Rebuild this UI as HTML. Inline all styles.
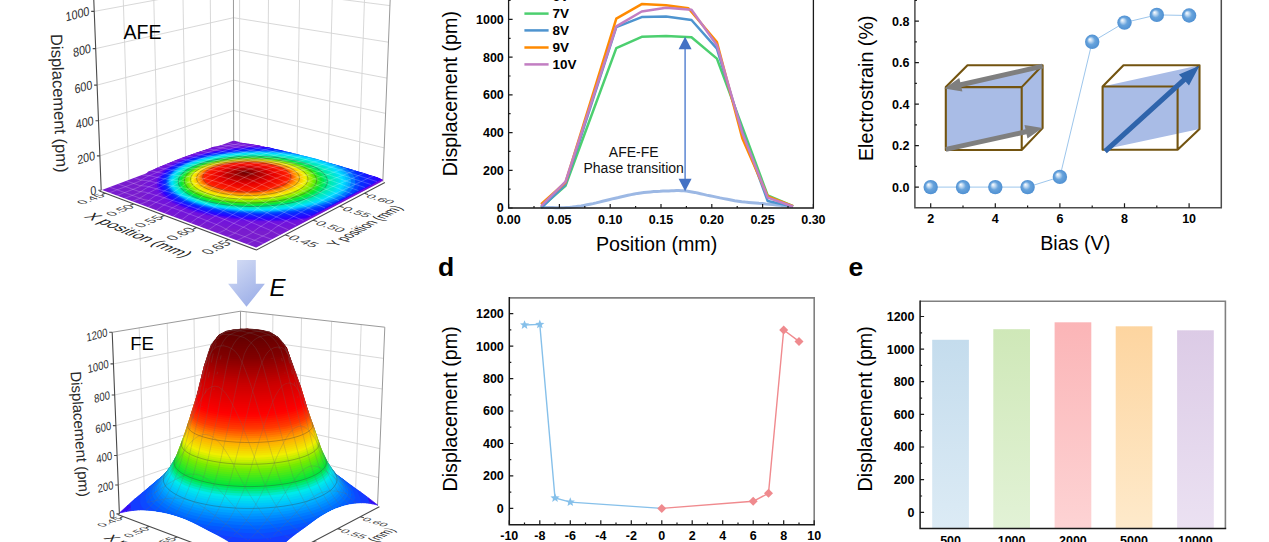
<!DOCTYPE html>
<html><head><meta charset="utf-8"><style>
html,body{margin:0;padding:0;background:#fff;}
svg{display:block;}
text{font-family:"Liberation Sans",sans-serif;}
</style></head><body>
<svg width="1269" height="542" viewBox="0 0 1269 542">
<rect width="1269" height="542" fill="#fff"/>
<path d="M99.9,155.9L233.6,110.5L384.2,147.9M98.5,120.8L233.6,80.1L385.6,113.4M97.1,85.1L233.5,49.2L387,78.1M95.7,48.6L233.5,17.7L388.5,42.2M94.2,11.4L233.4,-14.3L389.9,5.6M128.9,179.9L122.9,-12.3M157.8,169L153.4,-17.4M185.5,158.6L182.7,-22.2M211.5,148.8L210.1,-26.7M239.6,142.1L239.6,-29.8M267.3,149.7L268.7,-26.6M297,158L299.9,-23.1M328.1,166.6L332.7,-19.5M358.6,175.1L365,-15.9" fill="none" stroke="#d4d4d4" stroke-width="0.9"/>
<path d="M233.7,140.4L233.4,-30.5M382.8,181.8L390.7,-13M93.5,-7.5L233.4,-30.5L390.7,-13" fill="none" stroke="#9a9a9a" stroke-width="1"/>
<path d="M101.2,190.3 256.2,248.3 382.8,181.8 233.7,140.4Z" fill="#791cce"/>
<path d="M382.9,180.6 382.9,180.6 380.1,182 374.2,185.1 367.7,188.5 360.9,192.1 353.7,195.9 346.1,199.8 338.3,203.9 330.4,208 322.4,212.2 314.4,216.4 306.6,220.5 298.9,224.5 291.6,228.3 281.8,230.9 266.6,231.1 251.5,230.7 236.6,229.6 222.2,227.9 208.5,225.7 195.8,223 184.1,219.7 173.7,216.1 164.5,212.1 156.9,207.9 150.7,203.4 146,198.8 142.8,194.1 141,189.4 140.8,184.7 141.9,180.1 144.3,175.7 148.2,171.4 156.2,168.4 164.5,165.3 172.9,162.2 181.3,159 189.6,155.9 197.7,152.9 205.6,149.9 213.1,147.1 222.4,145 233.6,143.8 245,142.9 251.7,144.3 258.4,146.2 265.8,148.2 273.8,150.4 282.3,152.8 291.3,155.3 300.7,157.9 310.3,160.5 320.2,163.3 330.1,166 340,168.7 349.8,171.4 359.3,174.1 368.4,176.6 377,179Z" fill="#7719d2"/>
<path d="M382.9,180.4 382.9,180.4 379.7,182 373.9,185.1 367.5,188.4 360.8,191.9 353.7,195.6 346.3,199.5 338.7,203.5 330.9,207.6 323,211.7 315.1,215.8 307.4,219.8 299.9,223.8 292.7,227.5 281.8,229.7 266.9,229.8 252,229.4 237.3,228.4 223.2,226.7 209.7,224.6 197.2,221.9 185.7,218.7 175.4,215.2 166.4,211.3 158.8,207.2 152.7,202.8 148,198.3 144.8,193.7 143.1,189.1 142.8,184.5 143.8,180 146.2,175.6 149.8,171.4 156.6,168.1 164.8,165 173,161.9 181.2,158.8 189.4,155.8 197.4,152.8 205.1,149.9 212.6,147.1 223.2,145.5 234.3,144.3 245.6,143.4 253,144.5 259.6,146.3 266.9,148.4 274.8,150.5 283.2,152.9 292.1,155.3 301.3,157.9 310.8,160.5 320.5,163.2 330.3,165.9 340,168.6 349.6,171.2 359,173.8 367.9,176.3 376.4,178.6Z" fill="#7618d4"/>
<path d="M382.9,180.2 382.9,180.2 379.3,182 373.6,185 367.3,188.3 360.7,191.8 353.7,195.4 346.5,199.2 339,203.1 331.3,207.1 323.6,211.2 315.9,215.2 308.3,219.2 300.9,223 293.8,226.7 281.8,228.4 267.1,228.6 252.5,228.1 238.1,227.1 224.1,225.5 210.9,223.4 198.5,220.8 187.2,217.7 177.1,214.3 168.2,210.5 160.7,206.4 154.6,202.2 150,197.8 146.9,193.3 145.1,188.8 144.8,184.3 145.8,179.9 148.1,175.6 151.7,171.4 157,167.7 165,164.7 173.1,161.7 181.2,158.7 189.2,155.7 197.1,152.7 204.7,149.9 213.5,147.5 224.1,146 235,144.7 246.2,143.9 254.3,144.7 260.8,146.5 268,148.5 275.8,150.6 284.1,152.9 292.9,155.3 301.9,157.8 311.3,160.4 320.9,163.1 330.5,165.7 340,168.4 349.5,171 358.6,173.5 367.4,175.9 375.7,178.2Z" fill="#7517d6"/>
<path d="M382.5,179.9 382.9,180 378.9,182.1 373.3,185 367.2,188.2 360.6,191.6 353.8,195.2 346.6,198.9 339.3,202.8 331.7,206.7 324.1,210.7 316.6,214.6 309.1,218.5 301.8,222.3 294.9,225.9 281.9,227.1 267.4,227.3 253,226.9 238.8,225.9 225.1,224.3 212.1,222.3 199.9,219.7 188.8,216.8 178.8,213.4 170,209.7 162.6,205.7 156.6,201.6 152,197.3 148.9,192.9 147.2,188.4 146.8,184 147.8,179.7 150.1,175.5 153.5,171.5 158.1,167.6 165.3,164.4 173.2,161.5 181.2,158.5 189,155.5 196.8,152.6 204.4,149.9 214.4,148 224.9,146.4 235.7,145.2 246.7,144.4 255.5,144.8 262,146.6 269.2,148.6 276.8,150.7 285,153 293.6,155.4 302.6,157.8 311.8,160.4 321.2,163 330.6,165.6 340.1,168.2 349.3,170.7 358.3,173.2 366.9,175.6 375,177.8Z" fill="#7416d8"/>
<path d="M381.7,179.4 382.9,179.8 378.5,182.1 373,185 367,188.1 360.6,191.4 353.8,194.9 346.8,198.6 339.6,202.4 332.2,206.2 324.7,210.1 317.3,214 310,217.8 302.8,221.6 295.9,225.1 281.9,225.8 267.6,226 253.5,225.6 239.5,224.7 226.1,223.2 213.3,221.2 201.3,218.7 190.3,215.8 180.5,212.5 171.8,208.9 164.5,205 158.6,201 154.1,196.7 151,192.5 149.2,188.1 148.8,183.8 149.8,179.6 152,175.5 155.4,171.5 159.9,167.7 165.5,164.2 173.3,161.2 181.1,158.3 188.9,155.4 196.5,152.6 205.5,150.3 215.4,148.4 225.7,146.9 236.4,145.7 247.3,144.9 256.8,145 263.3,146.8 270.3,148.7 277.9,150.8 285.9,153 294.4,155.4 303.2,157.8 312.3,160.3 321.5,162.9 330.8,165.4 340.1,168 349.1,170.5 358,172.9 366.4,175.2 374.3,177.4Z" fill="#7315d9"/>
<path d="M380.8,179 382.9,179.6 378.1,182.1 372.7,184.9 366.8,188 360.5,191.3 353.9,194.7 347,198.3 339.9,202 332.6,205.8 325.3,209.6 318,213.4 310.8,217.2 303.8,220.8 295.6,223.8 281.9,224.6 267.9,224.7 254,224.4 240.3,223.4 227,222 214.4,220 202.7,217.6 191.9,214.8 182.2,211.6 173.7,208.1 166.4,204.3 160.6,200.3 156.1,196.2 153,192 151.3,187.8 150.9,183.6 151.8,179.5 153.9,175.4 157.2,171.5 161.6,167.8 167.1,164.3 173.5,161 181.1,158.1 188.7,155.3 197.4,152.8 206.6,150.7 216.4,148.9 226.6,147.4 237.1,146.2 247.9,145.4 258.1,145.2 264.5,147 271.4,148.9 278.9,150.9 286.8,153.1 295.2,155.4 303.9,157.8 312.8,160.3 321.9,162.8 331,165.3 340.1,167.8 349,170.2 357.6,172.6 365.9,174.9 373.7,177Z" fill="#7214db"/>
<path d="M380,178.6 382.6,179.6 377.7,182.1 372.3,184.9 366.6,187.9 360.4,191.1 353.9,194.5 347.1,198 340.2,201.7 333.1,205.4 325.9,209.1 318.7,212.8 311.6,216.5 304.8,220.1 295.4,222.6 281.9,223.3 268.1,223.5 254.5,223.1 241,222.2 228,220.8 215.6,218.9 204,216.6 193.4,213.8 183.8,210.7 175.5,207.3 168.4,203.6 162.6,199.7 158.1,195.7 155,191.6 153.3,187.5 152.9,183.4 153.8,179.3 155.8,175.4 159.1,171.6 163.4,167.9 168.8,164.5 175,161.3 182.2,158.3 190,155.6 198.6,153.2 207.7,151.1 217.4,149.3 227.4,147.9 237.8,146.7 248.5,145.9 259.3,145.5 265.7,147.1 272.6,149 279.9,151 287.7,153.2 296,155.4 304.5,157.8 313.3,160.2 322.2,162.7 331.2,165.1 340.1,167.6 348.8,170 357.3,172.3 365.4,174.6 373,176.7Z" fill="#7113dd"/>
<path d="M379.2,178.2 382.1,179.6 377.3,182.1 372,184.8 366.4,187.8 360.3,190.9 354,194.3 347.3,197.7 340.5,201.3 333.5,204.9 326.4,208.6 319.4,212.3 312.5,215.9 305.7,219.4 295.2,221.4 281.9,222 268.4,222.2 254.9,221.9 241.7,221 228.9,219.6 216.8,217.8 205.4,215.5 194.9,212.8 185.5,209.8 177.3,206.5 170.3,202.9 164.5,199.1 160.1,195.2 157.1,191.2 155.3,187.2 154.9,183.2 155.7,179.2 157.8,175.3 161,171.6 165.2,168 170.5,164.7 176.6,161.5 183.6,158.6 191.4,156 199.8,153.6 208.8,151.6 218.4,149.8 228.3,148.4 238.5,147.2 249,146.4 259.7,146 266.9,147.3 273.7,149.1 280.9,151.1 288.7,153.2 296.8,155.5 305.2,157.8 313.8,160.2 322.5,162.6 331.3,165 340.1,167.4 348.7,169.8 357,172 364.9,174.2 372.3,176.3Z" fill="#6a10e1"/>
<path d="M378.4,177.7 381.6,179.7 376.9,182.1 371.7,184.8 366.2,187.7 360.2,190.8 354,194 347.5,197.4 340.8,200.9 333.9,204.5 327,208.1 320.1,211.7 313.3,215.2 306.7,218.7 294.9,220.1 281.9,220.8 268.6,221 255.4,220.6 242.4,219.8 229.9,218.5 217.9,216.7 206.7,214.5 196.4,211.9 187.2,208.9 179.1,205.7 172.1,202.2 166.5,198.5 162.2,194.7 159.1,190.8 157.4,186.9 156.9,182.9 157.7,179.1 159.7,175.3 162.8,171.6 167,168.1 172.1,164.8 178.2,161.8 185.1,158.9 192.8,156.3 201.1,154 210,152 219.3,150.3 229.1,148.8 239.3,147.7 249.6,147 260.2,146.5 268.2,147.4 274.8,149.2 282,151.2 289.6,153.3 297.5,155.5 305.8,157.8 314.3,160.1 322.9,162.5 331.5,164.8 340.1,167.2 348.5,169.5 356.6,171.7 364.4,173.9 371.7,175.9Z" fill="#4c08f0"/>
<path d="M377.5,177.3 381.1,179.8 376.5,182.1 371.4,184.8 366,187.6 360.2,190.6 354,193.8 347.7,197.1 341.1,200.6 334.4,204 327.6,207.6 320.8,211.1 314.2,214.6 307.2,217.8 294.7,218.9 281.9,219.6 268.9,219.7 255.9,219.4 243.2,218.6 230.8,217.3 219.1,215.6 208.1,213.4 198,210.9 188.8,208 180.8,204.9 174,201.5 168.5,197.9 164.2,194.2 161.2,190.4 159.4,186.6 159,182.7 159.7,178.9 161.6,175.2 164.7,171.7 168.8,168.2 173.8,165 179.8,162 186.6,159.2 194.1,156.7 202.3,154.4 211.1,152.4 220.3,150.7 230,149.3 240,148.2 250.2,147.5 260.6,147 269.4,147.6 276,149.4 283,151.3 290.5,153.4 298.3,155.5 306.4,157.8 314.8,160 323.2,162.4 331.7,164.7 340.1,167 348.3,169.3 356.3,171.5 363.9,173.5 371,175.5Z" fill="#2e00fe"/>
<path d="M375.1,176.4 377.3,179.8 374.9,182.7 370,185.3 364.7,188.1 359,191 353,194.2 346.7,197.4 340.3,200.7 333.8,204.2 327.1,207.6 320.6,211 314.1,214.4 304.5,216.6 292.4,217.7 279.9,218.4 267.3,218.5 254.7,218.2 242.3,217.4 230.3,216.2 218.9,214.5 208.2,212.4 198.4,210 189.5,207.2 181.7,204.1 175.1,200.8 169.7,197.4 165.5,193.7 162.5,190 160.8,186.3 160.3,182.6 161.1,178.9 162.9,175.3 165.9,171.8 169.9,168.4 174.8,165.3 180.6,162.3 187.2,159.6 194.6,157.1 202.6,154.9 211.1,153 220.2,151.3 229.6,149.9 239.4,148.9 249.4,148.1 259.5,147.7 269.7,147.6 276.2,149.3 283.1,151.2 290.4,153.2 298,155.3 305.9,157.4 314.1,159.7 322.3,161.9 330.5,164.2 338.7,166.4 346.7,168.6 354.4,170.8 361.8,172.8 368.7,174.7Z" fill="#240bff"/>
<path d="M371.3,176.2 372.8,179.7 373.2,183.4 368.5,185.9 363.3,188.6 357.7,191.5 351.9,194.5 345.8,197.7 339.5,201 333.1,204.3 326.6,207.6 320.2,211 313.1,214 301.8,215.5 290,216.6 277.9,217.2 265.7,217.4 253.4,217.1 241.4,216.3 229.8,215.1 218.7,213.5 208.3,211.4 198.8,209.1 190.1,206.4 182.6,203.4 176.1,200.2 170.8,196.8 166.7,193.3 163.8,189.7 162.2,186 161.7,182.4 162.4,178.8 164.2,175.3 167.1,171.9 170.9,168.6 175.7,165.6 181.4,162.7 187.8,160 195,157.6 202.8,155.4 211.1,153.5 219.9,151.9 229.1,150.6 238.7,149.5 248.4,148.8 258.3,148.3 268.3,148.2 276.5,149.2 283.2,151 290.3,152.9 297.7,155 305.4,157.1 313.3,159.3 321.3,161.4 329.3,163.6 337.2,165.8 345,168 352.5,170 359.7,172 366.4,173.8Z" fill="#1a16ff"/>
<path d="M366.9,176.2 368.4,179.6 368.8,183.2 367,186.5 361.9,189.1 356.5,191.9 350.7,194.9 344.8,198 338.7,201.2 332.4,204.4 326.2,207.7 319.9,210.9 310.1,212.9 299.1,214.4 287.7,215.4 275.9,216 264,216.2 252.2,215.9 240.5,215.2 229.2,214 218.5,212.4 208.4,210.5 199.1,208.1 190.8,205.5 183.4,202.6 177.1,199.5 172,196.3 168,192.8 165.2,189.3 163.5,185.8 163.1,182.3 163.7,178.8 165.4,175.3 168.2,172 172,168.8 176.6,165.8 182.2,163 188.4,160.4 195.4,158 203,155.9 211.1,154.1 219.7,152.5 228.7,151.2 238,150.2 247.5,149.4 257.2,149 266.9,148.9 276.6,149.1 283.2,150.8 290.1,152.7 297.4,154.7 304.8,156.7 312.5,158.8 320.3,161 328.1,163.1 335.8,165.2 343.3,167.3 350.6,169.3 357.5,171.2 364,173Z" fill="#1021ff"/>
<path d="M362.6,176.2 364,179.6 364.3,183 363.5,186.5 360.5,189.6 355.2,192.4 349.6,195.3 343.8,198.3 337.9,201.4 331.8,204.6 325.7,207.7 317.1,210.1 307,211.9 296.4,213.3 285.3,214.3 273.9,214.9 262.4,215 250.9,214.7 239.6,214 228.7,212.9 218.3,211.4 208.5,209.5 199.5,207.2 191.4,204.7 184.2,201.9 178.1,198.9 173.1,195.7 169.2,192.4 166.5,189 164.9,185.5 164.4,182.1 165,178.7 166.7,175.4 169.4,172.1 173,169 177.6,166.1 182.9,163.4 189,160.8 195.8,158.5 203.2,156.4 211.1,154.6 219.5,153.1 228.2,151.8 237.3,150.8 246.6,150.1 256,149.7 265.5,149.6 274.9,149.7 283.3,150.7 290,152.5 297,154.4 304.3,156.4 311.7,158.4 319.3,160.5 326.8,162.6 334.3,164.6 341.6,166.6 348.7,168.6 355.4,170.4 360.2,172.9Z" fill="#062cff"/>
<path d="M358.2,176.2 359.6,179.5 359.8,182.8 359,186.2 357.1,189.6 353.9,192.8 348.5,195.7 342.8,198.6 337,201.6 331,204.6 322.8,207 313.7,209.1 304,210.8 293.7,212.2 283,213.2 271.9,213.7 260.8,213.9 249.7,213.6 238.7,212.9 228.1,211.8 218,210.3 208.6,208.5 199.9,206.3 192,203.9 185.1,201.2 179.1,198.2 174.3,195.2 170.5,191.9 167.8,188.6 166.2,185.3 165.8,181.9 166.4,178.6 168,175.4 170.6,172.2 174.1,169.2 178.5,166.4 183.7,163.7 189.6,161.2 196.2,159 203.4,157 211.1,155.2 219.3,153.7 227.8,152.4 236.6,151.5 245.6,150.8 254.8,150.4 264,150.3 273.2,150.4 282.4,150.9 289.9,152.3 296.7,154.1 303.7,156.1 311,158 318.3,160 325.6,162.1 332.9,164 339.9,166 346.8,167.9 352.7,170 355.9,173Z" fill="#0047ff"/>
<path d="M353.9,176.2 355.1,179.4 355.3,182.7 354.5,185.9 352.6,189.2 349.6,192.4 345.5,195.5 340.4,198.5 334.3,201.2 327.2,203.8 319.2,206.1 310.4,208.1 301,209.8 291,211.1 280.6,212 270,212.6 259.2,212.7 248.4,212.4 237.8,211.8 227.6,210.7 217.8,209.3 208.7,207.5 200.2,205.4 192.6,203 185.9,200.4 180.1,197.6 175.4,194.6 171.7,191.5 169.1,188.3 167.6,185 167.1,181.8 167.7,178.6 169.2,175.4 171.8,172.4 175.2,169.4 179.4,166.7 184.5,164.1 190.2,161.6 196.6,159.4 203.6,157.5 211.1,155.7 219,154.3 227.3,153.1 235.9,152.1 244.7,151.4 253.6,151 262.6,150.9 271.5,151.1 280.4,151.6 289.2,152.3 296.4,153.9 303.2,155.7 310.2,157.6 317.3,159.6 324.4,161.5 331.4,163.4 338.3,165.3 344.5,167.3 348.5,170.2 351.7,173.1Z" fill="#0077ff"/>
<path d="M349.5,176.2 350.7,179.3 350.9,182.5 350,185.7 348.1,188.8 345.2,191.9 341.2,194.9 336.2,197.8 330.2,200.5 323.4,203 315.6,205.2 307.2,207.1 298,208.7 288.4,210 278.3,210.9 268,211.4 257.6,211.6 247.2,211.3 237,210.7 227.1,209.6 217.6,208.3 208.8,206.5 200.6,204.5 193.2,202.2 186.7,199.7 181.1,197 176.5,194.1 173,191 170.4,187.9 169,184.8 168.5,181.6 169,178.5 170.5,175.5 172.9,172.5 176.2,169.6 180.4,166.9 185.3,164.4 190.8,162.1 197.1,159.9 203.8,158 211.1,156.3 218.8,154.9 226.8,153.7 235.2,152.8 243.7,152.1 252.4,151.7 261.1,151.6 269.8,151.8 278.5,152.2 286.9,152.9 295.2,153.9 302.7,155.4 309.4,157.2 316.3,159.1 323.2,161 329.9,162.9 335.9,165 340.6,167.6 344.4,170.3 347.4,173.2Z" fill="#00a7ff"/>
<path d="M347.1,176.3 348.2,179.4 348.3,182.5 347.5,185.6 345.6,188.7 342.7,191.7 338.8,194.7 333.9,197.5 328,200.1 321.3,202.6 313.7,204.7 305.4,206.6 296.4,208.2 287,209.5 277.1,210.4 267,210.9 256.8,211 246.6,210.7 236.6,210.1 226.9,209.1 217.7,207.8 209,206.1 201,204.1 193.8,201.8 187.4,199.4 181.9,196.7 177.4,193.8 173.9,190.9 171.5,187.8 170,184.7 169.5,181.6 170,178.6 171.5,175.6 173.8,172.6 177.1,169.8 181.1,167.2 185.9,164.7 191.4,162.4 197.5,160.3 204.1,158.4 211.3,156.7 218.8,155.3 226.7,154.1 234.9,153.2 243.3,152.6 251.8,152.2 260.4,152.1 268.9,152.3 277.4,152.7 285.7,153.4 293.8,154.4 301.7,155.6 309.1,157.1 316,158.8 322.6,160.7 328.5,162.9 333.8,165.3 338.3,167.8 342.1,170.5 345,173.4Z" fill="#00bcff"/>
<path d="M344.7,176.5 345.8,179.4 345.9,182.5 345,185.6 343.2,188.6 340.3,191.6 336.5,194.5 331.6,197.2 325.9,199.8 319.3,202.2 311.8,204.4 303.7,206.2 294.9,207.8 285.6,209 276,209.9 266.1,210.4 256.1,210.5 246.1,210.2 236.3,209.6 226.8,208.6 217.8,207.3 209.3,205.7 201.4,203.7 194.4,201.5 188.1,199.1 182.7,196.4 178.3,193.6 174.9,190.7 172.4,187.7 171,184.7 170.5,181.6 171,178.6 172.4,175.7 174.7,172.8 177.9,170 181.9,167.4 186.6,165 191.9,162.7 197.9,160.6 204.5,158.7 211.5,157.1 218.9,155.7 226.6,154.6 234.7,153.7 242.9,153 251.3,152.7 259.7,152.6 268.1,152.7 276.4,153.2 284.6,153.8 292.6,154.8 300.2,156 307.5,157.5 314.4,159.2 320.8,161.1 326.5,163.2 331.7,165.6 336.1,168.1 339.8,170.7 342.7,173.5Z" fill="#00d0ff"/>
<path d="M342.3,176.6 343.4,179.5 343.5,182.5 342.6,185.5 340.8,188.5 338,191.4 334.2,194.3 329.4,197 323.8,199.5 317.3,201.9 310,204 302,205.8 293.4,207.3 284.3,208.5 274.9,209.3 265.2,209.8 255.4,210 245.6,209.7 236,209.1 226.8,208.1 217.9,206.8 209.6,205.2 201.9,203.3 194.9,201.1 188.8,198.8 183.5,196.2 179.2,193.4 175.8,190.6 173.4,187.6 172,184.6 171.5,181.6 172,178.7 173.4,175.8 175.6,172.9 178.7,170.2 182.6,167.6 187.2,165.2 192.5,163 198.4,160.9 204.8,159.1 211.6,157.5 218.9,156.1 226.5,155 234.4,154.1 242.5,153.5 250.7,153.1 259,153 267.2,153.2 275.4,153.6 283.5,154.3 291.3,155.2 298.8,156.4 305.9,157.9 312.7,159.5 318.9,161.4 324.6,163.5 329.6,165.8 334,168.3 337.6,170.9 340.4,173.7Z" fill="#00e1fd"/>
<path d="M340,176.7 341,179.6 341,182.5 340.2,185.5 338.4,188.4 335.6,191.3 331.9,194.1 327.2,196.7 321.7,199.2 315.3,201.5 308.1,203.6 300.3,205.3 291.9,206.8 283,208 273.8,208.8 264.3,209.3 254.7,209.4 245.1,209.2 235.8,208.6 226.7,207.7 218,206.4 209.8,204.8 202.3,202.9 195.5,200.8 189.5,198.4 184.3,195.9 180.1,193.2 176.8,190.4 174.4,187.5 173,184.6 172.5,181.7 173,178.7 174.3,175.9 176.5,173.1 179.6,170.4 183.4,167.9 187.9,165.5 193,163.3 198.8,161.3 205.1,159.5 211.8,157.9 219,156.5 226.5,155.4 234.2,154.6 242.1,153.9 250.2,153.6 258.3,153.5 266.4,153.7 274.4,154.1 282.3,154.7 290,155.7 297.3,156.9 304.4,158.3 311,159.9 317.1,161.8 322.6,163.8 327.6,166.1 331.8,168.5 335.3,171.1 338.1,173.8Z" fill="#00e3ed"/>
<path d="M337.6,176.8 338.6,179.6 338.6,182.5 337.8,185.4 336,188.3 333.2,191.1 329.6,193.9 325,196.5 319.6,198.9 313.3,201.1 306.3,203.2 298.6,204.9 290.4,206.4 281.7,207.5 272.7,208.3 263.4,208.8 254,208.9 244.7,208.7 235.5,208.1 226.6,207.2 218.1,205.9 210.1,204.4 202.7,202.5 196.1,200.4 190.2,198.1 185.1,195.7 181,193 177.7,190.3 175.4,187.4 174,184.5 173.5,181.7 174,178.8 175.3,176 177.4,173.2 180.4,170.6 184.1,168.1 188.5,165.8 193.6,163.6 199.2,161.6 205.4,159.9 212,158.3 219,157 226.4,155.9 233.9,155 241.7,154.4 249.6,154.1 257.6,154 265.6,154.1 273.4,154.5 281.2,155.2 288.7,156.1 295.9,157.3 302.8,158.7 309.2,160.3 315.2,162.1 320.7,164.2 325.5,166.4 329.7,168.8 333.1,171.3 335.8,174Z" fill="#00e5dc"/>
<path d="M335.2,176.9 336.1,179.7 336.2,182.5 335.3,185.4 333.6,188.2 330.9,191 327.3,193.6 322.8,196.2 317.4,198.6 311.3,200.8 304.5,202.8 297,204.5 288.9,205.9 280.4,207 271.5,207.8 262.5,208.3 253.3,208.4 244.2,208.2 235.2,207.6 226.5,206.7 218.2,205.5 210.4,203.9 203.2,202.1 196.6,200.1 190.9,197.8 185.9,195.4 181.8,192.8 178.7,190.1 176.4,187.3 175,184.5 174.5,181.7 174.9,178.8 176.2,176.1 178.3,173.4 181.2,170.8 184.9,168.4 189.2,166.1 194.1,163.9 199.7,162 205.7,160.2 212.2,158.7 219.1,157.4 226.3,156.3 233.7,155.5 241.3,154.9 249.1,154.5 256.9,154.4 264.7,154.6 272.4,155 280,155.7 287.4,156.6 294.4,157.7 301.2,159.1 307.5,160.7 313.4,162.5 318.7,164.5 323.4,166.7 327.5,169 330.8,171.5 333.4,174.2Z" fill="#00e7cc"/>
<path d="M332.8,177 333.7,179.7 333.7,182.5 332.9,185.3 331.1,188.1 328.5,190.8 325,193.4 320.6,195.9 315.3,198.3 309.3,200.4 302.6,202.4 295.3,204.1 287.4,205.5 279.1,206.5 270.4,207.3 261.6,207.8 252.6,207.9 243.7,207.7 234.9,207.1 226.4,206.2 218.3,205 210.6,203.5 203.6,201.8 197.2,199.7 191.6,197.5 186.7,195.1 182.7,192.6 179.6,190 177.4,187.2 176,184.5 175.5,181.7 175.9,178.9 177.2,176.2 179.2,173.6 182.1,171 185.6,168.6 189.9,166.3 194.7,164.2 200.1,162.3 206,160.6 212.4,159.1 219.1,157.8 226.2,156.7 233.5,155.9 240.9,155.3 248.5,155 256.2,154.9 263.8,155.1 271.4,155.5 278.8,156.1 286,157 293,158.1 299.6,159.5 305.8,161 311.5,162.8 316.7,164.8 321.3,167 325.3,169.3 328.6,171.7 331.1,174.3Z" fill="#00e9bc"/>
<path d="M330.4,177.1 331.3,179.8 331.3,182.5 330.5,185.3 328.7,188 326.1,190.6 322.7,193.2 318.3,195.7 313.2,198 307.4,200.1 300.8,202 293.6,203.6 285.9,205 277.8,206.1 269.3,206.8 260.7,207.3 251.9,207.4 243.2,207.1 234.6,206.6 226.3,205.7 218.4,204.5 210.9,203.1 204,201.4 197.8,199.4 192.3,197.2 187.5,194.9 183.6,192.4 180.5,189.8 178.3,187.1 177,184.4 176.5,181.7 176.9,179 178.1,176.3 180.2,173.7 182.9,171.2 186.4,168.8 190.5,166.6 195.3,164.6 200.6,162.7 206.4,161 212.6,159.5 219.2,158.2 226.1,157.2 233.2,156.4 240.5,155.8 248,155.5 255.5,155.4 263,155.5 270.4,155.9 277.7,156.6 284.7,157.4 291.5,158.5 298,159.9 304,161.4 309.7,163.2 314.7,165.1 319.2,167.2 323.1,169.5 326.3,171.9 328.8,174.5Z" fill="#00ebac"/>
<path d="M328,177.2 328.9,179.8 328.9,182.5 328,185.2 326.3,187.9 323.8,190.5 320.3,193 316.1,195.4 311.1,197.7 305.4,199.7 299,201.6 291.9,203.2 284.4,204.5 276.5,205.6 268.2,206.3 259.8,206.8 251.2,206.9 242.7,206.6 234.3,206.1 226.2,205.2 218.5,204.1 211.2,202.7 204.5,201 198.4,199.1 193,196.9 188.3,194.6 184.5,192.2 181.5,189.6 179.3,187 178,184.4 177.6,181.7 177.9,179 179.1,176.4 181.1,173.9 183.8,171.4 187.1,169.1 191.2,166.9 195.8,164.9 201,163 206.7,161.4 212.8,159.9 219.2,158.7 226,157.6 233,156.8 240.1,156.3 247.4,155.9 254.8,155.9 262.1,156 269.4,156.4 276.5,157 283.4,157.9 290.1,159 296.4,160.3 302.3,161.8 307.8,163.5 312.8,165.4 317.2,167.5 320.9,169.8 324,172.1 326.4,174.6Z" fill="#00ea8f"/>
<path d="M325.6,177.3 326.4,179.9 326.4,182.5 325.6,185.2 323.9,187.8 321.4,190.3 318,192.8 313.9,195.2 309,197.4 303.4,199.4 297.1,201.2 290.3,202.8 282.9,204.1 275.2,205.1 267.1,205.8 258.9,206.2 250.5,206.3 242.2,206.1 234,205.6 226.1,204.8 218.6,203.6 211.5,202.2 204.9,200.6 198.9,198.7 193.7,196.6 189.1,194.4 185.4,192 182.4,189.5 180.3,186.9 179,184.3 178.6,181.7 178.9,179.1 180.1,176.5 182,174 184.6,171.6 187.9,169.3 191.9,167.2 196.4,165.2 201.5,163.4 207,161.7 213,160.3 219.3,159.1 225.9,158.1 232.7,157.3 239.7,156.7 246.9,156.4 254.1,156.3 261.2,156.5 268.3,156.9 275.3,157.5 282.1,158.3 288.6,159.4 294.8,160.7 300.6,162.2 305.9,163.9 310.8,165.8 315,167.8 318.7,170 321.8,172.3 324.1,174.8Z" fill="#00e870"/>
<path d="M323.2,177.4 324,180 324,182.5 323.1,185.1 321.5,187.7 319,190.2 315.7,192.6 311.7,194.9 306.9,197.1 301.4,199 295.3,200.8 288.6,202.3 281.4,203.6 273.9,204.6 266,205.3 258,205.7 249.8,205.8 241.7,205.6 233.8,205.1 226,204.3 218.7,203.2 211.7,201.8 205.3,200.2 199.5,198.4 194.4,196.3 189.9,194.1 186.3,191.8 183.4,189.3 181.3,186.8 180,184.3 179.6,181.7 179.9,179.1 181,176.6 182.9,174.2 185.4,171.8 188.7,169.6 192.5,167.5 197,165.5 201.9,163.7 207.3,162.1 213.1,160.7 219.3,159.5 225.8,158.5 232.5,157.8 239.3,157.2 246.3,156.9 253.4,156.8 260.4,157 267.3,157.3 274.1,157.9 280.7,158.8 287.1,159.8 293.1,161.1 298.8,162.6 304,164.2 308.8,166.1 312.9,168.1 316.5,170.2 319.5,172.5 321.7,174.9Z" fill="#00e751"/>
<path d="M321.2,177.4 321.9,179.9 321.9,182.5 321,185 319.4,187.5 317,190 313.8,192.3 309.8,194.6 305.1,196.7 299.7,198.6 293.7,200.4 287.2,201.9 280.2,203.1 272.8,204.1 265.1,204.8 257.2,205.2 249.3,205.3 241.4,205.1 233.6,204.6 226,203.8 218.8,202.7 212.1,201.3 205.8,199.8 200.1,198 195.1,196 190.7,193.8 187.2,191.5 184.3,189.1 182.3,186.7 181,184.2 180.6,181.6 180.9,179.1 182,176.7 183.8,174.3 186.3,171.9 189.5,169.7 193.2,167.7 197.6,165.8 202.4,164 207.7,162.4 213.4,161 219.5,159.9 225.8,158.9 232.3,158.1 239.1,157.6 245.9,157.3 252.8,157.2 259.7,157.4 266.5,157.7 273.1,158.3 279.6,159.2 285.8,160.2 291.8,161.4 297.3,162.9 302.4,164.5 307,166.3 311.1,168.3 314.6,170.4 317.5,172.7 319.7,175Z" fill="#06e638"/>
<path d="M319.8,177.3 320.5,179.8 320.4,182.3 319.6,184.8 318,187.2 315.6,189.6 312.4,192 308.5,194.2 303.9,196.2 298.6,198.1 292.7,199.8 286.3,201.3 279.4,202.5 272.2,203.5 264.6,204.2 256.9,204.6 249.1,204.7 241.3,204.5 233.7,204 226.3,203.2 219.2,202.1 212.6,200.8 206.4,199.2 200.8,197.5 195.9,195.5 191.6,193.4 188.1,191.2 185.3,188.8 183.3,186.4 182.1,183.9 181.6,181.5 181.9,179 183,176.6 184.7,174.2 187.2,171.9 190.3,169.8 194,167.7 198.3,165.8 203,164.1 208.2,162.6 213.8,161.2 219.8,160 226,159.1 232.5,158.3 239.1,157.8 245.8,157.5 252.6,157.4 259.3,157.6 266,157.9 272.6,158.5 279,159.3 285.1,160.4 290.9,161.6 296.3,163 301.4,164.6 305.9,166.4 309.9,168.3 313.4,170.4 316.2,172.6 318.3,174.9Z" fill="#1ae72e"/>
<path d="M318.3,177.2 319,179.6 319,182.1 318.1,184.5 316.6,186.9 314.2,189.3 311.1,191.6 307.2,193.8 302.7,195.8 297.5,197.6 291.7,199.3 285.4,200.7 278.7,201.9 271.5,202.9 264.1,203.6 256.6,203.9 248.9,204 241.3,203.8 233.8,203.3 226.5,202.6 219.6,201.5 213.1,200.3 207,198.7 201.5,197 196.7,195.1 192.5,193 189,190.8 186.3,188.5 184.3,186.1 183.1,183.7 182.6,181.3 182.9,178.9 184,176.5 185.7,174.2 188.1,171.9 191.1,169.8 194.8,167.8 198.9,165.9 203.6,164.2 208.7,162.7 214.2,161.4 220.1,160.2 226.2,159.3 232.6,158.6 239.1,158 245.7,157.7 252.4,157.7 259,157.8 265.6,158.2 272,158.7 278.3,159.5 284.3,160.5 290,161.8 295.4,163.1 300.3,164.7 304.8,166.5 308.7,168.4 312.1,170.4 314.8,172.6 316.9,174.9Z" fill="#2ee823"/>
<path d="M316.9,177.1 317.6,179.5 317.5,181.9 316.7,184.3 315.1,186.7 312.8,189 309.7,191.2 306,193.3 301.5,195.3 296.4,197.1 290.7,198.8 284.5,200.2 277.9,201.4 270.9,202.3 263.7,202.9 256.2,203.3 248.7,203.4 241.3,203.2 233.9,202.7 226.8,202 220,201 213.6,199.7 207.6,198.2 202.2,196.5 197.5,194.6 193.4,192.6 189.9,190.4 187.2,188.2 185.3,185.9 184.1,183.5 183.6,181.1 183.9,178.7 184.9,176.4 186.6,174.1 189,171.9 192,169.8 195.5,167.9 199.6,166 204.2,164.4 209.3,162.9 214.7,161.5 220.4,160.4 226.4,159.5 232.7,158.8 239.1,158.3 245.6,158 252.1,157.9 258.7,158 265.1,158.4 271.5,159 277.6,159.7 283.6,160.7 289.2,161.9 294.4,163.3 299.3,164.8 303.6,166.6 307.5,168.4 310.8,170.5 313.5,172.6 315.6,174.8Z" fill="#42e918"/>
<path d="M315.5,177 316.2,179.3 316.1,181.7 315.3,184 313.7,186.4 311.4,188.6 308.4,190.8 304.7,192.9 300.3,194.9 295.3,196.7 289.7,198.2 283.7,199.6 277.2,200.8 270.3,201.7 263.2,202.3 255.9,202.7 248.5,202.8 241.2,202.6 234,202.1 227,201.4 220.3,200.4 214,199.2 208.2,197.7 202.9,196 198.3,194.2 194.2,192.2 190.9,190.1 188.2,187.9 186.3,185.6 185.1,183.3 184.7,180.9 184.9,178.6 185.9,176.3 187.6,174 189.9,171.9 192.8,169.8 196.3,167.9 200.3,166.1 204.8,164.5 209.8,163 215.1,161.7 220.7,160.6 226.7,159.7 232.8,159 239.1,158.5 245.5,158.2 251.9,158.1 258.3,158.2 264.7,158.6 270.9,159.2 277,159.9 282.8,160.9 288.3,162.1 293.5,163.4 298.2,165 302.5,166.6 306.3,168.5 309.5,170.5 312.2,172.6 314.2,174.8Z" fill="#56ea0d"/>
<path d="M314.1,176.9 314.7,179.2 314.6,181.5 313.8,183.8 312.3,186.1 310,188.3 307.1,190.5 303.4,192.5 299.1,194.4 294.2,196.2 288.8,197.7 282.8,199.1 276.4,200.2 269.7,201.1 262.7,201.7 255.6,202.1 248.4,202.2 241.2,202 234.1,201.5 227.3,200.8 220.7,199.8 214.5,198.6 208.8,197.2 203.7,195.6 199.1,193.8 195.1,191.8 191.8,189.7 189.2,187.6 187.3,185.3 186.1,183 185.7,180.7 185.9,178.4 186.9,176.2 188.5,174 190.8,171.9 193.6,169.9 197.1,168 201,166.2 205.4,164.6 210.3,163.1 215.5,161.9 221.1,160.8 226.9,159.9 232.9,159.2 239.1,158.7 245.4,158.4 251.7,158.3 258,158.5 264.3,158.8 270.4,159.4 276.3,160.1 282,161.1 287.4,162.2 292.5,163.6 297.2,165.1 301.4,166.7 305.1,168.5 308.3,170.5 310.8,172.5 312.8,174.7Z" fill="#6aeb02"/>
<path d="M312.7,176.8 313.3,179 313.2,181.3 312.4,183.6 310.9,185.8 308.7,188 305.8,190.1 302.2,192.1 297.9,194 293.1,195.7 287.8,197.2 281.9,198.5 275.7,199.6 269.1,200.5 262.2,201.1 255.2,201.5 248.2,201.5 241.1,201.4 234.2,200.9 227.5,200.2 221.1,199.3 215,198.1 209.4,196.7 204.4,195.1 199.8,193.3 196,191.4 192.7,189.4 190.2,187.2 188.3,185 187.1,182.8 186.7,180.6 186.9,178.3 187.9,176.1 189.5,173.9 191.7,171.9 194.5,169.9 197.8,168 201.7,166.3 206,164.7 210.8,163.3 215.9,162 221.4,161 227.1,160.1 233,159.4 239.1,158.9 245.3,158.6 251.5,158.6 257.7,158.7 263.8,159 269.8,159.6 275.6,160.3 281.2,161.3 286.6,162.4 291.5,163.7 296.1,165.2 300.2,166.8 303.9,168.6 307,170.5 309.5,172.5 311.4,174.6Z" fill="#80ec00"/>
<path d="M311.3,176.7 311.9,178.9 311.8,181.1 311,183.3 309.5,185.5 307.3,187.7 304.4,189.7 300.9,191.7 296.8,193.5 292,195.2 286.8,196.7 281,198 274.9,199 268.5,199.9 261.8,200.5 254.9,200.8 248,200.9 241.1,200.7 234.3,200.3 227.7,199.6 221.5,198.7 215.5,197.5 210,196.2 205.1,194.6 200.6,192.9 196.8,191 193.6,189 191.1,186.9 189.3,184.8 188.2,182.6 187.7,180.4 187.9,178.2 188.8,176 190.4,173.9 192.6,171.9 195.3,169.9 198.6,168.1 202.4,166.4 206.7,164.8 211.3,163.4 216.4,162.2 221.7,161.2 227.3,160.3 233.1,159.6 239.1,159.1 245.1,158.9 251.2,158.8 257.3,158.9 263.4,159.3 269.3,159.8 275,160.5 280.5,161.4 285.7,162.6 290.6,163.8 295,165.3 299.1,166.9 302.7,168.6 305.7,170.5 308.2,172.5 310,174.6Z" fill="#97ed00"/>
<path d="M309.9,176.6 310.4,178.7 310.3,180.9 309.5,183.1 308.1,185.2 305.9,187.3 303.1,189.3 299.6,191.3 295.6,193 290.9,194.7 285.8,196.1 280.2,197.4 274.2,198.5 267.8,199.3 261.3,199.9 254.6,200.2 247.8,200.3 241.1,200.1 234.4,199.7 228,199 221.8,198.1 216,197 210.6,195.7 205.8,194.1 201.4,192.4 197.7,190.6 194.6,188.7 192.1,186.6 190.3,184.5 189.2,182.4 188.7,180.2 188.9,178 189.8,175.9 191.3,173.8 193.5,171.8 196.2,169.9 199.4,168.1 203.1,166.5 207.3,164.9 211.9,163.6 216.8,162.4 222,161.3 227.5,160.5 233.2,159.8 239.1,159.4 245,159.1 251,159 257,159.1 262.9,159.5 268.7,160 274.3,160.7 279.7,161.6 284.8,162.7 289.6,164 294,165.4 298,167 301.4,168.7 304.4,170.5 306.8,172.5 308.7,174.5Z" fill="#aded00"/>
<path d="M308.5,176.5 309,178.6 308.9,180.7 308.1,182.8 306.6,184.9 304.5,187 301.8,189 298.4,190.8 294.4,192.6 289.9,194.2 284.8,195.6 279.3,196.9 273.4,197.9 267.2,198.7 260.8,199.3 254.3,199.6 247.6,199.7 241,199.5 234.5,199.1 228.2,198.4 222.2,197.6 216.5,196.4 211.2,195.1 206.5,193.7 202.2,192 198.5,190.2 195.5,188.3 193.1,186.3 191.3,184.2 190.2,182.1 189.7,180 190,177.9 190.8,175.8 192.3,173.8 194.4,171.8 197,170 200.2,168.2 203.8,166.6 207.9,165.1 212.4,163.7 217.2,162.5 222.4,161.5 227.8,160.7 233.3,160 239.1,159.6 244.9,159.3 250.8,159.2 256.7,159.4 262.5,159.7 268.1,160.2 273.6,160.9 278.9,161.8 283.9,162.9 288.6,164.1 292.9,165.5 296.8,167.1 300.2,168.7 303.1,170.5 305.5,172.4 307.3,174.4Z" fill="#c3ee00"/>
<path d="M307,176.4 307.6,178.4 307.4,180.5 306.7,182.6 305.2,184.7 303.2,186.7 300.4,188.6 297.1,190.4 293.2,192.1 288.8,193.7 283.8,195.1 278.4,196.3 272.7,197.3 266.6,198.1 260.3,198.7 253.9,199 247.4,199.1 241,198.9 234.6,198.5 228.5,197.9 222.6,197 217,195.9 211.9,194.6 207.2,193.2 203,191.6 199.4,189.8 196.4,187.9 194,186 192.3,184 191.2,181.9 190.8,179.8 191,177.8 191.8,175.7 193.2,173.7 195.3,171.8 197.8,170 200.9,168.3 204.5,166.7 208.5,165.2 212.9,163.9 217.6,162.7 222.7,161.7 228,160.9 233.5,160.3 239.1,159.8 244.8,159.5 250.6,159.5 256.3,159.6 262,159.9 267.6,160.4 273,161.1 278.1,162 283.1,163 287.6,164.2 291.9,165.6 295.7,167.1 299,168.8 301.9,170.5 304.2,172.4 305.9,174.4Z" fill="#daef00"/>
<path d="M305.6,176.3 306.1,178.3 306,180.3 305.2,182.4 303.8,184.4 301.8,186.3 299.1,188.2 295.9,190 292,191.7 287.7,193.2 282.8,194.6 277.6,195.8 271.9,196.8 266,197.5 259.9,198.1 253.6,198.4 247.3,198.5 240.9,198.3 234.7,197.9 228.7,197.3 222.9,196.4 217.5,195.4 212.5,194.1 207.9,192.7 203.8,191.1 200.3,189.4 197.3,187.6 195,185.7 193.3,183.7 192.2,181.7 191.8,179.7 192,177.6 192.8,175.6 194.2,173.7 196.2,171.8 198.7,170 201.7,168.3 205.2,166.7 209.1,165.3 213.4,164 218.1,162.9 223,161.9 228.2,161.1 233.6,160.5 239.1,160 244.7,159.8 250.3,159.7 256,159.8 261.5,160.1 267,160.6 272.3,161.3 277.4,162.2 282.2,163.2 286.7,164.4 290.8,165.7 294.5,167.2 297.8,168.8 300.6,170.6 302.8,172.4 304.5,174.3Z" fill="#f0f000"/>
<path d="M304.2,176.2 304.7,178.1 304.6,180.1 303.8,182.1 302.4,184.1 300.4,186 297.8,187.9 294.6,189.6 290.9,191.2 286.6,192.7 281.9,194.1 276.7,195.2 271.2,196.2 265.4,196.9 259.4,197.5 253.3,197.8 247.1,197.9 240.9,197.7 234.8,197.3 228.9,196.7 223.3,195.9 218,194.8 213.1,193.6 208.6,192.2 204.6,190.7 201.1,189 198.2,187.2 196,185.4 194.3,183.4 193.2,181.5 192.8,179.5 193,177.5 193.8,175.5 195.1,173.6 197.1,171.8 199.5,170 202.5,168.4 205.9,166.8 209.7,165.4 214,164.1 218.5,163 223.3,162.1 228.4,161.3 233.7,160.7 239.1,160.2 244.6,160 250.1,159.9 255.6,160 261.1,160.3 266.4,160.8 271.6,161.5 276.6,162.3 281.3,163.3 285.7,164.5 289.7,165.8 293.4,167.3 296.6,168.9 299.3,170.6 301.5,172.4 303.1,174.2Z" fill="#f6e600"/>
<path d="M302.8,176.1 303.3,178 303.2,179.9 302.4,181.9 301.1,183.8 299.1,185.7 296.5,187.5 293.4,189.2 289.7,190.8 285.6,192.3 280.9,193.6 275.9,194.7 270.5,195.6 264.9,196.4 259,196.9 253,197.2 246.9,197.3 240.9,197.1 235,196.7 229.2,196.1 223.7,195.3 218.5,194.3 213.7,193.1 209.3,191.8 205.4,190.3 202,188.6 199.2,186.9 196.9,185 195.3,183.2 194.2,181.2 193.8,179.3 194,177.3 194.8,175.4 196.1,173.6 198,171.8 200.4,170 203.3,168.4 206.6,166.9 210.4,165.5 214.5,164.3 219,163.2 223.7,162.2 228.7,161.5 233.8,160.9 239.1,160.4 244.5,160.2 249.9,160.1 255.3,160.2 260.7,160.5 265.9,161 271,161.7 275.8,162.5 280.4,163.5 284.7,164.6 288.7,165.9 292.3,167.4 295.4,168.9 298,170.6 300.2,172.3 301.8,174.2Z" fill="#f8d800"/>
<path d="M301.4,175.9 301.9,177.8 301.7,179.7 301,181.6 299.7,183.5 297.7,185.4 295.2,187.1 292.2,188.8 288.6,190.4 284.5,191.8 280,193.1 275.1,194.2 269.8,195.1 264.3,195.8 258.5,196.3 252.7,196.6 246.8,196.7 240.9,196.5 235.1,196.1 229.4,195.6 224.1,194.8 219,193.8 214.3,192.6 210,191.3 206.2,189.8 202.9,188.2 200.1,186.5 197.9,184.7 196.3,182.9 195.3,181 194.8,179.1 195,177.2 195.7,175.3 197,173.5 198.9,171.7 201.2,170 204.1,168.5 207.3,167 211,165.6 215,164.4 219.4,163.3 224,162.4 228.9,161.6 233.9,161.1 239.1,160.6 244.4,160.4 249.7,160.3 255,160.5 260.2,160.7 265.3,161.2 270.3,161.9 275.1,162.7 279.6,163.6 283.8,164.8 287.6,166 291.1,167.4 294.2,168.9 296.8,170.6 298.9,172.3 300.4,174.1Z" fill="#facb00"/>
<path d="M300.1,175.8 300.5,177.7 300.3,179.5 299.6,181.4 298.3,183.2 296.4,185 294,186.8 291,188.4 287.4,189.9 283.5,191.3 279,192.5 274.2,193.6 269.1,194.5 263.7,195.2 258.1,195.7 252.4,196 246.6,196.1 240.9,195.9 235.2,195.6 229.7,195 224.4,194.2 219.5,193.3 214.9,192.1 210.7,190.8 207,189.4 203.7,187.8 201,186.2 198.9,184.4 197.3,182.6 196.3,180.8 195.9,178.9 196,177.1 196.7,175.2 198,173.4 199.8,171.7 202.1,170.1 204.8,168.5 208,167.1 211.6,165.7 215.6,164.5 219.8,163.5 224.4,162.6 229.1,161.8 234.1,161.3 239.1,160.8 244.3,160.6 249.5,160.6 254.7,160.7 259.8,161 264.8,161.4 269.6,162 274.3,162.8 278.7,163.8 282.8,164.9 286.6,166.1 290,167.5 293,169 295.5,170.6 297.5,172.3 299.1,174Z" fill="#fbbe00"/>
<path d="M298.7,175.7 299.1,177.5 298.9,179.3 298.2,181.2 296.9,183 295.1,184.7 292.7,186.4 289.7,188 286.3,189.5 282.4,190.8 278.1,192 273.4,193.1 268.4,194 263.1,194.6 257.7,195.1 252.1,195.4 246.4,195.5 240.8,195.3 235.3,195 229.9,194.4 224.8,193.7 220,192.7 215.5,191.6 211.4,190.4 207.7,189 204.6,187.4 201.9,185.8 199.8,184.1 198.3,182.3 197.3,180.5 196.9,178.7 197,176.9 197.7,175.1 199,173.4 200.7,171.7 202.9,170.1 205.6,168.5 208.8,167.1 212.3,165.8 216.1,164.7 220.3,163.6 224.7,162.7 229.4,162 234.2,161.5 239.1,161.1 244.2,160.8 249.3,160.8 254.3,160.9 259.3,161.2 264.2,161.6 269,162.2 273.5,163 277.8,163.9 281.9,165 285.5,166.2 288.9,167.6 291.8,169 294.2,170.6 296.2,172.2 297.7,173.9Z" fill="#fdb100"/>
<path d="M297.3,175.6 297.7,177.4 297.5,179.1 296.8,180.9 295.5,182.7 293.7,184.4 291.4,186 288.5,187.6 285.2,189 281.4,190.3 277.1,191.5 272.6,192.6 267.7,193.4 262.5,194.1 257.2,194.5 251.8,194.8 246.3,194.9 240.8,194.7 235.4,194.4 230.2,193.8 225.2,193.1 220.5,192.2 216.1,191.1 212.1,189.9 208.5,188.5 205.4,187 202.9,185.5 200.8,183.8 199.3,182.1 198.3,180.3 197.9,178.5 198,176.8 198.7,175 199.9,173.3 201.6,171.7 203.8,170.1 206.4,168.6 209.5,167.2 212.9,165.9 216.7,164.8 220.7,163.8 225,162.9 229.6,162.2 234.3,161.7 239.2,161.3 244.1,161 249,161 254,161.1 258.9,161.4 263.7,161.8 268.3,162.4 272.8,163.2 277,164.1 280.9,165.1 284.5,166.3 287.7,167.6 290.6,169.1 293,170.6 294.9,172.2 296.3,173.9Z" fill="#ffa300"/>
<path d="M295.9,175.5 296.3,177.2 296.1,178.9 295.4,180.7 294.2,182.4 292.4,184.1 290.1,185.7 287.3,187.2 284,188.6 280.3,189.9 276.2,191 271.7,192 267,192.8 262,193.5 256.8,194 251.5,194.2 246.1,194.3 240.8,194.1 235.5,193.8 230.4,193.3 225.6,192.6 221,191.7 216.7,190.6 212.8,189.4 209.3,188.1 206.3,186.6 203.8,185.1 201.8,183.5 200.3,181.8 199.3,180.1 198.9,178.4 199.1,176.6 199.7,174.9 200.9,173.2 202.5,171.6 204.7,170.1 207.2,168.6 210.2,167.3 213.5,166 217.2,164.9 221.2,163.9 225.4,163.1 229.8,162.4 234.4,161.8 239.2,161.5 244,161.2 248.8,161.2 253.7,161.3 258.4,161.6 263.1,162 267.6,162.6 272,163.3 276.1,164.2 279.9,165.3 283.4,166.4 286.6,167.7 289.3,169.1 291.7,170.6 293.6,172.2 295,173.8Z" fill="#ff8f00"/>
<path d="M294.5,175.4 294.8,177.1 294.7,178.7 294,180.4 292.8,182.1 291.1,183.7 288.8,185.3 286.1,186.8 282.9,188.1 279.3,189.4 275.3,190.5 270.9,191.5 266.3,192.3 261.4,192.9 256.3,193.4 251.2,193.6 246,193.7 240.8,193.6 235.7,193.2 230.7,192.7 225.9,192 221.5,191.2 217.3,190.1 213.5,189 210.1,187.7 207.2,186.3 204.7,184.7 202.7,183.2 201.3,181.5 200.4,179.9 200,178.2 200.1,176.5 200.7,174.8 201.8,173.2 203.4,171.6 205.5,170.1 208,168.7 210.9,167.4 214.2,166.1 217.7,165 221.6,164.1 225.7,163.3 230.1,162.6 234.6,162 239.2,161.7 243.9,161.5 248.6,161.4 253.3,161.5 258,161.8 262.6,162.2 267,162.8 271.2,163.5 275.2,164.4 278.9,165.4 282.4,166.5 285.4,167.8 288.1,169.1 290.4,170.6 292.2,172.1 293.6,173.7Z" fill="#ff7900"/>
<path d="M293.1,175.3 293.4,176.9 293.3,178.5 292.6,180.2 291.4,181.8 289.7,183.4 287.5,184.9 284.9,186.4 281.8,187.7 278.2,188.9 274.3,190 270.1,191 265.6,191.7 260.8,192.4 255.9,192.8 250.9,193 245.8,193.1 240.7,193 235.8,192.7 230.9,192.2 226.3,191.5 221.9,190.6 217.9,189.6 214.2,188.5 210.9,187.2 208,185.9 205.6,184.4 203.7,182.9 202.3,181.3 201.4,179.6 201,178 201.1,176.3 201.7,174.7 202.8,173.1 204.4,171.6 206.4,170.1 208.8,168.7 211.6,167.4 214.8,166.2 218.3,165.2 222.1,164.2 226.1,163.4 230.3,162.8 234.7,162.2 239.2,161.9 243.8,161.7 248.4,161.6 253,161.7 257.5,162 262,162.4 266.3,163 270.4,163.7 274.3,164.5 278,165.5 281.3,166.6 284.3,167.8 286.9,169.2 289.1,170.6 290.9,172.1 292.2,173.6Z" fill="#ff6200"/>
<path d="M291.7,175.1 292,176.7 291.9,178.4 291.2,180 290,181.5 288.4,183.1 286.2,184.6 283.7,186 280.6,187.3 277.2,188.5 273.4,189.5 269.3,190.4 264.9,191.2 260.2,191.8 255.5,192.2 250.6,192.5 245.6,192.5 240.7,192.4 235.9,192.1 231.2,191.6 226.7,190.9 222.4,190.1 218.5,189.1 214.9,188 211.7,186.8 208.9,185.5 206.5,184 204.7,182.5 203.3,181 202.4,179.4 202,177.8 202.1,176.2 202.7,174.6 203.8,173.1 205.3,171.6 207.2,170.1 209.6,168.8 212.3,167.5 215.4,166.3 218.8,165.3 222.5,164.4 226.4,163.6 230.5,163 234.8,162.4 239.2,162.1 243.7,161.9 248.2,161.8 252.7,161.9 257.1,162.2 261.4,162.6 265.6,163.1 269.7,163.8 273.5,164.7 277,165.6 280.2,166.7 283.2,167.9 285.7,169.2 287.9,170.6 289.6,172 290.9,173.6Z" fill="#ff4c00"/>
<path d="M290.3,175 290.6,176.6 290.4,178.2 289.8,179.7 288.7,181.3 287,182.8 285,184.2 282.4,185.6 279.5,186.8 276.1,188 272.5,189 268.4,189.9 264.2,190.6 259.7,191.2 255,191.6 250.3,191.9 245.5,191.9 240.7,191.8 236,191.5 231.4,191 227.1,190.4 222.9,189.6 219.1,188.6 215.6,187.6 212.5,186.4 209.7,185.1 207.5,183.7 205.6,182.2 204.3,180.7 203.4,179.2 203,177.6 203.1,176 203.7,174.5 204.7,173 206.2,171.5 208.1,170.1 210.4,168.8 213.1,167.6 216.1,166.5 219.4,165.4 223,164.5 226.8,163.8 230.8,163.1 234.9,162.6 239.2,162.3 243.6,162.1 247.9,162 252.3,162.1 256.6,162.4 260.9,162.8 265,163.3 268.9,164 272.6,164.8 276,165.8 279.2,166.8 282,168 284.5,169.2 286.6,170.6 288.3,172 289.5,173.5Z" fill="#ff3600"/>
<path d="M288.9,174.9 289.2,176.4 289,178 288.4,179.5 287.3,181 285.7,182.4 283.7,183.8 281.2,185.2 278.4,186.4 275.1,187.5 271.5,188.5 267.6,189.4 263.5,190.1 259.1,190.7 254.6,191.1 250,191.3 245.3,191.3 240.7,191.2 236.1,190.9 231.7,190.5 227.4,189.8 223.4,189.1 219.7,188.2 216.3,187.1 213.2,185.9 210.6,184.7 208.4,183.3 206.6,181.9 205.3,180.4 204.4,178.9 204.1,177.4 204.1,175.9 204.7,174.4 205.7,172.9 207.1,171.5 209,170.1 211.2,168.9 213.8,167.7 216.7,166.6 219.9,165.6 223.4,164.7 227.1,163.9 231,163.3 235.1,162.8 239.2,162.5 243.5,162.3 247.7,162.3 252,162.4 256.2,162.6 260.3,163 264.3,163.5 268.1,164.2 271.7,165 275,165.9 278.1,166.9 280.9,168 283.3,169.3 285.3,170.6 286.9,172 288.1,173.4Z" fill="#ff1f00"/>
<path d="M286.8,174.8 287.1,176.2 286.9,177.7 286.3,179.1 285.2,180.5 283.7,181.9 281.8,183.2 279.4,184.5 276.7,185.7 273.6,186.7 270.2,187.7 266.5,188.5 262.5,189.2 258.4,189.7 254.1,190.1 249.7,190.3 245.3,190.3 240.9,190.2 236.5,190 232.3,189.5 228.3,188.9 224.5,188.2 220.9,187.3 217.7,186.4 214.8,185.3 212.3,184.1 210.1,182.8 208.4,181.4 207.2,180 206.4,178.6 206,177.2 206.1,175.7 206.6,174.3 207.5,172.9 208.9,171.5 210.6,170.2 212.8,169 215.2,167.9 218,166.8 221.1,165.9 224.4,165 227.9,164.3 231.6,163.7 235.5,163.3 239.5,163 243.5,162.8 247.6,162.7 251.7,162.8 255.7,163.1 259.6,163.4 263.4,163.9 267,164.6 270.5,165.3 273.7,166.2 276.6,167.2 279.2,168.2 281.5,169.4 283.4,170.7 285,172 286.1,173.4Z" fill="#fc1a00"/>
<path d="M284.7,174.6 284.9,176 284.8,177.4 284.2,178.7 283.1,180.1 281.7,181.4 279.9,182.6 277.6,183.8 275,184.9 272.1,185.9 268.9,186.8 265.3,187.6 261.6,188.2 257.7,188.7 253.6,189.1 249.5,189.3 245.3,189.3 241.1,189.2 237,189 233,188.6 229.2,188 225.6,187.3 222.2,186.5 219.1,185.6 216.4,184.5 214,183.4 212,182.2 210.3,180.9 209.1,179.6 208.4,178.3 208,176.9 208.1,175.5 208.5,174.2 209.4,172.9 210.7,171.6 212.4,170.3 214.4,169.2 216.7,168.1 219.3,167.1 222.3,166.2 225.4,165.4 228.8,164.7 232.3,164.2 236,163.7 239.8,163.4 243.6,163.3 247.5,163.2 251.3,163.3 255.2,163.5 258.9,163.9 262.5,164.3 265.9,164.9 269.2,165.7 272.2,166.5 275,167.4 277.5,168.4 279.7,169.6 281.5,170.7 282.9,172 284,173.3Z" fill="#f81600"/>
<path d="M282.5,174.5 282.8,175.8 282.6,177.1 282,178.4 281.1,179.6 279.7,180.9 277.9,182 275.8,183.1 273.4,184.2 270.6,185.1 267.5,186 264.2,186.7 260.7,187.3 257,187.8 253.1,188.1 249.2,188.3 245.2,188.3 241.3,188.2 237.4,188 233.7,187.6 230,187.1 226.6,186.5 223.4,185.7 220.5,184.8 217.9,183.8 215.7,182.8 213.8,181.6 212.2,180.4 211.1,179.2 210.3,177.9 210,176.6 210,175.3 210.5,174.1 211.3,172.8 212.5,171.6 214.1,170.4 216,169.3 218.2,168.3 220.7,167.4 223.4,166.5 226.4,165.8 229.6,165.1 233,164.6 236.5,164.2 240,163.9 243.7,163.7 247.4,163.7 251,163.8 254.6,164 258.2,164.3 261.6,164.8 264.9,165.3 267.9,166 270.8,166.8 273.4,167.7 275.8,168.6 277.8,169.7 279.5,170.8 280.9,172 281.9,173.2Z" fill="#f41100"/>
<path d="M280.4,174.4 280.6,175.6 280.4,176.8 279.9,178 279,179.2 277.7,180.3 276,181.4 274,182.5 271.7,183.4 269.1,184.3 266.2,185.1 263.1,185.8 259.7,186.4 256.2,186.8 252.6,187.1 248.9,187.3 245.2,187.3 241.5,187.3 237.9,187 234.3,186.7 230.9,186.2 227.7,185.6 224.7,184.9 222,184 219.5,183.1 217.4,182.1 215.6,181.1 214.1,179.9 213,178.8 212.3,177.6 212,176.4 212,175.2 212.4,174 213.2,172.8 214.3,171.6 215.8,170.5 217.6,169.5 219.7,168.5 222,167.7 224.6,166.9 227.5,166.2 230.5,165.5 233.6,165 236.9,164.7 240.3,164.4 243.8,164.2 247.2,164.2 250.7,164.3 254.1,164.5 257.4,164.8 260.7,165.2 263.8,165.7 266.7,166.4 269.4,167.1 271.8,167.9 274.1,168.8 276,169.8 277.6,170.9 278.9,172 279.8,173.2Z" fill="#f10d00"/>
<path d="M278.3,174.2 278.5,175.3 278.3,176.5 277.8,177.6 276.9,178.7 275.7,179.8 274.1,180.8 272.2,181.8 270,182.7 267.6,183.5 264.9,184.3 261.9,184.9 258.8,185.4 255.5,185.9 252.1,186.1 248.7,186.3 245.2,186.4 241.7,186.3 238.3,186.1 235,185.7 231.8,185.3 228.8,184.7 226,184 223.4,183.3 221.1,182.4 219.1,181.5 217.4,180.5 216,179.4 215,178.4 214.3,177.2 214,176.1 214,175 214.4,173.8 215.1,172.7 216.2,171.7 217.6,170.7 219.2,169.7 221.2,168.8 223.4,167.9 225.8,167.2 228.5,166.5 231.3,166 234.3,165.5 237.4,165.1 240.6,164.9 243.8,164.7 247.1,164.7 250.4,164.7 253.6,164.9 256.7,165.2 259.8,165.6 262.7,166.1 265.4,166.7 267.9,167.4 270.3,168.2 272.3,169.1 274.1,170 275.7,171 276.9,172 277.7,173.1Z" fill="#ed0900"/>
<path d="M276.1,174.1 276.3,175.1 276.1,176.2 275.6,177.2 274.8,178.3 273.7,179.3 272.2,180.2 270.4,181.1 268.4,182 266.1,182.8 263.5,183.4 260.8,184 257.9,184.5 254.8,184.9 251.7,185.2 248.4,185.3 245.2,185.4 241.9,185.3 238.7,185.1 235.6,184.8 232.6,184.4 229.8,183.8 227.2,183.2 224.8,182.5 222.6,181.7 220.8,180.9 219.2,179.9 217.9,179 216.9,177.9 216.3,176.9 216,175.8 216,174.8 216.3,173.7 217,172.7 218,171.7 219.3,170.8 220.9,169.8 222.7,169 224.8,168.2 227,167.5 229.5,166.9 232.2,166.4 235,165.9 237.9,165.6 240.9,165.3 243.9,165.2 247,165.2 250,165.2 253,165.4 256,165.7 258.8,166 261.6,166.5 264.1,167.1 266.5,167.7 268.7,168.5 270.6,169.3 272.3,170.1 273.7,171 274.8,172 275.6,173Z" fill="#ea0500"/>
<path d="M274,173.9 274.1,174.9 274,175.9 273.5,176.9 272.7,177.8 271.7,178.8 270.3,179.6 268.6,180.5 266.7,181.3 264.6,182 262.2,182.6 259.7,183.2 257,183.6 254.1,184 251.2,184.2 248.2,184.4 245.1,184.4 242.1,184.3 239.2,184.1 236.3,183.9 233.5,183.5 230.9,183 228.4,182.4 226.2,181.8 224.2,181 222.4,180.2 221,179.4 219.8,178.5 218.9,177.5 218.3,176.6 218,175.6 218,174.6 218.3,173.6 218.9,172.7 219.8,171.7 221,170.9 222.5,170 224.2,169.2 226.1,168.5 228.3,167.8 230.6,167.3 233,166.8 235.7,166.4 238.4,166 241.2,165.8 244,165.7 246.8,165.7 249.7,165.7 252.5,165.9 255.3,166.1 257.9,166.5 260.5,166.9 262.8,167.4 265.1,168 267.1,168.7 268.9,169.5 270.4,170.3 271.8,171.1 272.8,172 273.5,173Z" fill="#e60000"/>
<path d="M271.9,173.8 272,174.7 271.8,175.6 271.4,176.5 270.7,177.4 269.7,178.2 268.4,179 266.9,179.8 265.1,180.5 263.1,181.2 260.9,181.8 258.6,182.3 256,182.7 253.4,183 250.7,183.2 247.9,183.4 245.1,183.4 242.3,183.3 239.6,183.2 236.9,182.9 234.4,182.6 231.9,182.1 229.7,181.6 227.6,181 225.7,180.3 224.1,179.6 222.7,178.8 221.6,178 220.8,177.1 220.2,176.2 220,175.3 220,174.4 220.3,173.5 220.8,172.6 221.7,171.8 222.8,171 224.1,170.2 225.7,169.5 227.5,168.8 229.5,168.2 231.6,167.6 233.9,167.2 236.3,166.8 238.8,166.5 241.4,166.3 244.1,166.2 246.7,166.1 249.4,166.2 252,166.4 254.5,166.6 257,166.9 259.3,167.3 261.6,167.8 263.6,168.3 265.5,169 267.1,169.7 268.6,170.4 269.8,171.2 270.8,172 271.4,172.9Z" fill="#dd0000"/>
<path d="M269.7,173.6 269.8,174.5 269.7,175.3 269.3,176.1 268.6,176.9 267.7,177.7 266.5,178.5 265.1,179.2 263.5,179.8 261.6,180.4 259.6,180.9 257.4,181.4 255.1,181.8 252.7,182.1 250.2,182.3 247.7,182.4 245.1,182.4 242.5,182.4 240,182.2 237.6,182 235.2,181.7 233,181.3 230.9,180.8 229,180.2 227.3,179.6 225.8,179 224.5,178.2 223.5,177.5 222.7,176.7 222.2,175.9 221.9,175.1 222,174.2 222.2,173.4 222.7,172.6 223.5,171.8 224.5,171.1 225.8,170.4 227.2,169.7 228.9,169.1 230.7,168.5 232.7,168 234.8,167.6 237,167.2 239.3,167 241.7,166.8 244.1,166.7 246.6,166.6 249,166.7 251.4,166.8 253.8,167 256.1,167.3 258.2,167.7 260.3,168.2 262.2,168.7 263.9,169.2 265.4,169.9 266.7,170.6 267.8,171.3 268.7,172 269.3,172.8Z" fill="#d30000"/>
<path d="M267.6,173.5 267.7,174.3 267.5,175 267.1,175.8 266.5,176.5 265.7,177.2 264.6,177.9 263.3,178.5 261.8,179.1 260.1,179.6 258.3,180.1 256.3,180.5 254.2,180.9 252,181.1 249.7,181.3 247.4,181.4 245.1,181.5 242.7,181.4 240.5,181.3 238.2,181.1 236.1,180.8 234,180.4 232.1,180 230.4,179.5 228.8,178.9 227.5,178.3 226.3,177.7 225.4,177 224.7,176.3 224.2,175.5 223.9,174.8 223.9,174 224.2,173.3 224.7,172.6 225.4,171.9 226.3,171.2 227.4,170.5 228.7,169.9 230.2,169.4 231.9,168.8 233.7,168.4 235.6,168 237.7,167.7 239.8,167.4 242,167.3 244.2,167.2 246.5,167.1 248.7,167.2 250.9,167.3 253.1,167.5 255.1,167.8 257.1,168.1 259,168.5 260.7,169 262.3,169.5 263.7,170.1 264.9,170.7 265.9,171.4 266.7,172 267.2,172.8Z" fill="#c90000"/>
<path d="M265.4,173.4 265.4,174 265.3,174.7 264.9,175.4 264.4,176 263.6,176.7 262.6,177.3 261.5,177.8 260.1,178.4 258.6,178.8 257,179.3 255.2,179.6 253.3,179.9 251.3,180.2 249.3,180.4 247.2,180.5 245.1,180.5 243,180.4 240.9,180.3 238.9,180.1 237,179.9 235.2,179.5 233.4,179.2 231.9,178.7 230.5,178.2 229.2,177.7 228.2,177.1 227.3,176.5 226.7,175.8 226.3,175.2 226,174.5 226,173.9 226.3,173.2 226.7,172.5 227.3,171.9 228.1,171.3 229.2,170.7 230.3,170.2 231.7,169.7 233.2,169.2 234.8,168.8 236.6,168.4 238.4,168.2 240.3,167.9 242.3,167.8 244.3,167.7 246.3,167.7 248.4,167.7 250.3,167.8 252.3,168 254.2,168.2 255.9,168.5 257.6,168.9 259.2,169.3 260.6,169.8 261.9,170.3 262.9,170.9 263.8,171.4 264.6,172.1 265.1,172.7Z" fill="#bf0000"/>
<path d="M262.7,173.2 262.8,173.8 262.6,174.4 262.3,175 261.8,175.5 261.2,176.1 260.3,176.6 259.3,177.1 258.2,177.5 256.9,178 255.4,178.3 253.9,178.6 252.2,178.9 250.5,179.1 248.8,179.3 247,179.3 245.2,179.4 243.4,179.3 241.6,179.2 239.8,179.1 238.2,178.8 236.6,178.6 235.1,178.2 233.8,177.9 232.6,177.4 231.5,177 230.6,176.5 229.8,175.9 229.3,175.4 228.9,174.8 228.7,174.2 228.7,173.7 228.9,173.1 229.3,172.5 229.8,172 230.5,171.4 231.4,170.9 232.4,170.5 233.6,170 234.9,169.6 236.3,169.3 237.8,169 239.4,168.7 241.1,168.5 242.8,168.4 244.5,168.3 246.3,168.3 248,168.3 249.7,168.4 251.4,168.6 253,168.8 254.6,169.1 256,169.4 257.4,169.7 258.6,170.1 259.7,170.6 260.6,171.1 261.4,171.6 262,172.1 262.4,172.7Z" fill="#b50000"/>
<path d="M260,173.1 260.1,173.6 260,174.1 259.7,174.6 259.3,175 258.7,175.5 258,175.9 257.2,176.4 256.2,176.7 255.1,177.1 253.9,177.4 252.6,177.7 251.2,177.9 249.8,178.1 248.3,178.2 246.8,178.2 245.3,178.3 243.7,178.2 242.2,178.1 240.8,178 239.4,177.8 238.1,177.6 236.8,177.3 235.7,177 234.6,176.6 233.7,176.2 233,175.8 232.3,175.4 231.9,174.9 231.5,174.4 231.4,174 231.4,173.5 231.5,173 231.8,172.5 232.3,172 232.9,171.6 233.6,171.2 234.5,170.8 235.5,170.4 236.6,170.1 237.8,169.8 239,169.5 240.4,169.3 241.8,169.1 243.2,169 244.7,169 246.2,168.9 247.7,169 249.1,169.1 250.5,169.2 251.9,169.4 253.2,169.6 254.4,169.8 255.6,170.2 256.6,170.5 257.5,170.9 258.3,171.3 259,171.7 259.5,172.2 259.8,172.6Z" fill="#ab0000"/>
<path d="M257.4,173 257.4,173.4 257.3,173.8 257.1,174.2 256.8,174.6 256.3,174.9 255.7,175.3 255,175.6 254.2,175.9 253.3,176.2 252.4,176.5 251.3,176.7 250.2,176.9 249,177 247.8,177.1 246.6,177.2 245.3,177.2 244.1,177.1 242.9,177.1 241.7,177 240.6,176.8 239.5,176.6 238.5,176.4 237.6,176.1 236.7,175.9 236,175.5 235.4,175.2 234.8,174.8 234.5,174.5 234.2,174.1 234.1,173.7 234,173.3 234.2,172.9 234.4,172.5 234.8,172.1 235.3,171.7 235.8,171.4 236.6,171.1 237.4,170.8 238.2,170.5 239.2,170.3 240.3,170.1 241.4,169.9 242.5,169.7 243.7,169.7 244.9,169.6 246.1,169.6 247.3,169.6 248.5,169.7 249.6,169.8 250.8,169.9 251.8,170.1 252.8,170.3 253.8,170.6 254.6,170.9 255.3,171.2 256,171.5 256.5,171.8 256.9,172.2 257.2,172.6Z" fill="#9e0000"/>
<path d="M254.7,172.9 254.7,173.2 254.7,173.5 254.5,173.8 254.2,174.1 253.9,174.4 253.4,174.6 252.9,174.9 252.3,175.1 251.6,175.3 250.8,175.5 250,175.7 249.2,175.8 248.3,175.9 247.3,176 246.4,176.1 245.4,176.1 244.5,176.1 243.5,176 242.6,175.9 241.8,175.8 240.9,175.7 240.1,175.5 239.4,175.3 238.8,175.1 238.2,174.8 237.7,174.6 237.3,174.3 237,174 236.8,173.7 236.7,173.4 236.7,173.1 236.8,172.8 237,172.5 237.3,172.2 237.6,171.9 238.1,171.6 238.6,171.4 239.3,171.2 239.9,170.9 240.7,170.8 241.5,170.6 242.3,170.5 243.2,170.4 244.1,170.3 245.1,170.2 246,170.2 246.9,170.2 247.9,170.3 248.8,170.4 249.6,170.5 250.4,170.6 251.2,170.8 251.9,171 252.6,171.2 253.2,171.5 253.6,171.7 254.1,172 254.4,172.3 254.6,172.6Z" fill="#910000"/>
<path d="M252.1,172.7 252.1,173 252,173.2 251.9,173.4 251.7,173.6 251.5,173.8 251.1,174 250.8,174.2 250.3,174.3 249.8,174.5 249.3,174.6 248.7,174.7 248.1,174.8 247.5,174.9 246.8,175 246.2,175 245.5,175 244.9,175 244.2,174.9 243.6,174.9 242.9,174.8 242.4,174.7 241.8,174.6 241.3,174.4 240.8,174.3 240.4,174.1 240.1,173.9 239.8,173.7 239.6,173.5 239.5,173.3 239.4,173.1 239.4,172.9 239.4,172.7 239.6,172.5 239.8,172.3 240,172.1 240.3,171.9 240.7,171.7 241.2,171.5 241.6,171.4 242.2,171.3 242.7,171.1 243.3,171 244,171 244.6,170.9 245.3,170.9 245.9,170.9 246.6,170.9 247.2,170.9 247.9,171 248.5,171.1 249.1,171.2 249.6,171.3 250.1,171.4 250.6,171.6 251,171.7 251.3,171.9 251.6,172.1 251.8,172.3 252,172.5Z" fill="#840000"/>
<path d="M249.4,172.6 249.4,172.7 249.4,172.9 249.3,173 249.2,173.1 249,173.2 248.9,173.3 248.6,173.4 248.4,173.5 248.1,173.6 247.8,173.7 247.5,173.8 247.1,173.8 246.7,173.9 246.4,173.9 246,173.9 245.6,173.9 245.2,173.9 244.8,173.9 244.5,173.9 244.1,173.8 243.8,173.7 243.5,173.7 243.2,173.6 242.9,173.5 242.7,173.4 242.5,173.3 242.3,173.2 242.2,173.1 242.1,173 242.1,172.8 242,172.7 242.1,172.6 242.2,172.5 242.3,172.3 242.4,172.2 242.6,172.1 242.8,172 243.1,171.9 243.4,171.8 243.7,171.7 244,171.7 244.3,171.6 244.7,171.6 245.1,171.6 245.5,171.5 245.8,171.5 246.2,171.5 246.6,171.6 247,171.6 247.3,171.6 247.7,171.7 248,171.8 248.3,171.8 248.5,171.9 248.8,172 249,172.1 249.1,172.3 249.3,172.4 249.3,172.5Z" fill="#760000"/>
<path d="M246.7,172.5 246.7,172.5 246.7,172.6 246.7,172.6 246.7,172.6 246.6,172.7 246.6,172.7 246.5,172.7 246.5,172.7 246.4,172.8 246.3,172.8 246.2,172.8 246.1,172.8 246,172.8 245.9,172.8 245.8,172.8 245.7,172.8 245.6,172.8 245.5,172.8 245.4,172.8 245.3,172.8 245.2,172.8 245.1,172.8 245,172.8 245,172.7 244.9,172.7 244.8,172.7 244.8,172.6 244.8,172.6 244.7,172.6 244.7,172.5 244.7,172.5 244.7,172.5 244.7,172.4 244.8,172.4 244.8,172.4 244.9,172.3 244.9,172.3 245,172.3 245.1,172.3 245.2,172.2 245.2,172.2 245.3,172.2 245.4,172.2 245.5,172.2 245.6,172.2 245.8,172.2 245.9,172.2 246,172.2 246.1,172.2 246.2,172.2 246.3,172.2 246.3,172.3 246.4,172.3 246.5,172.3 246.6,172.3 246.6,172.4 246.7,172.4 246.7,172.4 246.7,172.5Z" fill="#690000"/>
<path d="M326.5,177.3 327.4,180.5 327,183.9 325.3,187.2 322.2,190.4 317.9,193.5 312.3,196.4 305.6,199 297.8,201.3 289.1,203.3 279.6,204.8 269.6,205.8 259.2,206.4 248.7,206.5 238.2,206.1 228.1,205.2 218.5,203.8 209.6,202 201.6,199.8 194.7,197.3 188.8,194.5 184.2,191.4 180.9,188.3 178.9,185 178.2,181.7 178.8,178.4 180.6,175.2 183.6,172.1 187.6,169.2 192.7,166.6 198.7,164.1 205.4,162 212.9,160.2 220.9,158.7 229.3,157.5 238.1,156.7 247.1,156.2 256.1,156.2 265.2,156.5 274,157.1 282.6,158.2 290.7,159.6 298.3,161.3 305.3,163.3 311.5,165.6 316.8,168.2 321.1,171.1 324.4,174.1ZM316,177.1 316.7,180 316.2,182.9 314.6,185.9 311.9,188.7 308,191.5 303,194.1 297,196.4 290.1,198.4 282.4,200.1 274,201.5 265.2,202.4 256,202.9 246.8,203 237.6,202.6 228.7,201.8 220.2,200.6 212.4,199 205.3,197.1 199.1,194.8 193.9,192.3 189.8,189.7 186.8,186.8 185,183.9 184.3,181 184.8,178 186.3,175.2 188.9,172.4 192.5,169.8 197,167.4 202.3,165.2 208.3,163.3 215,161.7 222.1,160.3 229.6,159.2 237.5,158.5 245.5,158.1 253.6,158 261.7,158.3 269.6,158.9 277.2,159.9 284.5,161.1 291.2,162.7 297.4,164.5 302.9,166.6 307.6,169 311.4,171.5 314.2,174.2ZM307.5,176.4 308,179 307.6,181.6 306.1,184.2 303.6,186.8 300.1,189.2 295.6,191.4 290.3,193.5 284.1,195.3 277.3,196.8 269.9,197.9 262.1,198.7 254,199.2 245.9,199.2 237.8,198.9 229.9,198.2 222.5,197.2 215.5,195.8 209.3,194.1 203.8,192.1 199.1,189.9 195.5,187.6 192.8,185.1 191.1,182.5 190.5,179.9 190.8,177.3 192.2,174.7 194.4,172.3 197.6,170 201.6,167.8 206.3,165.9 211.6,164.1 217.5,162.7 223.9,161.4 230.6,160.5 237.7,159.8 244.8,159.5 252.1,159.4 259.3,159.7 266.3,160.2 273.2,161.1 279.6,162.2 285.7,163.6 291.1,165.2 296,167.1 300.1,169.2 303.5,171.5 305.9,173.9ZM299,175.7 299.5,178 299,180.3 297.7,182.6 295.4,184.8 292.3,186.9 288.4,188.8 283.7,190.6 278.3,192.2 272.4,193.5 265.9,194.5 259.2,195.2 252.2,195.6 245.1,195.6 238,195.3 231.2,194.7 224.7,193.8 218.7,192.6 213.2,191.1 208.4,189.4 204.4,187.5 201.1,185.5 198.7,183.3 197.2,181.1 196.6,178.8 196.9,176.5 198,174.3 200,172.1 202.7,170.1 206.2,168.2 210.3,166.4 215,164.9 220.2,163.6 225.8,162.5 231.7,161.7 237.9,161.1 244.2,160.8 250.6,160.7 256.9,160.9 263.2,161.4 269.2,162.2 274.8,163.2 280.1,164.4 284.9,165.9 289.2,167.5 292.7,169.4 295.6,171.4 297.7,173.5ZM290.6,175.1 290.9,177 290.5,179 289.3,180.9 287.4,182.8 284.7,184.6 281.3,186.3 277.3,187.8 272.7,189.1 267.6,190.2 262.1,191.1 256.3,191.7 250.3,192 244.3,192 238.3,191.8 232.5,191.3 227,190.5 221.8,189.5 217.1,188.2 213,186.8 209.5,185.2 206.7,183.4 204.7,181.5 203.4,179.6 202.8,177.7 203,175.7 203.9,173.8 205.6,171.9 207.9,170.1 210.8,168.5 214.4,167 218.4,165.7 222.8,164.5 227.7,163.6 232.8,162.8 238.1,162.3 243.6,162.1 249.1,162 254.6,162.2 259.9,162.6 265.1,163.3 270,164.2 274.5,165.2 278.7,166.5 282.3,168 285.3,169.6 287.8,171.3 289.6,173.1Z" fill="none" stroke="#333" stroke-opacity="0.55" stroke-width="0.7"/>
<path d="M108.6,193.1 116.3,190.1 123.8,187.3 131.2,184.4 138.5,181.6 145.6,177.4 152.7,174.2 159.6,171.2 166.4,168.2 173.2,165.5 179.8,162.7 186.3,160.2 192.8,157.8 199.1,155.5 205.4,153.3 211.5,151.2 217.6,149.2 223.6,147.3 229.4,145.4 235.3,144.6 241,142.4M109.7,187.1 116.4,189.5 123.1,192 130,194.5 137,197.1 144,199.7 151.1,200.8 158.4,203.1 165.8,205.5 173.3,208.1 181,210.8 188.7,213.7 196.6,216.7 204.6,219.8 212.7,223 221,226.4 229.4,231 238,234.2 246.7,237.4 255.5,240.6 264.5,243.9M116.2,195.9 123.8,192.9 131.3,190 138.7,187.1 146,182.6 153.1,179.2 160.2,175.9 167.1,172.6 173.9,169.5 180.7,166.6 187.3,163.8 193.8,161.3 200.2,159 206.6,156.8 212.8,154.6 219,152.6 225,150.6 231,148.7 236.9,146.8 242.7,145 248.4,143.2M118.1,184 124.7,186.3 131.5,188.8 138.3,191.3 145.2,192.2 152.3,194.2 159.5,196.3 166.7,198.6 174.1,200.9 181.6,203.3 189.2,206 197,208.8 204.9,211.8 212.9,214.9 221,218.1 229.2,221.4 237.6,224.9 246.2,228.4 254.8,233.2 263.6,236.4 272.6,239.6M123.8,198.7 131.5,195.7 139,192.7 146.3,188.1 153.6,184.4 160.7,180.9 167.8,177.2 174.7,173.7 181.5,170.4 188.3,167.5 194.9,164.8 201.4,162.3 207.8,160 214.2,157.9 220.4,155.9 226.5,153.9 232.6,152 238.5,150.1 244.4,148.2 250.2,146.4 255.9,144.7M126.3,180.9 132.9,183.2 139.7,185.6 146.5,186.2 153.4,188 160.5,189.9 167.6,191.7 174.9,193.6 182.2,195.5 189.7,197.5 197.4,199.9 205.1,202.9 213,206.4 221,209.8 229.1,213.1 237.3,216.5 245.7,220 254.2,223.5 262.8,227.1 271.6,230.9 280.6,235.5M131.6,201.6 139.2,198.6 146.7,193.9 154.1,190.1 161.4,186.3 168.5,182.3 175.5,178.3 182.4,174.6 189.3,171.2 196,168.2 202.6,165.5 209.1,163.1 215.5,161 221.9,159.1 228.1,157.1 234.2,155.2 240.2,153.4 246.2,151.6 252,149.8 257.8,148 263.5,146.2M134.3,177.8 141,180.2 147.7,180.7 154.5,182.3 161.4,183.9 168.5,185.4 175.6,186.5 182.9,187.8 190.2,189.4 197.7,191.3 205.3,193.6 213.1,196.3 220.9,199.5 228.9,203 237,207.2 245.2,211.7 253.6,215.2 262.1,218.7 270.7,222.3 279.5,226 288.4,229.9M139.5,204.6 147.1,201.5 154.6,196.2 162,192.3 169.2,188.1 176.4,183.5 183.4,179.2 190.3,175.3 197.1,171.8 203.8,168.7 210.4,166 217,163.7 223.4,161.7 229.7,159.9 235.9,158.3 242,156.6 248,154.9 254,153.1 259.8,151.4 265.5,149.6 271.2,147.8M142.2,174.9 148.8,175.5 155.5,177 162.4,178.4 169.3,179.6 176.3,180.5 183.5,181.5 190.7,182.6 198.1,183.9 205.6,185.6 213.2,187.7 220.9,190.3 228.8,193.6 236.7,197.2 244.8,201.2 253,205.3 261.4,210.2 269.8,214.1 278.4,217.7 287.1,221.3 296,225.1M147.5,207.6 155.1,202.8 162.6,198.7 170,194.5 177.2,189.6 184.4,184.7 191.4,180.3 198.3,176.1 205.1,172.4 211.8,169.3 218.4,166.6 224.9,164.3 231.3,162.4 237.6,160.8 243.8,159.3 249.9,158 255.9,156.5 261.8,154.8 267.7,153.1 273.4,151.4 279,149.6M149.9,170.6 156.6,172 163.3,173.4 170.1,174.5 177,175.4 184.1,176.2 191.2,176.9 198.4,177.8 205.8,178.9 213.3,180.8 220.9,183 228.6,185.5 236.4,188.4 244.4,191.6 252.5,195.8 260.7,200.1 269,204.5 277.4,209.3 286,213.2 294.7,216.8 303.5,220.5M155.7,210.7 163.3,205.4 170.8,201.3 178.2,196.8 185.4,191.2 192.5,186.2 199.5,181.5 206.4,177.3 213.3,173.9 220,170.8 226.6,168 233,165.7 239.4,163.6 245.7,161.9 251.9,160.6 258,159.3 264,158.1 269.9,156.5 275.7,154.9 281.4,153.2 287,151.4M157.6,167.4 164.2,168.7 170.9,169.9 177.7,170.9 184.7,171.7 191.7,172.3 198.8,172.8 206,173.5 213.4,175 220.9,176.6 228.5,178.6 236.2,181.1 244,184.1 251.9,187.4 260,190.8 268.1,195.2 276.4,199.7 284.8,204.2 293.4,208.9 302.1,212.5 310.9,216.1M164.1,213.8 171.6,208.3 179.1,204.1 186.5,199.4 193.7,193.3 200.8,188.2 207.8,183.1 214.7,179.3 221.5,175.6 228.2,172.3 234.8,169.5 241.3,167.2 247.7,165.3 253.9,163.5 260.1,162.1 266.2,160.9 272.1,159.7 278,158.5 283.8,156.8 289.5,155.1 295.1,153.4M165.1,164.3 171.7,165.6 178.4,166.6 185.2,167.5 192.1,168.3 199.2,168.8 206.3,169.2 213.5,170.1 220.9,171.4 228.3,172.8 235.9,174.6 243.6,177.1 251.4,180.1 259.3,183.5 267.3,186.9 275.5,190.9 283.8,195.4 292.1,199.9 300.7,204.3 309.3,208.4 318.1,211.9M172.5,217 180.1,211.3 187.6,207 195,202.2 202.2,196 209.3,190.6 216.3,185.6 223.2,181.7 230,177.8 236.6,174.2 243.2,171.2 249.7,169.1 256,167.3 262.3,165.6 268.4,164 274.5,162.8 280.4,161.7 286.3,160.5 292,158.9 297.7,157.2 303.3,155.5M172.4,161.4 179.1,162.6 185.8,163.6 192.6,164.5 199.5,165.3 206.5,165.8 213.6,166.2 220.9,167.1 228.2,168.3 235.6,169.7 243.2,171.2 250.9,173.5 258.7,176.7 266.6,180 274.6,183.5 282.7,187.2 290.9,191.6 299.3,196 307.8,200.2 316.4,204.5 325.1,208M181.2,220.2 188.7,214.5 196.2,210.2 203.6,205.5 210.8,199.1 217.9,193.7 224.9,188.5 231.7,184.5 238.5,180.6 245.2,177 251.7,173.8 258.2,171.6 264.5,169.7 270.7,168 276.9,166.3 282.9,165.1 288.8,163.9 294.6,162.7 300.4,161.1 306,159.4 311.6,157.6M179.7,158.6 186.3,159.8 193,160.8 199.8,161.8 206.7,162.7 213.7,163.2 220.9,163.7 228.1,164.4 235.4,165.7 242.8,167.2 250.4,168.9 258,171.1 265.8,173.9 273.7,177.1 281.7,180.4 289.8,184.1 298,188.2 306.3,192.5 314.8,196.6 323.4,200.6 332.1,204.2M190,223.5 197.5,217.8 205,213.5 212.3,208.9 219.5,202.6 226.6,197.3 233.6,192 240.5,187.8 247.2,184 253.9,180.5 260.4,177.4 266.8,174.8 273.2,172.7 279.4,170.8 285.5,169.1 291.5,167.8 297.4,166.5 303.2,165.2 308.9,163.5 314.5,161.7 320.1,160M186.8,156 193.5,157.2 200.2,158.2 207,159.2 213.9,160.2 220.9,160.9 228,161.6 235.2,162.3 242.5,163.5 249.9,165.1 257.4,166.9 265.1,169 272.8,171.6 280.7,174.6 288.6,177.7 296.7,181.4 304.9,185.3 313.2,189.4 321.6,193.2 330.2,197 338.9,200.6M198.9,226.8 206.5,221.3 213.9,216.9 221.2,212.4 228.4,207.2 235.5,201.4 242.5,196.3 249.3,191.4 256.1,187.7 262.7,184.2 269.2,181.1 275.6,178.4 281.9,176.1 288.1,174 294.2,172.3 300.2,170.8 306,169.4 311.8,168 317.5,166.1 323.1,164.2 328.6,162.4M193.9,153.4 200.5,154.7 207.2,155.8 214,156.9 220.9,157.9 227.8,158.9 234.9,159.7 242.1,160.6 249.4,161.7 256.8,163.1 264.3,165 271.9,167.1 279.7,169.6 287.5,172.3 295.4,175.6 303.5,179.1 311.7,182.8 319.9,186.6 328.3,190.1 336.9,193.7 345.5,197.1M208,230.2 215.6,225 223,220.5 230.3,216.1 237.5,211.7 244.6,205.9 251.5,200.8 258.4,196.2 265.1,191.9 271.7,188.1 278.2,185 284.6,182.2 290.8,179.8 297,177.7 303,175.9 309,174.2 314.8,172.6 320.6,170.8 326.3,168.8 331.8,166.9 337.3,164.9M200.8,151 207.4,152.3 214.1,153.4 220.8,154.6 227.7,155.7 234.7,156.9 241.8,158 249,159.1 256.2,160.3 263.6,161.7 271.1,163.4 278.7,165.5 286.4,167.9 294.2,170.7 302.1,173.7 310.2,177 318.3,180.4 326.6,183.8 334.9,187.1 343.4,190.6 352.1,193.8M217.3,233.7 224.8,230.1 232.3,224.3 239.6,219.9 246.7,215.5 253.8,211.2 260.7,205.6 267.5,201 274.2,196.8 280.8,193 287.3,189.6 293.6,186.7 299.9,184.1 306,181.8 312,179.7 317.9,177.8 323.8,175.9 329.5,173.8 335.2,171.7 340.7,169.7 346.2,167.6M207.6,148.7 214.2,150 220.8,151.2 227.6,152.4 234.5,153.7 241.5,154.9 248.5,156.3 255.7,157.6 262.9,158.9 270.3,160.4 277.8,162.2 285.4,164.2 293,166.5 300.8,169.1 308.7,172 316.7,175 324.8,178.2 333,181.2 341.4,184.3 349.9,187.6 358.5,190.6M226.7,237.2 234.3,233.5 241.7,228.2 249,223.8 256.1,219.5 263.1,215.2 270,211 276.8,206.1 283.5,201.8 290.1,198 296.5,194.5 302.8,191.4 309,188.6 315.2,186.1 321.2,183.8 327.1,181.4 332.9,179.1 338.6,176.9 344.2,174.7 349.7,172.5 355.1,170.2M214.3,146.5 220.8,147.8 227.5,149 234.3,150.3 241.1,151.6 248.1,153 255.1,154.3 262.3,155.8 269.5,157.5 276.9,159.1 284.3,160.9 291.9,162.9 299.5,165.1 307.3,167.6 315.2,170.3 323.1,172.9 331.2,175.7 339.4,178.6 347.7,181.7 356.2,184.6 364.8,187.5M236.4,240.8 243.9,237.1 251.3,233.3 258.5,227.8 265.7,223.4 272.7,219.2 279.5,215.1 286.3,211.1 292.9,206.9 299.5,202.9 305.9,199.3 312.2,196 318.4,193 324.5,190.2 330.4,187.5 336.3,185 342.1,182.6 347.8,180.2 353.4,177.8 358.9,175.4 364.3,173M220.8,145.3 227.4,145.6 234.1,146.9 240.8,148.2 247.7,149.6 254.6,151 261.6,152.5 268.8,154 276,155.6 283.3,157.3 290.7,159.2 298.3,161.3 305.9,163.4 313.6,165.7 321.5,168.1 329.4,170.7 337.5,173.4 345.7,176.2 354,179 362.4,181.7 370.9,184.5M246.2,244.5 253.7,240.7 261,236.9 268.3,233.2 275.4,227.5 282.3,223.3 289.2,219.1 295.9,215.1 302.5,211.3 309,207.6 315.4,204 321.7,200.5 327.9,197.3 333.9,194.3 339.9,191.4 345.7,188.7 351.5,186.1 357.1,183.4 362.7,180.8 368.1,178.3 373.5,175.9M227.3,142.8 233.9,144.7 240.5,144.9 247.3,146.2 254.1,147.5 261,149 268,150.5 275.1,152.1 282.4,153.8 289.7,155.5 297.1,157.3 304.6,159.3 312.2,161.4 319.9,163.7 327.7,166 335.6,168.5 343.7,171.1 351.8,173.6 360.1,176.2 368.5,178.9 377,181.6" fill="none" stroke="#fff" stroke-opacity="0.3" stroke-width="0.7"/>
<path d="M101.2,190.3L256.2,248.3L382.8,181.8" fill="none" stroke="#fff" stroke-width="1.4"/>
<path d="M99.4,191L256.5,250L384.9,182.4M105.4,193.2L101.8,194.6M133.7,203.9L130.1,205.3M164.3,215.4L160.7,216.9M196.6,227.5L193.1,229.2M228.6,239.5L225.1,241.3M285.3,234.9L289.5,236.3M313.1,220.2L317.2,221.6M339.5,206.3L343.6,207.5M364.1,193.3L368.1,194.5" fill="none" stroke="#4a4a4a" stroke-width="1.1"/>
<path d="M101.2,190.3L93.5,-7.5M101.2,190.3h-3M99.9,155.9h-3M98.5,120.8h-3M97.1,85.1h-3M95.7,48.6h-3M94.2,11.4h-3" fill="none" stroke="#4a4a4a" stroke-width="1.1"/>
<text x="0" y="0" font-size="12.5" text-anchor="end" fill="#2e2e2e" transform="translate(96.7,194.1) rotate(-15) skewX(-10) scale(0.88,1)">0</text>
<text x="0" y="0" font-size="12.5" text-anchor="end" fill="#2e2e2e" transform="translate(95.4,159.7) rotate(-15) skewX(-10) scale(0.88,1)">200</text>
<text x="0" y="0" font-size="12.5" text-anchor="end" fill="#2e2e2e" transform="translate(94,124.6) rotate(-15) skewX(-10) scale(0.88,1)">400</text>
<text x="0" y="0" font-size="12.5" text-anchor="end" fill="#2e2e2e" transform="translate(92.6,88.9) rotate(-15) skewX(-10) scale(0.88,1)">600</text>
<text x="0" y="0" font-size="12.5" text-anchor="end" fill="#2e2e2e" transform="translate(91.2,52.4) rotate(-15) skewX(-10) scale(0.88,1)">800</text>
<text x="0" y="0" font-size="12.5" text-anchor="end" fill="#2e2e2e" transform="translate(89.7,15.2) rotate(-15) skewX(-10) scale(0.88,1)">1000</text>
<text x="0" y="3.6" font-size="10" text-anchor="middle" fill="#444" font-weight="normal" transform="matrix(1.198,-0.457,1.003,0.390,90.6,198.9)">0.45</text>
<text x="0" y="3.6" font-size="10" text-anchor="middle" fill="#444" font-weight="normal" transform="matrix(1.200,-0.487,1.070,0.416,119.7,210.2)">0.50</text>
<text x="0" y="3.6" font-size="10" text-anchor="middle" fill="#444" font-weight="normal" transform="matrix(1.199,-0.517,1.139,0.442,148.6,221.4)">0.55</text>
<text x="0" y="3.6" font-size="10" text-anchor="middle" fill="#444" font-weight="normal" transform="matrix(1.195,-0.552,1.217,0.473,180.4,233.8)">0.60</text>
<text x="0" y="3.6" font-size="10" text-anchor="middle" fill="#444" font-weight="normal" transform="matrix(1.187,-0.592,1.307,0.508,215.9,247.5)">0.65</text>
<text x="0" y="3.6" font-size="10" text-anchor="middle" fill="#444" font-weight="normal" transform="matrix(1.346,0.473,-1.005,0.552,303.8,241.2)">0.45</text>
<text x="0" y="3.6" font-size="10" text-anchor="middle" fill="#444" font-weight="normal" transform="matrix(1.328,0.439,-0.933,0.512,330.6,226.5)">0.50</text>
<text x="0" y="3.6" font-size="10" text-anchor="middle" fill="#444" font-weight="normal" transform="matrix(1.309,0.406,-0.865,0.475,356.9,212.1)">0.55</text>
<text x="0" y="3.6" font-size="10" text-anchor="middle" fill="#444" font-weight="normal" transform="matrix(1.290,0.378,-0.807,0.443,380.5,199.1)">0.60</text>
<text x="0" y="3.6" font-size="10" text-anchor="middle" fill="#222" font-weight="normal" transform="matrix(1.432,0.583,-1.540,0.680,138.9,235.0)">X position (mm)</text>
<text x="0" y="3.6" font-size="10" text-anchor="middle" fill="#222" font-weight="normal" transform="matrix(0.962,-0.553,1.481,0.474,364.5,225.8)">Y position (mm)</text>
<text x="0" y="0" font-size="16.5" fill="#2a2a2a" transform="translate(53.6,103.5) rotate(87.6)" text-anchor="middle">Displacement (pm)</text>
<text x="123.5" y="39.2" font-size="19.5" fill="#000">AFE</text>
<path d="M118.2,485L240.8,443L378.7,477.6M117.1,455.5L240.7,417.5L379.8,448.6M115.9,425.6L240.7,391.5L381,419.1M114.7,395L240.6,365.2L382.3,389M113.5,363.9L240.6,338.4L383.5,358.4M144.7,504.4L139.2,327.8M171.2,494.4L167.2,323.2M196.6,484.8L194,318.8M220.4,475.9L219.1,314.7M246.2,469.7L246.2,311.8M271.6,476.7L272.9,314.8M298.9,484.3L301.5,317.9M327.4,492.2L331.6,321.3M355.3,500L361.2,324.6" fill="none" stroke="#d4d4d4" stroke-width="0.9"/>
<path d="M240.8,468.2L240.5,311.2M377.5,506.1L384.8,327.2M112.2,332.3L240.5,311.2L384.8,327.2" fill="none" stroke="#9a9a9a" stroke-width="1"/>
<style>.fm{fill:none;stroke:#6a6a6a;stroke-opacity:0.4;stroke-width:0.6}</style><g stroke-width="0.7"><path d="M234.9,464.2 241.6,463.1 247.5,463.9 240.8,466.2Z" fill="#2c11fb" stroke="#2c11fb"/><path d="M229,462.5 235.7,460.1 241.6,463.1 234.9,464.2Z" fill="#1a2eff" stroke="#1a2eff"/><path d="M241.6,463.1 248.4,459.7 254.3,461.7 247.5,463.9Z" fill="#1a2fff" stroke="#1a2fff"/><path d="M222.9,460.4 229.6,456.3 235.7,460.1 229,462.5Z" fill="#0458ff" stroke="#0458ff"/><path d="M235.7,460.1 242.5,455.3 248.4,459.7 241.6,463.1Z" fill="#0457ff" stroke="#0457ff"/><path d="M248.4,459.7 255.4,455.3 261.2,459 254.3,461.7Z" fill="#035aff" stroke="#035aff"/><path d="M216.7,458.5 223.4,451.8 229.6,456.3 222.9,460.4Z" fill="#0081ff" stroke="#0081ff"/><path d="M229.6,456.3 236.4,449 242.5,455.3 235.7,460.1Z" fill="#008cff" stroke="#008cff"/><path d="M242.5,455.3 249.5,448.4 255.4,455.3 248.4,459.7Z" fill="#008eff" stroke="#008eff"/><path d="M255.4,455.3 262.4,450.1 268.2,456.6 261.2,459Z" fill="#0085ff" stroke="#0085ff"/><path d="M210.4,456.8 217.1,448.1 223.4,451.8 216.7,458.5Z" fill="#00adff" stroke="#00adff"/><path d="M223.4,451.8 230.2,442 236.4,449 229.6,456.3Z" fill="#00c8f9" stroke="#00c8f9"/><path d="M236.4,449 243.4,439.3 249.5,448.4 242.5,455.3Z" fill="#00d1f5" stroke="#00d1f5"/><path d="M249.5,448.4 256.5,440.6 262.4,450.1 255.4,455.3Z" fill="#00cbf8" stroke="#00cbf8"/><path d="M262.4,450.1 269.6,445.5 275.4,454 268.2,456.6Z" fill="#00b4ff" stroke="#00b4ff"/><path d="M204,455.8 210.6,445.2 217.1,448.1 210.4,456.8Z" fill="#00cdf7" stroke="#00cdf7"/><path d="M217.1,448.1 223.9,434.6 230.2,442 223.4,451.8Z" fill="#00e9b1" stroke="#00e9b1"/><path d="M230.2,442 237.2,426.9 243.4,439.3 236.4,449Z" fill="#00e64d" stroke="#00e64d"/><path d="M243.4,439.3 250.5,425.9 256.5,440.6 249.5,448.4Z" fill="#00e643" stroke="#00e643"/><path d="M256.5,440.6 263.8,431.8 269.6,445.5 262.4,450.1Z" fill="#00e998" stroke="#00e998"/><path d="M269.6,445.5 277,441.6 282.7,452.3 275.4,454Z" fill="#00d6f3" stroke="#00d6f3"/><path d="M197.5,455.8 204.1,443.7 210.6,445.2 204,455.8Z" fill="#00e4ee" stroke="#00e4ee"/><path d="M210.6,445.2 217.4,427.2 223.9,434.6 217.1,448.1Z" fill="#13e732" stroke="#13e732"/><path d="M223.9,434.6 230.8,414.1 237.2,426.9 230.2,442Z" fill="#6cea06" stroke="#6cea06"/><path d="M237.2,426.9 244.3,408.7 250.5,425.9 243.4,439.3Z" fill="#9ded00" stroke="#9ded00"/><path d="M250.5,425.9 257.8,411.9 263.8,431.8 256.5,440.6Z" fill="#78eb00" stroke="#78eb00"/><path d="M263.8,431.8 271.2,423.1 277,441.6 269.6,445.5Z" fill="#25e82a" stroke="#25e82a"/><path d="M277,441.6 284.4,439 290,451.6 282.7,452.3Z" fill="#00ead6" stroke="#00ead6"/><path d="M190.8,457.1 197.4,444.2 204.1,443.7 197.5,455.8Z" fill="#00ead1" stroke="#00ead1"/><path d="M204.1,443.7 210.8,422.5 217.4,427.2 210.6,445.2Z" fill="#4de915" stroke="#4de915"/><path d="M217.4,427.2 224.3,403.8 230.8,414.1 223.9,434.6Z" fill="#f2e700" stroke="#f2e700"/><path d="M230.8,414.1 237.9,392.2 244.3,408.7 237.2,426.9Z" fill="#fead00" stroke="#fead00"/><path d="M244.3,408.7 251.6,390.9 257.8,411.9 250.5,425.9Z" fill="#ffa700" stroke="#ffa700"/><path d="M257.8,411.9 265.3,400.2 271.2,423.1 263.8,431.8Z" fill="#f5d900" stroke="#f5d900"/><path d="M271.2,423.1 278.7,417.1 284.4,439 277,441.6Z" fill="#69ea07" stroke="#69ea07"/><path d="M284.4,439 292,438.3 297.5,452.1 290,451.6Z" fill="#00e999" stroke="#00e999"/><path d="M184.1,459.8 190.7,447.1 197.4,444.2 190.8,457.1Z" fill="#00eac9" stroke="#00eac9"/><path d="M197.4,444.2 204.1,421.6 210.8,422.5 204.1,443.7Z" fill="#73eb03" stroke="#73eb03"/><path d="M210.8,422.5 217.6,397 224.3,403.8 217.4,427.2Z" fill="#fead00" stroke="#fead00"/><path d="M224.3,403.8 231.4,376.1 237.9,392.2 230.8,414.1Z" fill="#ff2900" stroke="#ff2900"/><path d="M237.9,392.2 245.3,368.2 251.6,390.9 244.3,408.7Z" fill="#ff0600" stroke="#ff0600"/><path d="M251.6,390.9 259.2,374.3 265.3,400.2 257.8,411.9Z" fill="#ff1e00" stroke="#ff1e00"/><path d="M265.3,400.2 272.9,391.8 278.7,417.1 271.2,423.1Z" fill="#ff8f00" stroke="#ff8f00"/><path d="M278.7,417.1 286.4,415.1 292,438.3 284.4,439Z" fill="#a3ed00" stroke="#a3ed00"/><path d="M292,438.3 299.6,440.5 305.1,454.2 297.5,452.1Z" fill="#00e887" stroke="#00e887"/><path d="M177.3,463.9 183.9,452.4 190.7,447.1 184.1,459.8Z" fill="#00ebeb" stroke="#00ebeb"/><path d="M190.7,447.1 197.3,425 204.1,421.6 197.4,444.2Z" fill="#79eb00" stroke="#79eb00"/><path d="M204.1,421.6 210.9,394.9 217.6,397 210.8,422.5Z" fill="#ff7900" stroke="#ff7900"/><path d="M217.6,397 224.7,365 231.4,376.1 224.3,403.8Z" fill="#f30000" stroke="#f30000"/><path d="M231.4,376.1 238.7,349.2 245.3,368.2 237.9,392.2Z" fill="#d40000" stroke="#d40000"/><path d="M245.3,368.2 252.8,349.4 259.2,374.3 251.6,390.9Z" fill="#d30000" stroke="#d30000"/><path d="M259.2,374.3 266.9,363.6 272.9,391.8 265.3,400.2Z" fill="#ee0000" stroke="#ee0000"/><path d="M272.9,391.8 280.6,388.4 286.4,415.1 278.7,417.1Z" fill="#ff4f00" stroke="#ff4f00"/><path d="M286.4,415.1 294.1,417.3 299.6,440.5 292,438.3Z" fill="#b5ee00" stroke="#b5ee00"/><path d="M299.6,440.5 307.3,445.4 312.8,457.7 305.1,454.2Z" fill="#00e9a5" stroke="#00e9a5"/><path d="M170.5,469.2 177,459.5 183.9,452.4 177.3,463.9Z" fill="#00d7f3" stroke="#00d7f3"/><path d="M183.9,452.4 190.5,432.5 197.3,425 190.7,447.1Z" fill="#5fea0d" stroke="#5fea0d"/><path d="M197.3,425 204.1,398.5 210.9,394.9 204.1,421.6Z" fill="#ff7100" stroke="#ff7100"/><path d="M210.9,394.9 217.9,360.7 224.7,365 217.6,397Z" fill="#e10000" stroke="#e10000"/><path d="M224.7,365 232,338.4 238.7,349.2 231.4,376.1Z" fill="#a40000" stroke="#a40000"/><path d="M238.7,349.2 246.3,335 252.8,349.4 245.3,368.2Z" fill="#8c0000" stroke="#8c0000"/><path d="M252.8,349.4 260.6,339.1 266.9,363.6 259.2,374.3Z" fill="#a60000" stroke="#a60000"/><path d="M266.9,363.6 274.7,359.8 280.6,388.4 272.9,391.8Z" fill="#dc0000" stroke="#dc0000"/><path d="M280.6,388.4 288.4,390.7 294.1,417.3 286.4,415.1Z" fill="#ff3d00" stroke="#ff3d00"/><path d="M294.1,417.3 301.9,423.7 307.3,445.4 299.6,440.5Z" fill="#97ec00" stroke="#97ec00"/><path d="M307.3,445.4 315.1,452.2 320.5,462.6 312.8,457.7Z" fill="#00ebeb" stroke="#00ebeb"/><path d="M163.5,475.3 170.1,467.5 177,459.5 170.5,469.2Z" fill="#00bcfe" stroke="#00bcfe"/><path d="M177,459.5 183.6,443.7 190.5,432.5 183.9,452.4Z" fill="#2be827" stroke="#2be827"/><path d="M190.5,432.5 197.2,407.5 204.1,398.5 197.3,425Z" fill="#ff9600" stroke="#ff9600"/><path d="M204.1,398.5 211,364.2 217.9,360.7 210.9,394.9Z" fill="#dd0000" stroke="#dd0000"/><path d="M217.9,360.7 225.2,336.4 232,338.4 224.7,365Z" fill="#830000" stroke="#830000"/><path d="M232,338.4 239.6,330.3 246.3,335 238.7,349.2Z" fill="#700000" stroke="#700000"/><path d="M246.3,335 254.1,330.8 260.6,339.1 252.8,349.4Z" fill="#720000" stroke="#720000"/><path d="M260.6,339.1 268.5,337.6 274.7,359.8 266.9,363.6Z" fill="#890000" stroke="#890000"/><path d="M274.7,359.8 282.6,362.7 288.4,390.7 280.6,388.4Z" fill="#d70000" stroke="#d70000"/><path d="M288.4,390.7 296.3,398.4 301.9,423.7 294.1,417.3Z" fill="#ff5b00" stroke="#ff5b00"/><path d="M301.9,423.7 309.6,434.3 315.1,452.2 307.3,445.4Z" fill="#59ea10" stroke="#59ea10"/><path d="M315.1,452.2 322.9,460.1 328.3,468.5 320.5,462.6Z" fill="#00cff6" stroke="#00cff6"/><path d="M156.4,481 163,476 170.1,467.5 163.5,475.3Z" fill="#0098ff" stroke="#0098ff"/><path d="M170.1,467.5 176.7,456.1 183.6,443.7 177,459.5Z" fill="#00e76f" stroke="#00e76f"/><path d="M183.6,443.7 190.3,421 197.2,407.5 190.5,432.5Z" fill="#f7ce00" stroke="#f7ce00"/><path d="M197.2,407.5 204.1,375.7 211,364.2 204.1,398.5Z" fill="#ea0000" stroke="#ea0000"/><path d="M211,364.2 218.2,338.4 225.2,336.4 217.9,360.7Z" fill="#7f0000" stroke="#7f0000"/><path d="M225.2,336.4 232.8,330.1 239.6,330.3 232,338.4Z" fill="#680000" stroke="#680000"/><path d="M239.6,330.3 247.4,329.1 254.1,330.8 246.3,335Z" fill="#650000" stroke="#650000"/><path d="M254.1,330.8 262,330.5 268.5,337.6 260.6,339.1Z" fill="#6b0000" stroke="#6b0000"/><path d="M268.5,337.6 276.4,339.8 282.6,362.7 274.7,359.8Z" fill="#840000" stroke="#840000"/><path d="M282.6,362.7 290.5,371.7 296.3,398.4 288.4,390.7Z" fill="#e10000" stroke="#e10000"/><path d="M296.3,398.4 304.1,411.3 309.6,434.3 301.9,423.7Z" fill="#ffa600" stroke="#ffa600"/><path d="M309.6,434.3 317.5,447.4 322.9,460.1 315.1,452.2Z" fill="#12e733" stroke="#12e733"/><path d="M322.9,460.1 330.8,468.5 336.3,474.4 328.3,468.5Z" fill="#00acff" stroke="#00acff"/><path d="M149.2,487.1 155.9,484.6 163,476 156.4,481Z" fill="#0075ff" stroke="#0075ff"/><path d="M163,476 169.7,467.8 176.7,456.1 170.1,467.5Z" fill="#00dff0" stroke="#00dff0"/><path d="M176.7,456.1 183.4,437.7 190.3,421 183.6,443.7Z" fill="#a5ed00" stroke="#a5ed00"/><path d="M190.3,421 197.2,395.4 204.1,375.7 197.2,407.5Z" fill="#ff0d00" stroke="#ff0d00"/><path d="M204.1,375.7 211.2,345.7 218.2,338.4 211,364.2Z" fill="#8e0000" stroke="#8e0000"/><path d="M218.2,338.4 225.8,331.5 232.8,330.1 225.2,336.4Z" fill="#660000" stroke="#660000"/><path d="M232.8,330.1 240.6,329.3 247.4,329.1 239.6,330.3Z" fill="#610000" stroke="#610000"/><path d="M247.4,329.1 255.3,329.6 262,330.5 254.1,330.8Z" fill="#620000" stroke="#620000"/><path d="M262,330.5 270,332.4 276.4,339.8 268.5,337.6Z" fill="#6a0000" stroke="#6a0000"/><path d="M276.4,339.8 284.5,347.8 290.5,371.7 282.6,362.7Z" fill="#950000" stroke="#950000"/><path d="M290.5,371.7 298.4,387.1 304.1,411.3 296.3,398.4Z" fill="#f60000" stroke="#f60000"/><path d="M304.1,411.3 312,427.5 317.5,447.4 309.6,434.3Z" fill="#f1ed00" stroke="#f1ed00"/><path d="M317.5,447.4 325.4,459.7 330.8,468.5 322.9,460.1Z" fill="#00eac4" stroke="#00eac4"/><path d="M330.8,468.5 338.9,477.3 344.3,480.3 336.3,474.4Z" fill="#0083ff" stroke="#0083ff"/><path d="M141.9,493.2 148.6,492.4 155.9,484.6 149.2,487.1Z" fill="#0654ff" stroke="#0654ff"/><path d="M155.9,484.6 162.6,478.9 169.7,467.8 163,476Z" fill="#00afff" stroke="#00afff"/><path d="M169.7,467.8 176.5,456.2 183.4,437.7 176.7,456.1Z" fill="#24e82a" stroke="#24e82a"/><path d="M183.4,437.7 190.3,417.1 197.2,395.4 190.3,421Z" fill="#ff7300" stroke="#ff7300"/><path d="M197.2,395.4 204.3,366.3 211.2,345.7 204.1,375.7Z" fill="#bc0000" stroke="#bc0000"/><path d="M211.2,345.7 218.8,335.3 225.8,331.5 218.2,338.4Z" fill="#6a0000" stroke="#6a0000"/><path d="M225.8,331.5 233.6,330.7 240.6,329.3 232.8,330.1Z" fill="#600000" stroke="#600000"/><path d="M240.6,329.3 248.5,329.9 255.3,329.6 247.4,329.1Z" fill="#5f0000" stroke="#5f0000"/><path d="M255.3,329.6 263.4,331.2 270,332.4 262,330.5Z" fill="#620000" stroke="#620000"/><path d="M270,332.4 278.1,337.4 284.5,347.8 276.4,339.8Z" fill="#6f0000" stroke="#6f0000"/><path d="M284.5,347.8 292.5,365 298.4,387.1 290.5,371.7Z" fill="#bb0000" stroke="#bb0000"/><path d="M298.4,387.1 306.3,406.7 312,427.5 304.1,411.3Z" fill="#ff3400" stroke="#ff3400"/><path d="M312,427.5 319.8,446.3 325.4,459.7 317.5,447.4Z" fill="#57ea11" stroke="#57ea11"/><path d="M325.4,459.7 333.4,471.1 338.9,477.3 330.8,468.5Z" fill="#00c3fb" stroke="#00c3fb"/><path d="M338.9,477.3 347,485.2 352.5,486.4 344.3,480.3Z" fill="#005fff" stroke="#005fff"/><path d="M134.5,499.3 141.2,499.7 148.6,492.4 141.9,493.2Z" fill="#1635ff" stroke="#1635ff"/><path d="M148.6,492.4 155.4,489.6 162.6,478.9 155.9,484.6Z" fill="#0079ff" stroke="#0079ff"/><path d="M162.6,478.9 169.5,471.4 176.5,456.2 169.7,467.8Z" fill="#00ead7" stroke="#00ead7"/><path d="M176.5,456.2 183.4,439.4 190.3,417.1 183.4,437.7Z" fill="#f0ef00" stroke="#f0ef00"/><path d="M190.3,417.1 197.4,394.6 204.3,366.3 197.2,395.4Z" fill="#ed0000" stroke="#ed0000"/><path d="M204.3,366.3 211.7,345.3 218.8,335.3 211.2,345.7Z" fill="#750000" stroke="#750000"/><path d="M218.8,335.3 226.6,333.3 233.6,330.7 225.8,331.5Z" fill="#610000" stroke="#610000"/><path d="M233.6,330.7 241.6,331.2 248.5,329.9 240.6,329.3Z" fill="#5e0000" stroke="#5e0000"/><path d="M248.5,329.9 256.6,331.5 263.4,331.2 255.3,329.6Z" fill="#5f0000" stroke="#5f0000"/><path d="M263.4,331.2 271.5,333.9 278.1,337.4 270,332.4Z" fill="#640000" stroke="#640000"/><path d="M278.1,337.4 286.3,347.4 292.5,365 284.5,347.8Z" fill="#7b0000" stroke="#7b0000"/><path d="M292.5,365 300.5,387 306.3,406.7 298.4,387.1Z" fill="#e30000" stroke="#e30000"/><path d="M306.3,406.7 314.2,429 319.8,446.3 312,427.5Z" fill="#f9c500" stroke="#f9c500"/><path d="M319.8,446.3 327.8,463 333.4,471.1 325.4,459.7Z" fill="#00e87d" stroke="#00e87d"/><path d="M333.4,471.1 341.5,482.1 347,485.2 338.9,477.3Z" fill="#008aff" stroke="#008aff"/><path d="M347,485.2 355.3,492.6 360.7,492.2 352.5,486.4Z" fill="#133bff" stroke="#133bff"/><path d="M127,506 133.7,506.1 141.2,499.7 134.5,499.3Z" fill="#2519ff" stroke="#2519ff"/><path d="M141.2,499.7 148,498.3 155.4,489.6 148.6,492.4Z" fill="#084fff" stroke="#084fff"/><path d="M155.4,489.6 162.3,484.6 169.5,471.4 162.6,478.9Z" fill="#00b2ff" stroke="#00b2ff"/><path d="M169.5,471.4 176.4,462 183.4,439.4 176.5,456.2Z" fill="#33e823" stroke="#33e823"/><path d="M183.4,439.4 190.4,423.3 197.4,394.6 190.3,417.1Z" fill="#ff5900" stroke="#ff5900"/><path d="M197.4,394.6 204.7,373.4 211.7,345.3 204.3,366.3Z" fill="#af0000" stroke="#af0000"/><path d="M211.7,345.3 219.4,339.7 226.6,333.3 218.8,335.3Z" fill="#670000" stroke="#670000"/><path d="M226.6,333.3 234.5,333.8 241.6,331.2 233.6,330.7Z" fill="#5f0000" stroke="#5f0000"/><path d="M241.6,331.2 249.7,332.9 256.6,331.5 248.5,329.9Z" fill="#5e0000" stroke="#5e0000"/><path d="M256.6,331.5 264.8,334.1 271.5,333.9 263.4,331.2Z" fill="#610000" stroke="#610000"/><path d="M271.5,333.9 279.8,341.6 286.3,347.4 278.1,337.4Z" fill="#6c0000" stroke="#6c0000"/><path d="M286.3,347.4 294.4,371.1 300.5,387 292.5,365Z" fill="#b00000" stroke="#b00000"/><path d="M300.5,387 308.4,412.8 314.2,429 306.3,406.7Z" fill="#ff2500" stroke="#ff2500"/><path d="M314.2,429 322.2,452.2 327.8,463 319.8,446.3Z" fill="#68ea08" stroke="#68ea08"/><path d="M327.8,463 335.9,476.6 341.5,482.1 333.4,471.1Z" fill="#00c7f9" stroke="#00c7f9"/><path d="M341.5,482.1 349.8,491 355.3,492.6 347,485.2Z" fill="#035aff" stroke="#035aff"/><path d="M355.3,492.6 363.7,498.8 369.1,498.4 360.7,492.2Z" fill="#231dff" stroke="#231dff"/><path d="M119.3,513.1 126,511.5 133.7,506.1 127,506Z" fill="#350bf4" stroke="#350bf4"/><path d="M133.7,506.1 140.5,505.3 148,498.3 141.2,499.7Z" fill="#1a2dff" stroke="#1a2dff"/><path d="M148,498.3 154.9,495.9 162.3,484.6 155.4,489.6Z" fill="#0074ff" stroke="#0074ff"/><path d="M162.3,484.6 169.3,479 176.4,462 169.5,471.4Z" fill="#00ebea" stroke="#00ebea"/><path d="M176.4,462 183.5,450 190.4,423.3 183.4,439.4Z" fill="#dcef00" stroke="#dcef00"/><path d="M190.4,423.3 197.7,408.9 204.7,373.4 197.4,394.6Z" fill="#f40000" stroke="#f40000"/><path d="M204.7,373.4 212.3,359.3 219.4,339.7 211.7,345.3Z" fill="#7b0000" stroke="#7b0000"/><path d="M219.4,339.7 227.4,338.8 234.5,333.8 226.6,333.3Z" fill="#630000" stroke="#630000"/><path d="M234.5,333.8 242.6,335.5 249.7,332.9 241.6,331.2Z" fill="#5f0000" stroke="#5f0000"/><path d="M249.7,332.9 257.9,335.6 264.8,334.1 256.6,331.5Z" fill="#600000" stroke="#600000"/><path d="M264.8,334.1 273.1,340.3 279.8,341.6 271.5,333.9Z" fill="#660000" stroke="#660000"/><path d="M279.8,341.6 288,360.3 294.4,371.1 286.3,347.4Z" fill="#810000" stroke="#810000"/><path d="M294.4,371.1 302.4,399.5 308.4,412.8 300.5,387Z" fill="#e80000" stroke="#e80000"/><path d="M308.4,412.8 316.4,439.5 322.2,452.2 314.2,429Z" fill="#f7d000" stroke="#f7d000"/><path d="M322.2,452.2 330.2,470.7 335.9,476.6 327.8,463Z" fill="#00e893" stroke="#00e893"/><path d="M335.9,476.6 344.2,488.5 349.8,491 341.5,482.1Z" fill="#0084ff" stroke="#0084ff"/><path d="M349.8,491 358.2,498.2 363.7,498.8 355.3,492.6Z" fill="#1833ff" stroke="#1833ff"/><path d="M363.7,498.8 372.3,503.8 377.6,505.1 369.1,498.4Z" fill="#330cf5" stroke="#330cf5"/><path d="M126,511.5 132.7,510.4 140.5,505.3 133.7,506.1Z" fill="#2618ff" stroke="#2618ff"/><path d="M140.5,505.3 147.4,504.2 154.9,495.9 148,498.3Z" fill="#0b4aff" stroke="#0b4aff"/><path d="M154.9,495.9 162,492.7 169.3,479 162.3,484.6Z" fill="#00a4ff" stroke="#00a4ff"/><path d="M169.3,479 176.4,473.2 183.5,450 176.4,462Z" fill="#0fe734" stroke="#0fe734"/><path d="M183.5,450 190.8,439.3 197.7,408.9 190.4,423.3Z" fill="#ff9b00" stroke="#ff9b00"/><path d="M197.7,408.9 205.3,396.8 212.3,359.3 204.7,373.4Z" fill="#cf0000" stroke="#cf0000"/><path d="M212.3,359.3 220.2,354.6 227.4,338.8 219.4,339.7Z" fill="#710000" stroke="#710000"/><path d="M227.4,338.8 235.5,341.2 242.6,335.5 234.5,333.8Z" fill="#620000" stroke="#620000"/><path d="M242.6,335.5 250.9,338.8 257.9,335.6 249.7,332.9Z" fill="#610000" stroke="#610000"/><path d="M257.9,335.6 266.2,342.2 273.1,340.3 264.8,334.1Z" fill="#640000" stroke="#640000"/><path d="M273.1,340.3 281.4,356.2 288,360.3 279.8,341.6Z" fill="#750000" stroke="#750000"/><path d="M288,360.3 296.1,390.5 302.4,399.5 294.4,371.1Z" fill="#cb0000" stroke="#cb0000"/><path d="M302.4,399.5 310.4,429.4 316.4,439.5 308.4,412.8Z" fill="#ff5900" stroke="#ff5900"/><path d="M316.4,439.5 324.4,464.6 330.2,470.7 322.2,452.2Z" fill="#3de91e" stroke="#3de91e"/><path d="M330.2,470.7 338.5,484.9 344.2,488.5 335.9,476.6Z" fill="#00baff" stroke="#00baff"/><path d="M344.2,488.5 352.6,496.9 358.2,498.2 349.8,491Z" fill="#0654ff" stroke="#0654ff"/><path d="M358.2,498.2 366.8,502.9 372.3,503.8 363.7,498.8Z" fill="#241bff" stroke="#241bff"/><path d="M132.7,510.4 139.7,509.8 147.4,504.2 140.5,505.3Z" fill="#1931ff" stroke="#1931ff"/><path d="M147.4,504.2 154.5,502.9 162,492.7 154.9,495.9Z" fill="#006aff" stroke="#006aff"/><path d="M162,492.7 169.1,489.5 176.4,473.2 169.3,479Z" fill="#00d1f5" stroke="#00d1f5"/><path d="M176.4,473.2 183.7,467.6 190.8,439.3 183.5,450Z" fill="#6deb06" stroke="#6deb06"/><path d="M190.8,439.3 198.3,432.2 205.3,396.8 197.7,408.9Z" fill="#ff3300" stroke="#ff3300"/><path d="M205.3,396.8 213.1,391.8 220.2,354.6 212.3,359.3Z" fill="#b50000" stroke="#b50000"/><path d="M220.2,354.6 228.3,358.3 235.5,341.2 227.4,338.8Z" fill="#700000" stroke="#700000"/><path d="M235.5,341.2 243.7,347.4 250.9,338.8 242.6,335.5Z" fill="#650000" stroke="#650000"/><path d="M250.9,338.8 259.2,347.8 266.2,342.2 257.9,335.6Z" fill="#670000" stroke="#670000"/><path d="M266.2,342.2 274.6,359.3 281.4,356.2 273.1,340.3Z" fill="#730000" stroke="#730000"/><path d="M281.4,356.2 289.6,387.5 296.1,390.5 288,360.3Z" fill="#b50000" stroke="#b50000"/><path d="M296.1,390.5 304.2,423 310.4,429.4 302.4,399.5Z" fill="#ff0f00" stroke="#ff0f00"/><path d="M310.4,429.4 318.5,458.3 324.4,464.6 316.4,439.5Z" fill="#b4ed00" stroke="#b4ed00"/><path d="M324.4,464.6 332.7,481.8 338.5,484.9 330.2,470.7Z" fill="#00e6ed" stroke="#00e6ed"/><path d="M338.5,484.9 346.9,495.7 352.6,496.9 344.2,488.5Z" fill="#0076ff" stroke="#0076ff"/><path d="M352.6,496.9 361.3,502.7 366.8,502.9 358.2,498.2Z" fill="#1735ff" stroke="#1735ff"/><path d="M139.7,509.8 146.7,510.1 154.5,502.9 147.4,504.2Z" fill="#0d47ff" stroke="#0d47ff"/><path d="M154.5,502.9 161.7,502.2 169.1,489.5 162,492.7Z" fill="#0089ff" stroke="#0089ff"/><path d="M169.1,489.5 176.5,487.3 183.7,467.6 176.4,473.2Z" fill="#00eac1" stroke="#00eac1"/><path d="M183.7,467.6 191.2,463.2 198.3,432.2 190.8,439.3Z" fill="#d9ef00" stroke="#d9ef00"/><path d="M198.3,432.2 206,429.6 213.1,391.8 205.3,396.8Z" fill="#ff0c00" stroke="#ff0c00"/><path d="M213.1,391.8 221.1,395 228.3,358.3 220.2,354.6Z" fill="#ae0000" stroke="#ae0000"/><path d="M228.3,358.3 236.5,370.5 243.7,347.4 235.5,341.2Z" fill="#750000" stroke="#750000"/><path d="M243.7,347.4 252.1,362.3 259.2,347.8 250.9,338.8Z" fill="#700000" stroke="#700000"/><path d="M259.2,347.8 267.6,370.4 274.6,359.3 266.2,342.2Z" fill="#770000" stroke="#770000"/><path d="M274.6,359.3 282.9,391.3 289.6,387.5 281.4,356.2Z" fill="#af0000" stroke="#af0000"/><path d="M289.6,387.5 297.8,421.4 304.2,423 296.1,390.5Z" fill="#f80000" stroke="#f80000"/><path d="M304.2,423 312.3,454 318.5,458.3 310.4,429.4Z" fill="#f5d700" stroke="#f5d700"/><path d="M318.5,458.3 326.7,479.7 332.7,481.8 324.4,464.6Z" fill="#00e76d" stroke="#00e76d"/><path d="M332.7,481.8 341.1,495.1 346.9,495.7 338.5,484.9Z" fill="#009aff" stroke="#009aff"/><path d="M346.9,495.7 355.6,503.1 361.3,502.7 352.6,496.9Z" fill="#094eff" stroke="#094eff"/><path d="M146.7,510.1 154,510.7 161.7,502.2 154.5,502.9Z" fill="#025cff" stroke="#025cff"/><path d="M161.7,502.2 169,502.1 176.5,487.3 169.1,489.5Z" fill="#00a7ff" stroke="#00a7ff"/><path d="M176.5,487.3 184,486.2 191.2,463.2 183.7,467.6Z" fill="#00e750" stroke="#00e750"/><path d="M191.2,463.2 198.9,461.8 206,429.6 198.3,432.2Z" fill="#f5d900" stroke="#f5d900"/><path d="M206,429.6 214,432.3 221.1,395 213.1,391.8Z" fill="#ff0000" stroke="#ff0000"/><path d="M221.1,395 229.3,405.8 236.5,370.5 228.3,358.3Z" fill="#bf0000" stroke="#bf0000"/><path d="M236.5,370.5 244.9,389.5 252.1,362.3 243.7,347.4Z" fill="#900000" stroke="#900000"/><path d="M252.1,362.3 260.5,388.8 267.6,370.4 259.2,347.8Z" fill="#920000" stroke="#920000"/><path d="M267.6,370.4 275.9,402.2 282.9,391.3 274.6,359.3Z" fill="#bf0000" stroke="#bf0000"/><path d="M282.9,391.3 291.1,425.4 297.8,421.4 289.6,387.5Z" fill="#f50000" stroke="#f50000"/><path d="M297.8,421.4 305.9,453.5 312.3,454 304.2,423Z" fill="#fcb700" stroke="#fcb700"/><path d="M312.3,454 320.5,478.9 326.7,479.7 318.5,458.3Z" fill="#1ce72e" stroke="#1ce72e"/><path d="M326.7,479.7 335.1,494.8 341.1,495.1 332.7,481.8Z" fill="#00baff" stroke="#00baff"/><path d="M341.1,495.1 349.8,503.8 355.6,503.1 346.9,495.7Z" fill="#0065ff" stroke="#0065ff"/><path d="M154,510.7 161.3,511.9 169,502.1 161.7,502.2Z" fill="#006cff" stroke="#006cff"/><path d="M169,502.1 176.5,502.4 184,486.2 176.5,487.3Z" fill="#00befd" stroke="#00befd"/><path d="M184,486.2 191.6,486.8 198.9,461.8 191.2,463.2Z" fill="#16e731" stroke="#16e731"/><path d="M198.9,461.8 206.8,464.6 214,432.3 206,429.6Z" fill="#f7cf00" stroke="#f7cf00"/><path d="M214,432.3 222.1,440.2 229.3,405.8 221.1,395Z" fill="#ff1400" stroke="#ff1400"/><path d="M229.3,405.8 237.6,422.1 244.9,389.5 236.5,370.5Z" fill="#dc0000" stroke="#dc0000"/><path d="M244.9,389.5 253.3,414.3 260.5,388.8 252.1,362.3Z" fill="#cc0000" stroke="#cc0000"/><path d="M260.5,388.8 268.9,419.1 275.9,402.2 267.6,370.4Z" fill="#d90000" stroke="#d90000"/><path d="M275.9,402.2 284.3,434.9 291.1,425.4 282.9,391.3Z" fill="#ff0000" stroke="#ff0000"/><path d="M291.1,425.4 299.4,457.5 305.9,453.5 297.8,421.4Z" fill="#fdb200" stroke="#fdb200"/><path d="M305.9,453.5 314.2,480.1 320.5,478.9 312.3,454Z" fill="#3be81e" stroke="#3be81e"/><path d="M320.5,478.9 329,495.5 335.1,494.8 326.7,479.7Z" fill="#00cef6" stroke="#00cef6"/><path d="M335.1,494.8 343.8,505.2 349.8,503.8 341.1,495.1Z" fill="#0076ff" stroke="#0076ff"/><path d="M161.3,511.9 168.9,513.5 176.5,502.4 169,502.1Z" fill="#0077ff" stroke="#0077ff"/><path d="M176.5,502.4 184.2,503.8 191.6,486.8 184,486.2Z" fill="#00caf8" stroke="#00caf8"/><path d="M191.6,486.8 199.5,489.6 206.8,464.6 198.9,461.8Z" fill="#1fe72d" stroke="#1fe72d"/><path d="M206.8,464.6 214.9,471.5 222.1,440.2 214,432.3Z" fill="#f4df00" stroke="#f4df00"/><path d="M222.1,440.2 230.4,452.7 237.6,422.1 229.3,405.8Z" fill="#ff4500" stroke="#ff4500"/><path d="M237.6,422.1 246,441.6 253.3,414.3 244.9,389.5Z" fill="#ff0300" stroke="#ff0300"/><path d="M253.3,414.3 261.7,440.3 268.9,419.1 260.5,388.8Z" fill="#fe0000" stroke="#fe0000"/><path d="M268.9,419.1 277.3,448.9 284.3,434.9 275.9,402.2Z" fill="#ff3200" stroke="#ff3200"/><path d="M284.3,434.9 292.6,465.7 299.4,457.5 291.1,425.4Z" fill="#f9c800" stroke="#f9c800"/><path d="M299.4,457.5 307.7,483.6 314.2,480.1 305.9,453.5Z" fill="#40e91c" stroke="#40e91c"/><path d="M314.2,480.1 322.7,497.5 329,495.5 320.5,478.9Z" fill="#00dbf2" stroke="#00dbf2"/><path d="M329,495.5 337.7,507.2 343.8,505.2 335.1,494.8Z" fill="#0082ff" stroke="#0082ff"/><path d="M168.9,513.5 176.5,515.7 184.2,503.8 176.5,502.4Z" fill="#007fff" stroke="#007fff"/><path d="M184.2,503.8 192,506.6 199.5,489.6 191.6,486.8Z" fill="#00cef7" stroke="#00cef7"/><path d="M199.5,489.6 207.5,494.4 214.9,471.5 206.8,464.6Z" fill="#10e734" stroke="#10e734"/><path d="M214.9,471.5 223.1,481.3 230.4,452.7 222.1,440.2Z" fill="#bfee00" stroke="#bfee00"/><path d="M230.4,452.7 238.7,469.1 246,441.6 237.6,422.1Z" fill="#fcb600" stroke="#fcb600"/><path d="M246,441.6 254.5,463.5 261.7,440.3 253.3,414.3Z" fill="#ff8900" stroke="#ff8900"/><path d="M261.7,440.3 270.2,466.7 277.3,448.9 268.9,419.1Z" fill="#fead00" stroke="#fead00"/><path d="M277.3,448.9 285.7,477.2 292.6,465.7 284.3,434.9Z" fill="#e3ef00" stroke="#e3ef00"/><path d="M292.6,465.7 301.1,489.5 307.7,483.6 299.4,457.5Z" fill="#2ae827" stroke="#2ae827"/><path d="M307.7,483.6 316.3,500.9 322.7,497.5 314.2,480.1Z" fill="#00ddf1" stroke="#00ddf1"/><path d="M322.7,497.5 331.4,509.8 337.7,507.2 329,495.5Z" fill="#008bff" stroke="#008bff"/><path d="M176.5,515.7 184.4,518.5 192,506.6 184.2,503.8Z" fill="#0081ff" stroke="#0081ff"/><path d="M192,506.6 200,510.8 207.5,494.4 199.5,489.6Z" fill="#00c8f9" stroke="#00c8f9"/><path d="M207.5,494.4 215.7,501 223.1,481.3 214.9,471.5Z" fill="#00e76a" stroke="#00e76a"/><path d="M223.1,481.3 231.4,492.1 238.7,469.1 230.4,452.7Z" fill="#54e912" stroke="#54e912"/><path d="M238.7,469.1 247.2,486.1 254.5,463.5 246,441.6Z" fill="#a9ed00" stroke="#a9ed00"/><path d="M254.5,463.5 263,485.1 270.2,466.7 261.7,440.3Z" fill="#b2ed00" stroke="#b2ed00"/><path d="M270.2,466.7 278.7,489.4 285.7,477.2 277.3,448.9Z" fill="#65ea0a" stroke="#65ea0a"/><path d="M285.7,477.2 294.3,497.1 301.1,489.5 292.6,465.7Z" fill="#00e63c" stroke="#00e63c"/><path d="M301.1,489.5 309.7,505.8 316.3,500.9 307.7,483.6Z" fill="#00d4f4" stroke="#00d4f4"/><path d="M316.3,500.9 325.1,513.2 331.4,509.8 322.7,497.5Z" fill="#008cff" stroke="#008cff"/><path d="M184.4,518.5 192.3,522 200,510.8 192,506.6Z" fill="#007dff" stroke="#007dff"/><path d="M200,510.8 208.1,516.1 215.7,501 207.5,494.4Z" fill="#00b9ff" stroke="#00b9ff"/><path d="M215.7,501 224,508.8 231.4,492.1 223.1,481.3Z" fill="#00ebe2" stroke="#00ebe2"/><path d="M231.4,492.1 239.9,503.1 247.2,486.1 238.7,469.1Z" fill="#00e74e" stroke="#00e74e"/><path d="M247.2,486.1 255.7,500.5 263,485.1 254.5,463.5Z" fill="#12e733" stroke="#12e733"/><path d="M263,485.1 271.6,501.5 278.7,489.4 270.2,466.7Z" fill="#00e63c" stroke="#00e63c"/><path d="M278.7,489.4 287.3,505.8 294.3,497.1 285.7,477.2Z" fill="#00eac4" stroke="#00eac4"/><path d="M294.3,497.1 303,512 309.7,505.8 301.1,489.5Z" fill="#00c3fb" stroke="#00c3fb"/><path d="M309.7,505.8 318.5,517.2 325.1,513.2 316.3,500.9Z" fill="#0086ff" stroke="#0086ff"/><path d="M192.3,522 200.4,526.1 208.1,516.1 200,510.8Z" fill="#0075ff" stroke="#0075ff"/><path d="M208.1,516.1 216.4,521.6 224,508.8 215.7,501Z" fill="#009fff" stroke="#009fff"/><path d="M224,508.8 232.4,517.2 239.9,503.1 231.4,492.1Z" fill="#00c7f9" stroke="#00c7f9"/><path d="M239.9,503.1 248.4,513.9 255.7,500.5 247.2,486.1Z" fill="#00ddf1" stroke="#00ddf1"/><path d="M255.7,500.5 264.4,513.2 271.6,501.5 263,485.1Z" fill="#00dff0" stroke="#00dff0"/><path d="M271.6,501.5 280.3,515.1 287.3,505.8 278.7,489.4Z" fill="#00ccf7" stroke="#00ccf7"/><path d="M287.3,505.8 296.1,518.5 303,512 294.3,497.1Z" fill="#00a8ff" stroke="#00a8ff"/><path d="M303,512 311.9,522 318.5,517.2 309.7,505.8Z" fill="#007bff" stroke="#007bff"/><path d="M200.4,526.1 208.7,530.5 216.4,521.6 208.1,516.1Z" fill="#0068ff" stroke="#0068ff"/><path d="M216.4,521.6 224.8,527.4 232.4,517.2 224,508.8Z" fill="#0083ff" stroke="#0083ff"/><path d="M232.4,517.2 241,525.1 248.4,513.9 239.9,503.1Z" fill="#009bff" stroke="#009bff"/><path d="M248.4,513.9 257.1,523.9 264.4,513.2 255.7,500.5Z" fill="#00a6ff" stroke="#00a6ff"/><path d="M264.4,513.2 273.1,523.8 280.3,515.1 271.6,501.5Z" fill="#009eff" stroke="#009eff"/><path d="M280.3,515.1 289.1,524.9 296.1,518.5 287.3,505.8Z" fill="#0088ff" stroke="#0088ff"/><path d="M296.1,518.5 305.1,527 311.9,522 303,512Z" fill="#006dff" stroke="#006dff"/><path d="M208.7,530.5 217.1,534.8 224.8,527.4 216.4,521.6Z" fill="#035aff" stroke="#035aff"/><path d="M224.8,527.4 233.4,533.6 241,525.1 232.4,517.2Z" fill="#006aff" stroke="#006aff"/><path d="M241,525.1 249.6,532.7 257.1,523.9 248.4,513.9Z" fill="#0072ff" stroke="#0072ff"/><path d="M257.1,523.9 265.9,532.1 273.1,523.8 264.4,513.2Z" fill="#0073ff" stroke="#0073ff"/><path d="M273.1,523.8 282,531.8 289.1,524.9 280.3,515.1Z" fill="#006cff" stroke="#006cff"/><path d="M289.1,524.9 298.2,532 305.1,527 296.1,518.5Z" fill="#015dff" stroke="#015dff"/><path d="M217.1,534.8 225.7,539.6 233.4,533.6 224.8,527.4Z" fill="#0b4bff" stroke="#0b4bff"/><path d="M233.4,533.6 242.1,539.7 249.6,532.7 241,525.1Z" fill="#094eff" stroke="#094eff"/><path d="M249.6,532.7 258.5,539.5 265.9,532.1 257.1,523.9Z" fill="#0850ff" stroke="#0850ff"/><path d="M265.9,532.1 274.8,538.5 282,531.8 273.1,523.8Z" fill="#0850ff" stroke="#0850ff"/><path d="M282,531.8 291.1,537.4 298.2,532 289.1,524.9Z" fill="#0a4cff" stroke="#0a4cff"/><path d="M225.7,539.6 234.4,545.3 242.1,539.7 233.4,533.6Z" fill="#133bff" stroke="#133bff"/><path d="M242.1,539.7 250.9,546.1 258.5,539.5 249.6,532.7Z" fill="#1537ff" stroke="#1537ff"/><path d="M258.5,539.5 267.4,545.6 274.8,538.5 265.9,532.1Z" fill="#1537ff" stroke="#1537ff"/><path d="M274.8,538.5 283.9,543.6 291.1,537.4 282,531.8Z" fill="#133cff" stroke="#133cff"/><path d="M234.4,545.3 243.2,551.8 250.9,546.1 242.1,539.7Z" fill="#1e27ff" stroke="#1e27ff"/><path d="M250.9,546.1 259.9,552.8 267.4,545.6 258.5,539.5Z" fill="#2121ff" stroke="#2121ff"/><path d="M267.4,545.6 276.6,550.6 283.9,543.6 274.8,538.5Z" fill="#1e27ff" stroke="#1e27ff"/><path d="M243.2,551.8 252.2,558.8 259.9,552.8 250.9,546.1Z" fill="#2b12fd" stroke="#2b12fd"/><path d="M259.9,552.8 269.1,558.3 276.6,550.6 267.4,545.6Z" fill="#2b12fd" stroke="#2b12fd"/><path d="M252.2,558.8 261.4,566.4 269.1,558.3 259.9,552.8Z" fill="#3809f1" stroke="#3809f1"/></g>
<path d="M127.9,511.1L131.4,509M129.1,504L132.1,504.4M131.4,509L134.8,506.5M132.1,504.4L135.2,504.3M134.8,506.5L138.3,503.7M135.2,504.3L138.2,504.1M138.3,503.7L141.7,500.9M138.2,504.1L141.3,503.8M141.3,503.8L144.4,503.2M246.9,539.8L250.9,542.7M250.9,542.7L254.9,545.6M254.9,545.6L258.9,548.5M258.9,548.5L263,551.4M244.2,462.5L246.8,463.2M263,551.4L267.1,553.9M246.8,463.2L249.4,463.3M267.1,553.9L271.2,556M136.7,510L140.2,507.8M138.7,495.7L141.8,496M140.2,507.8L143.7,505.4M268.5,539.5L272.6,542M272.6,542L276.6,544.4M276.6,544.4L280.8,546.5M238.2,548L241.6,545.6M241.6,545.6L245.1,543M245.1,543L248.5,540.2M359.8,500.7L363.7,502.7M249.7,556.8L253.1,554.4M233.2,463.8L236.2,463.6M253.1,554.4L256.6,551.6M236.2,463.6L239.3,462.6M256.6,551.6L260,548.5M260,548.5L263.3,545.3M263.3,545.3L266.7,542.1M266.7,542.1L270,539M356.9,496.6L359.3,497M355.4,493.8L359.2,496.7M359.3,497L361.8,497.1M359.2,496.7L363,499.2M361.8,497.1L364.3,497.1M363,499.2L366.8,501.5M364.3,497.1L366.7,496.6M366.8,501.5L370.7,503.5" class="fm"/>
<path d="M330.2,510.4 334.7,508.3 339.1,506.7 343.4,505.3 347.6,504.2 351.6,503.5 355.5,503.1 359.3,502.8 362.9,502.7 366.3,502.9 369.6,503.3 369.6,502.4 368.6,500 366.6,496.5 362.2,493.3 357.7,490.1 353,486.8 348.1,483.2 343.1,479.4 337.9,475.6 332.7,471.8 327.4,467.7 322,463.7 316.6,460 311.1,456.9 305.7,454.4 300.3,452.7 295,451.8 289.7,451.6 284.5,452 279.4,453 274.4,454.4 269.6,456.1 264.9,457.7 260.5,459.3 256.2,461 252.1,462.5 248.2,463.7 244.5,464.9 241.1,466.1 238.6,465.4 235.4,464.4 232,463.4 228.4,462.3 224.6,461 220.7,459.6 216.6,458.5 212.4,457.3 208,456.3 203.5,455.7 199,455.7 194.3,456.2 189.6,457.5 184.8,459.4 180,462.1 175.2,465.4 170.4,469.3 165.6,473.4 160.9,477.4 156.2,481.2 151.6,485 147.1,488.9 142.8,492.5 138.5,495.9 134.5,499.3 130.8,502.7 130.6,506.4 130.8,508.8 131.4,510.2 134.6,510.2 138.9,509.9 143.4,509.9 148.1,510.2 153,510.6 158,511.4 163.2,512.3 168.5,513.4 173.9,514.9 179.4,516.7 185,518.8 190.6,521.3 196.3,524 202,526.9 207.7,529.9 213.3,532.9 218.8,535.7 224.3,538.8 229.7,542.1 235.8,545.1 244.1,546.5 252.5,547.4 260.8,547.5 269.1,546.6 277.3,545 284.8,542.8 289.1,539.1 293.5,535.5 298,532.1 302.6,528.9 307.2,525.5 311.8,522 316.5,518.7 321.1,515.6 325.7,512.8Z" fill="#133cff"/>
<path d="M141.7,500.9L145,497.7M144.4,503.2L147.5,502.5M242.9,537L246.9,539.8M241.5,461.3L244.2,462.5M141.8,496L144.8,495.8M143.7,505.4L147.1,502.3M264.5,536.8L268.5,539.5M281.9,533.5L286,536M286,536L290.1,538.2M226.9,540.4L230.4,537.9M230.4,537.9L233.8,535.2M248.5,540.2L251.9,537.3M351.1,488.7L353.5,489.1M355.9,498.2L359.8,500.7M353.5,489.1L356,488.9M239.3,462.6L242.3,461.2M270,539L273.3,535.9M354.4,496L356.9,496.6M351.6,490.5L355.4,493.8" class="fm"/>
<path d="M330.2,510.4 334.7,508.3 339.1,506.7 343.3,505.3 347.5,504.3 351.5,503.5 355.4,503.1 359.1,502.8 360.5,501.7 360.6,500.1 360.3,498.4 359.4,496 358.2,492.9 356.6,489.5 352.2,486.3 347.5,482.8 342.6,479.1 337.6,475.4 332.5,471.6 327.2,467.6 321.9,463.6 316.5,460 311.1,456.9 305.7,454.4 300.3,452.7 295,451.8 289.7,451.6 284.5,452 279.5,452.9 274.5,454.3 269.8,456 265.2,457.6 260.8,459.2 256.6,460.8 252.7,462.2 248.7,463.4 242.4,464.5 236.1,464.2 231.4,463.3 228,462.1 224.3,460.8 220.5,459.6 216.4,458.4 212.3,457.2 207.9,456.3 203.5,455.7 198.9,455.7 194.3,456.2 189.6,457.5 184.8,459.4 180,462.1 175.2,465.4 170.5,469.2 165.8,473.3 161.1,477.3 156.5,480.9 152,484.7 147.6,488.5 143.4,492 140.8,495.4 140.3,498.8 140.1,501.8 140.5,504.3 141.3,506.1 142.5,507.8 144.4,509.5 148.3,510.2 153.1,510.6 158.1,511.4 163.2,512.3 168.5,513.5 173.9,514.9 179.4,516.7 185,518.8 190.6,521.2 196.2,524 201.9,526.9 207.5,529.9 213.1,532.7 219.2,535.1 227.1,536.2 235.2,537.3 243.4,538.2 251.6,538.8 259.8,538.8 268,538.2 276.1,537 284,535.6 291.7,534 298.3,531.9 302.8,528.7 307.3,525.4 311.9,521.9 316.5,518.6 321.1,515.6 325.7,512.8Z" fill="#0c49ff"/>
<path d="M145,497.7L148.3,494.2M239,534.1L242.9,537M144.8,495.8L147.8,495M260.5,533.7L264.5,536.8M145.7,510L149.2,507.3M277.9,530.3L281.9,533.5M295.1,528.4L299.2,531.3M215.9,534.2L219.4,531.1M233.8,535.2L237.3,531.8M352.5,500.1L356.4,503M251.9,537.3L255.3,533.9M352,495L355.9,498.2M273.3,535.9L276.6,532.7M351.9,495.2L354.4,496" class="fm"/>
<path d="M330.2,510.4 334.7,508.3 339.1,506.7 343.4,505.3 347.5,504.3 351.5,503.5 353.5,501.8 354.5,499.9 355,498.2 354.9,496.3 354.4,494.1 353.4,491.4 351.9,488.3 350,485.1 346.1,481.7 341.3,478 336.2,474.4 331.1,470.6 325.9,466.6 320.6,462.6 315.2,459.1 309.8,456.2 304.4,453.9 299,452.4 293.6,451.6 288.4,451.6 283.2,452.2 278.2,453.2 273.4,454.7 268.7,456.4 264.2,458 259.9,459.5 255.9,461.1 249.9,462.2 243.6,463 237.2,463 230.9,462.4 226,461.5 222.3,460.2 218.4,459 214.4,457.8 210.1,456.7 205.7,456 201.2,455.6 196.6,455.9 191.9,456.8 187.2,458.4 182.4,460.7 177.6,463.7 172.8,467.3 168.1,471.2 163.4,475.3 158.8,479.1 154.3,482.7 150,486.5 147.2,489.9 146.2,493.1 145.7,496.2 145.7,499 146.2,501.4 147.2,503.4 148.7,505.3 150.7,507.2 153.3,509.2 156.8,511.2 161.9,512.1 167.2,513.1 172.5,514.5 178,516.2 183.6,518.2 189.2,520.6 194.8,523.3 200.5,526.1 206.6,528.6 214.1,529.7 221.8,530.6 229.8,531.6 237.8,532.5 246,533.1 254.2,533.4 262.3,533.2 270.4,532.4 278.4,531.3 286.2,530 293.7,528.6 300.9,527.3 307.3,525.4 311.9,521.9 316.5,518.6 321.1,515.6 325.7,512.8Z" fill="#0556ff"/>
<path d="M148.3,494.2L151.6,490.5M147.5,502.5L150.6,501.7M231.3,528L235.1,531M235.1,531L239,534.1M238.8,459.8L241.5,461.3M147.1,502.3L150.5,498.7M147.8,495L150.9,494M256.5,530.2L260.5,533.7M255.6,459.2L258.2,460.2M148.2,488L151.2,487.2M149.2,507.3L152.7,503.9M219.4,531.1L222.9,527.4M237.3,531.8L240.7,528M225.5,461.3L228.5,460.2M255.3,533.9L258.6,530.1M348.3,491.4L352,495M348.6,487.8L351.1,488.7M242.3,461.2L245.4,459.6M276.6,532.7L279.8,529.4M349.3,494.5L351.9,495.2M347.9,487L351.6,490.5" class="fm"/>
<path d="M330.2,510.4 334.7,508.3 339.1,506.7 343.3,505.4 346.7,503.6 348.7,501.2 350.1,499.1 351,497.1 351.4,495.2 351.2,493.2 350.6,490.8 349.4,488 347.8,485 345.7,482 342.3,478.8 337.3,475.2 332.3,471.5 327.1,467.5 321.8,463.6 316.5,459.9 311.1,456.9 305.7,454.4 300.3,452.7 295,451.8 289.7,451.6 284.5,452 279.5,452.9 274.6,454.3 269.9,456 265.4,457.5 261.2,459 255.8,460.2 249.4,461.1 243,461.6 236.6,461.6 230.3,461.2 224.1,460.7 220.3,459.5 216.3,458.4 212.2,457.2 207.9,456.3 203.5,455.7 198.9,455.7 194.3,456.2 189.6,457.5 184.8,459.4 180,462.1 175.3,465.4 170.5,469.2 165.8,473.2 161.2,477.2 156.7,480.8 152.4,484.4 150.9,487.3 149.8,490.4 149.3,493.4 149.3,496.2 149.7,498.6 150.7,500.7 152.3,502.7 154.4,504.7 157,506.8 160.2,509.1 164,511.5 168.5,513.5 173.9,514.9 179.4,516.7 185,518.8 190.6,521.2 197,523.1 203.9,524.5 211.2,525.7 218.8,526.6 226.6,527.5 234.6,528.3 242.7,528.9 250.8,529.3 258.9,529.2 267,528.7 275,527.8 282.8,526.7 290.3,525.4 297.6,524.2 304.6,522.8 311.1,521.1 316.5,518.6 321.1,515.5 325.7,512.8Z" fill="#0063ff"/>
<path d="M150.6,501.7L153.8,501M227.4,525.1L231.3,528M150.5,498.7L153.8,494.7M150.9,494L154,492.8M252.6,526.5L256.5,530.2M253,457.8L255.6,459.2M151.2,487.2L154.2,486M152.7,503.9L156.1,500M273.9,526.7L277.9,530.3M155,510.9L158.5,507.3M291,524.8L295.1,528.4M304,521.1L308,524.8M205.1,528.6L208.6,524.7M345,500.3L348.9,504M348.6,496.7L352.5,500.1M343,480.3L345.5,481.2M228.5,460.2L231.5,458.6M258.6,530.1L261.9,526.2M346.1,486.8L348.6,487.8M279.8,529.4L283.1,526M283.1,526L286.2,522.8M346.8,493.8L349.3,494.5M344.2,483.4L347.9,487" class="fm"/>
<path d="M330.2,510.4 334.6,508.2 338.3,505.9 341.4,503.4 344,500.9 345.9,498.5 347.3,496.4 348.1,494.3 348.4,492.3 348.1,490.1 347.3,487.6 346,484.8 344.2,481.9 341.9,479 338.6,476.1 333.6,472.5 328.5,468.6 323.2,464.6 317.9,460.8 312.5,457.6 307.1,455 301.7,453 296.3,451.9 291,451.6 285.8,451.8 280.7,452.7 275.8,453.9 271,455.6 266.5,457.2 261.7,458.5 255.3,459.1 248.8,459.8 242.4,460.3 236,460.2 229.6,459.9 223.3,459.6 218.4,459 214.3,457.8 210.1,456.7 205.8,456 201.3,455.6 196.6,455.9 191.9,456.8 187.2,458.4 182.4,460.7 177.6,463.7 172.8,467.3 168.1,471.2 163.5,475.3 158.9,479 155.6,482.1 154,484.9 152.9,487.8 152.3,490.8 152.2,493.5 152.7,496 153.7,498.2 155.3,500.2 157.4,502.3 160.2,504.5 163.5,506.9 167.3,509.2 171.7,511.4 176.7,513.6 182.1,515.5 188,517.4 194.4,519 201.1,520.5 208.2,521.8 215.7,522.9 223.4,523.8 231.3,524.5 239.3,525.1 247.4,525.6 255.6,525.6 263.7,525.3 271.7,524.6 279.6,523.6 287.2,522.5 294.6,521.3 301.6,519.9 308.3,518.4 314.5,516.6 320.3,514.7 325.6,512.7Z" fill="#0070ff"/>
<path d="M151.6,490.5L154.9,486.8M153.8,501L157,500.3M157,500.3L160.2,499.8M223.6,522.3L227.4,525.1M236.1,458.1L238.8,459.8M248.7,522.8L252.6,526.5M269.9,522.8L273.9,526.7M158.5,507.3L161.9,503.2M287,520.9L291,524.8M164.6,512.6L168,508.4M174.3,515L177.8,510.5M312.6,514.3L316.7,518.5M184.4,518.5L187.8,514M194.6,523.2L198.1,518.8M208.6,524.7L212.1,520.3M222.9,527.4L226.3,523.3M240.7,528L244.1,523.8M344.8,492.8L348.6,496.7M340.6,479L343,480.3M261.9,526.2L265.2,522.2M343.6,485.4L346.1,486.8M344.5,487.4L348.3,491.4M245.4,459.6L248.5,457.6M286.2,522.8L289.4,519.7" class="fm"/>
<path d="M328,507.9 332.2,505.7 335.9,503.3 339,500.9 341.5,498.4 343.4,496 344.7,493.9 345.5,491.8 345.7,489.7 345.3,487.4 344.4,484.8 343,482.1 341.1,479.3 338.7,476.6 335.9,474.1 330.9,470.4 325.7,466.5 320.5,462.6 315.1,459.1 309.8,456.2 304.4,453.9 299,452.4 293.6,451.6 288.4,451.6 283.3,452.2 278.3,453.2 273.5,454.7 268.9,456.3 263.4,457.2 257,457.8 250.6,458.4 244.1,458.8 237.7,458.9 231.4,458.8 225.1,458.6 218.9,458.5 214.2,457.8 210,456.7 205.7,455.9 201.2,455.6 196.6,455.9 191.9,456.8 187.2,458.4 182.4,460.7 177.6,463.7 172.9,467.2 168.2,471.1 163.6,475.1 159.8,478.5 157.8,480.9 156.3,483.6 155.4,486.5 154.9,489.3 155,491.9 155.7,494.3 156.9,496.5 158.6,498.6 161,500.7 164,503.1 167.5,505.4 171.6,507.6 176.2,509.8 181.4,511.8 187,513.7 193.2,515.4 199.7,516.9 206.7,518.3 213.9,519.5 221.5,520.4 229.2,521.1 237.2,521.7 245.2,522.1 253.3,522.3 261.4,522.1 269.4,521.5 277.2,520.6 284.8,519.6 292.2,518.5 299.2,517.1 305.9,515.6 312.1,513.9 317.9,512.1 323.2,510Z" fill="#007dff"/>
<path d="M154.9,486.8L158.2,482.9M160.2,499.8L163.4,499.2M219.8,519.5L223.6,522.3M233.4,456L236.1,458.1M153.8,494.7L157.1,490.4M154,492.8L157.1,491.2M250.3,455.6L253,457.8M154.2,486L157.2,484.3M156.1,500L159.5,495.6M157.4,480.2L160.4,478.4M300,516.8L304,521.1M321.1,508.5L325.1,513.2M329.3,504.3L333.2,509M337.3,501.8L341.2,506M226.3,523.3L229.7,518.5M341.1,496.1L345,500.3M244.1,523.8L247.4,519.1M231.5,458.6L234.6,456.2M289.4,519.7L292.5,516.5M344.2,493.1L346.8,493.8M340.5,479.5L344.2,483.4" class="fm"/>
<path d="M326.1,505.5 330.4,503.2 334,500.9 337.1,498.5 339.6,496 341.5,493.6 342.7,491.4 343.4,489.3 343.5,487.1 343,484.8 342,482.2 340.5,479.5 338.5,476.8 335.9,474.2 333,471.9 328.3,468.5 323.1,464.5 317.8,460.8 312.5,457.6 307.1,454.9 301.7,453 296.3,451.9 291,451.6 285.8,451.8 280.8,452.6 275.9,453.9 271.2,455.5 265.3,456 258.8,456.4 252.4,456.9 245.9,457.4 239.5,457.6 233.1,457.5 226.7,457.4 220.5,457.4 214.4,457.6 210,456.7 205.7,455.9 201.2,455.6 196.6,455.9 191.9,456.8 187.2,458.4 182.4,460.7 177.6,463.7 172.9,467.2 168.2,471.1 163.8,475 161.4,477.2 159.5,479.7 158.2,482.4 157.3,485.1 157,487.9 157.3,490.4 158.1,492.7 159.5,494.9 161.5,497.1 164.1,499.4 167.3,501.7 171.1,504 175.5,506.2 180.4,508.3 185.8,510.2 191.7,512 198.1,513.6 204.8,515 212,516.2 219.4,517.2 227.1,518 235,518.6 243,519 251.1,519.2 259.2,519.1 267.2,518.6 275,517.9 282.7,517 290.1,515.9 297.2,514.6 303.9,513.1 310.2,511.4 316,509.6 321.3,507.6Z" fill="#008aff"/>
<path d="M163.4,499.2L166.7,498.7M212.4,513.7L216.1,516.6M216.1,516.6L219.8,519.5M157.1,491.2L160.2,489.2M244.8,518.8L248.7,522.8M265.9,518.3L269.9,522.8M264.6,454.6L267.2,456.9M161.9,503.2L165.3,498.2M283.1,516.2L287,520.9M168,508.4L171.5,503.4M198.1,518.8L201.6,513.6M212.1,520.3L215.5,515M217.6,458.8L220.6,456.5M341,487.9L344.8,492.8M338.1,476.8L340.6,479M265.2,522.2L268.5,517.7M341.1,483.4L343.6,485.4M340.8,482.6L344.5,487.4M248.5,457.6L251.6,455.2M292.5,516.5L295.7,513.2M341.6,492.4L344.2,493.1" class="fm"/>
<path d="M324.6,503.1 328.8,500.9 332.5,498.6 335.6,496.2 338,493.7 339.8,491.3 341,489 341.6,486.9 341.6,484.6 341.1,482.2 339.9,479.6 338.3,477 336.1,474.3 333.4,471.9 330.3,469.7 325.9,466.5 320.6,462.7 315.2,459.2 309.8,456.2 304.4,453.9 299,452.4 293.6,451.6 288.3,451.6 283.2,452.2 278.2,453.2 273.4,454.7 267.1,454.7 260.7,455 254.2,455.4 247.7,455.9 241.2,456.1 234.7,456.2 228.3,456.1 222,456.1 215.8,456.4 210.1,456.7 205.8,456 201.3,455.6 196.7,455.9 191.9,456.8 187.2,458.4 182.4,460.7 177.6,463.7 172.8,467.3 168.1,471.2 165,473.7 162.7,476 160.9,478.5 159.7,481.1 159,483.8 158.8,486.5 159.3,489 160.3,491.3 161.9,493.5 164.2,495.7 167,498.1 170.5,500.4 174.6,502.7 179.2,504.8 184.4,506.8 190.1,508.6 196.3,510.3 202.9,511.8 209.9,513.1 217.3,514.2 224.9,515.1 232.8,515.7 240.8,516.1 248.9,516.4 257,516.3 265,515.9 273,515.3 280.7,514.4 288.2,513.4 295.3,512.1 302.1,510.7 308.5,509 314.4,507.2 319.7,505.2Z" fill="#0097ff"/>
<path d="M158.2,482.9L161.4,478.6M166.7,498.7L170,498.3M208.7,511L212.4,513.7M157.1,490.4L160.4,485.2M240.9,514.3L244.8,518.8M157.2,484.3L160.2,481.8M159.5,495.6L162.8,490.1M296,511.4L300,516.8M177.8,510.5L181.2,504.8M308.7,508.9L312.6,514.3M187.8,514L191.3,508.1M333.4,496.4L337.3,501.8M337.3,490.6L341.1,496.1M332.7,471.2L335.1,473.6M247.4,519.1L250.7,513.6M268.5,517.7L271.7,512.9M295.7,513.2L298.8,509.9M339,491.7L341.6,492.4M336.9,475.3L340.5,479.5" class="fm"/>
<path d="M323.1,500.8 327.4,498.6 331,496.3 334.1,493.9 336.5,491.5 338.3,489.1 339.5,486.8 340,484.7 340,482.4 339.4,480 338.2,477.4 336.5,474.8 334.3,472.3 331.5,469.9 328.3,467.8 324.4,465.4 319.1,461.7 313.8,458.3 308.4,455.5 303,453.4 297.6,452.1 292.3,451.6 287.1,451.7 282,452.4 277.1,453.5 271.2,453.6 264.8,453.6 258.3,453.8 251.8,454.2 245.3,454.6 238.8,454.8 232.4,454.8 226.1,454.8 219.9,454.9 213.8,455.4 207.9,456.2 203.5,455.7 198.9,455.7 194.3,456.2 189.6,457.5 184.8,459.4 180,462.1 175.3,465.4 170.6,469.1 167.6,471.2 165.1,473.4 163.2,475.8 161.7,478.3 160.8,480.9 160.4,483.5 160.7,486.1 161.5,488.4 162.9,490.7 165,492.9 167.7,495.2 170.9,497.5 174.8,499.8 179.3,501.9 184.3,503.9 189.8,505.8 195.9,507.5 202.4,509 209.3,510.3 216.5,511.4 224.1,512.3 231.8,513 239.8,513.4 247.8,513.7 255.8,513.6 263.8,513.3 271.7,512.7 279.4,511.9 286.9,510.9 294,509.7 300.8,508.2 307.1,506.6 313,504.8 318.3,502.9Z" fill="#00a4ff"/>
<path d="M170,498.3L173.4,498.1M173.4,498.1L176.8,498.1M205,508.4L208.7,511M230.6,453.7L233.4,456M160.2,489.2L163.3,487M247.7,452.7L250.3,455.6M262,513.1L265.9,518.3M160.4,478.4L163.4,475.5M279.1,510.5L283.1,516.2M171.5,503.4L174.8,497.1M317.2,502.4L321.1,508.5M201.6,513.6L205,507M325.4,498.2L329.3,504.3M229.7,518.5L233.1,512.6M220.6,456.5L223.6,453.2M234.6,456.2L237.7,453.2M338.6,481.2L341.1,483.4M251.6,455.2L254.7,452.6M298.8,509.9L301.8,506.7M333.6,490.9L336.3,491.2M336.3,491.2L339,491.7" class="fm"/>
<path d="M321.8,498.5 326,496.4 329.7,494.1 332.7,491.7 335.1,489.3 336.8,486.9 338,484.7 338.5,482.5 338.4,480.2 337.8,477.8 336.5,475.3 334.8,472.7 332.5,470.3 329.7,468 326.4,466 322.8,464 317.7,460.7 312.4,457.5 307,454.9 301.7,453 296.3,451.9 291.1,451.6 285.9,451.8 280.9,452.6 275.1,452.6 268.8,452.3 262.4,452.3 255.9,452.6 249.5,453 243,453.3 236.5,453.4 230.2,453.4 223.9,453.5 217.7,453.8 211.8,454.4 206,455.5 201.2,455.6 196.6,455.9 191.9,456.8 187.2,458.4 182.4,460.7 177.7,463.6 173.4,466.6 170.2,468.7 167.5,470.9 165.4,473.1 163.7,475.5 162.6,478 162,480.6 162.1,483.2 162.7,485.6 163.9,487.8 165.8,490.1 168.2,492.4 171.3,494.7 175,496.9 179.3,499 184.2,501.1 189.5,502.9 195.4,504.7 201.8,506.2 208.6,507.5 215.7,508.7 223.2,509.6 230.9,510.3 238.7,510.8 246.7,511 254.7,511 262.7,510.7 270.5,510.2 278.2,509.4 285.6,508.4 292.7,507.2 299.5,505.9 305.8,504.3 311.7,502.5 317,500.6Z" fill="#00b1ff"/>
<path d="M161.4,478.6L164.6,474.3M176.8,498.1L180.2,498.3M180.2,498.3L183.6,498.8M183.6,498.8L187.1,499.6M187.1,499.6L190.6,500.7M190.6,500.7L194.2,502.2M194.2,502.2L197.7,503.9M197.7,503.9L201.4,506M201.4,506L205,508.4M160.4,485.2L163.6,479.8M237.1,509.9L240.9,514.3M160.2,481.8L163.3,478.9M262,451.5L264.6,454.6M165.3,498.2L168.7,492.1M166.5,472.6L169.4,469.1M292.1,505L296,511.4M304.7,502.3L308.7,508.9M215.5,515L218.9,508.4M330.3,468L332.7,471.2M337.2,482.1L341,487.9M335.6,474L338.1,476.8M271.7,512.9L274.9,508.1M337.1,477.3L340.8,482.6M301.8,506.7L304.9,503.7M304.9,503.7L307.9,501M330.9,490.8L333.6,490.9M333.3,471L336.9,475.3" class="fm"/>
<path d="M320.5,496.3 324.8,494.1 328.4,491.8 331.5,489.5 333.8,487 335.5,484.6 336.6,482.3 337,480.1 336.9,477.8 336.1,475.3 334.7,472.8 332.8,470.3 330.3,467.9 327.4,465.8 323.9,463.8 320,461.9 315.2,459.1 309.8,456.2 304.4,453.9 299,452.4 293.6,451.6 288.4,451.6 283.2,452.2 277.1,451.6 270.8,451.1 264.3,451 257.8,451.2 251.3,451.5 244.7,451.8 238.2,452 231.7,452 225.4,452.1 219.1,452.4 213,453.1 207.2,454.1 201.5,455.3 196.6,455.9 191.9,456.8 187.2,458.4 182.4,460.7 177.9,463.3 174.3,465.3 171.2,467.4 168.5,469.6 166.4,471.9 164.8,474.3 163.8,476.8 163.4,479.4 163.6,481.8 164.5,484.2 165.9,486.5 168,488.8 170.8,491.1 174.1,493.4 178.1,495.6 182.7,497.7 187.9,499.7 193.6,501.5 199.8,503.1 206.5,504.5 213.5,505.8 220.9,506.8 228.6,507.5 236.5,508.1 244.5,508.4 252.5,508.4 260.6,508.2 268.5,507.7 276.3,507 283.8,506.1 291.1,504.9 297.9,503.6 304.3,502 310.3,500.2 315.7,498.3Z" fill="#00befd"/>
<path d="M320.5,496.3 324.8,494.1 328.4,491.8 331.5,489.5 333.8,487 335.5,484.6 336.6,482.3 337,480.1 336.9,477.8 336.1,475.3 334.7,472.8 332.8,470.3 330.3,467.9 327.4,465.8 323.9,463.8 320,461.9 315.2,459.1 309.8,456.2 304.4,453.9 299,452.4 293.6,451.6 288.4,451.6 283.2,452.2 277.1,451.6 270.8,451.1 264.3,451 257.8,451.2 251.3,451.5 244.7,451.8 238.2,452 231.7,452 225.4,452.1 219.1,452.4 213,453.1 207.2,454.1 201.5,455.3 196.6,455.9 191.9,456.8 187.2,458.4 182.4,460.7 177.9,463.3 174.3,465.3 171.2,467.4 168.5,469.6 166.4,471.9 164.8,474.3 163.8,476.8 163.4,479.4 163.6,481.8 164.5,484.2 165.9,486.5 168,488.8 170.8,491.1 174.1,493.4 178.1,495.6 182.7,497.7 187.9,499.7 193.6,501.5 199.8,503.1 206.5,504.5 213.5,505.8 220.9,506.8 228.6,507.5 236.5,508.1 244.5,508.4 252.5,508.4 260.6,508.2 268.5,507.7 276.3,507 283.8,506.1 291.1,504.9 297.9,503.6 304.3,502 310.3,500.2 315.7,498.3Z" fill="none" stroke="#333" stroke-opacity="0.45" stroke-width="0.7"/>
<path d="M227.8,451.4L230.6,453.7M163.3,487L166.5,484.9M233.3,505.5L237.1,509.9M244.9,449.6L247.7,452.7M162.8,490.1L166.1,484M258.1,507.5L262,513.1M163.4,475.5L166.4,472M273.8,450.1L276.4,453.7M181.2,504.8L184.6,497.9M191.3,508.1L194.6,501.1M329.5,489.9L333.4,496.4M322.5,462.2L325,465.9M209.5,456.6L212.5,452.9M233.1,512.6L236.4,506.1M333.5,484.4L337.3,490.6M250.7,513.6L254,507.7M237.7,453.2L240.8,449.8M336,479L338.6,481.2M254.7,452.6L257.9,450M307.9,501L310.9,498.6M310.9,498.6L313.8,496.5M325.3,491.5L328.1,491M328.1,491L330.9,490.8" class="fm"/>
<path d="M319.3,494 323.6,491.9 327.2,489.6 330.2,487.3 332.5,484.9 334.2,482.5 335.2,480.2 335.6,477.9 335.4,475.6 334.5,473.2 333.1,470.7 331.1,468.3 328.6,466 325.6,463.9 322.1,461.9 318.1,460 313.8,458.3 308.4,455.5 303,453.4 297.6,452.1 292.3,451.6 287.1,451.7 281,450.8 274.8,450.1 268.4,449.8 262,449.7 255.4,449.9 248.9,450.2 242.4,450.5 235.9,450.6 229.4,450.7 223.1,450.9 217,451.4 211,452.2 205.2,453.3 199.7,454.6 194.5,456 189.6,457.5 185,459.2 180.8,461 177,462.9 173.7,464.9 170.9,467.1 168.6,469.3 166.8,471.6 165.6,474 164.9,476.5 164.9,479 165.5,481.4 166.8,483.7 168.7,486 171.2,488.3 174.4,490.6 178.2,492.8 182.6,494.9 187.6,496.9 193.2,498.7 199.3,500.3 205.8,501.8 212.7,503 220,504.1 227.6,504.9 235.4,505.5 243.4,505.8 251.4,505.9 259.4,505.7 267.3,505.3 275.1,504.6 282.6,503.7 289.8,502.6 296.7,501.2 303.1,499.7 309.1,497.9 314.5,496.1Z" fill="#00c9f9"/>
<path d="M164.6,474.3L167.8,470.2M225,449.2L227.8,451.4M259.4,448L262,451.5M275.2,504.3L279.1,510.5M174.8,497.1L178.2,490.1M313.3,495.5L317.2,502.4M321.5,491.3L325.4,498.2M223.6,453.2L226.7,449.6M333.1,471L335.6,474M274.9,508.1L278.1,503.3M333.4,471.8L337.1,477.3M313.8,496.5L316.7,494.7M316.7,494.7L319.6,493.3M319.6,493.3L322.5,492.2M322.5,492.2L325.3,491.5M329.7,466.7L333.3,471" class="fm"/>
<path d="M318.1,491.8 322.4,489.7 326,487.4 328.9,485.1 331.3,482.8 332.9,480.4 333.9,478.1 334.3,475.8 334,473.5 333.1,471.1 331.6,468.6 329.5,466.2 326.9,464 323.9,462 320.3,460 316.3,458.2 311.8,456.5 307,454.9 301.7,453 296.3,451.9 290.8,451.1 284.8,450.1 278.7,449.3 272.5,448.7 266.1,448.4 259.6,448.4 253.1,448.7 246.5,448.9 240,449.1 233.5,449.2 227.2,449.4 220.9,449.7 214.8,450.4 209,451.4 203.3,452.5 197.9,453.9 192.9,455.3 188.1,456.9 183.8,458.6 179.8,460.5 176.3,462.5 173.3,464.5 170.7,466.7 168.7,468.9 167.3,471.3 166.5,473.7 166.2,476.2 166.6,478.6 167.6,480.9 169.3,483.2 171.7,485.5 174.6,487.8 178.3,490 182.5,492.1 187.4,494.1 192.8,495.9 198.7,497.6 205.1,499.1 212,500.4 219.2,501.4 226.7,502.3 234.4,502.9 242.3,503.2 250.3,503.4 258.3,503.2 266.2,502.8 273.9,502.2 281.5,501.3 288.7,500.2 295.5,498.9 302,497.4 307.9,495.7 313.3,493.8Z" fill="#00d4f4"/>
<path d="M167.8,470.2L170.9,466.1M163.6,479.8L166.9,474.2M166.5,484.9L169.7,482.9M229.5,501.2L233.3,505.5M163.3,478.9L166.4,475.7M254.3,501.9L258.1,507.5M168.7,492.1L172,485.4M169.4,469.1L172.4,465M288.1,498L292.1,505M175.4,465.3L178.3,461M205,507L208.3,499.7M201.2,455.6L204.2,451.2M218.9,508.4L222.3,501.3M327.8,464.4L330.3,468M254,507.7L257.3,501.7M333.5,476L337.2,482.1M333.5,476.9L336,479M257.9,450L261.1,447.5" class="fm"/>
<path d="M317,489.6 321.3,487.5 324.9,485.3 327.8,483 330.1,480.6 331.7,478.3 332.7,475.9 333,473.7 332.6,471.3 331.7,468.9 330.1,466.6 328,464.2 325.3,462.1 322.2,460.1 318.5,458.2 314.4,456.4 309.9,454.7 305.1,453.2 299.9,451.8 294.4,450.6 288.6,449.5 282.6,448.6 276.5,447.8 270.1,447.3 263.7,447.1 257.2,447.1 250.7,447.4 244.2,447.6 237.7,447.8 231.2,447.9 224.9,448.2 218.7,448.6 212.7,449.5 207,450.5 201.4,451.8 196.2,453.2 191.3,454.7 186.7,456.3 182.6,458.1 178.9,460 175.6,462 172.9,464.1 170.7,466.3 169,468.6 168,470.9 167.5,473.4 167.7,475.8 168.5,478.1 170,480.4 172.1,482.8 174.9,485 178.3,487.3 182.4,489.4 187.1,491.4 192.3,493.2 198.1,494.9 204.4,496.4 211.2,497.7 218.3,498.8 225.7,499.7 233.4,500.3 241.3,500.7 249.2,500.9 257.2,500.8 265.1,500.4 272.8,499.8 280.3,499 287.6,497.9 294.4,496.6 300.8,495.1 306.8,493.4 312.2,491.6Z" fill="#00dff0"/>
<path d="M222.2,447.1L225,449.2M169.7,482.9L172.9,481M242.2,446.2L244.9,449.6M166.1,484L169.3,477.6M166.4,472L169.4,468.1M271.3,497.5L275.2,504.3M184.6,497.9L187.9,490.2M300.9,495.1L304.7,502.3M194.6,501.1L198,493.4M325.7,482.7L329.5,489.9M212.5,452.9L215.5,448.6M236.4,506.1L239.7,499.2M329.7,477.5L333.5,484.4M240.8,449.8L243.9,446.2M278.1,503.3L281.3,498.6M326.1,462.6L329.7,466.7" class="fm"/>
<path d="M316,487.4 320.3,485.3 323.9,483.1 326.8,480.8 329.1,478.4 330.6,476 331.5,473.6 331.7,471.3 331.3,469 330.1,466.6 328.4,464.2 326.1,461.9 323.3,459.8 319.9,457.8 316,455.9 311.7,454.2 307,452.6 301.9,451.1 296.4,449.8 290.7,448.6 284.7,447.6 278.6,446.8 272.2,446.1 265.7,445.8 259.1,445.7 252.5,445.9 245.9,446.1 239.3,446.3 232.7,446.5 226.3,446.7 220,447.2 213.9,448 208,449.1 202.4,450.3 197.1,451.7 192.1,453.2 187.5,454.9 183.3,456.7 179.6,458.6 176.4,460.7 173.7,462.8 171.5,465 170,467.3 169,469.7 168.7,472.1 169.1,474.5 170.1,476.9 171.8,479.2 174.2,481.6 177.3,483.8 181.1,486 185.5,488.1 190.5,490 196.1,491.8 202.3,493.4 208.9,494.8 216,496 223.4,497 231.1,497.7 239,498.2 247,498.4 255.1,498.4 263.1,498.1 270.9,497.5 278.6,496.7 286,495.7 293,494.4 299.5,492.9 305.6,491.2 311.1,489.4Z" fill="#00eaeb"/>
<path d="M170.9,466.1L174.1,462M225.7,496.9L229.5,501.2M166.4,475.7L169.5,472.2M271.3,445.9L273.8,450.1M283.3,447.3L285.8,451.8M184.1,459.8L187.1,454.9M309.4,487.6L313.3,495.5M192.7,456.6L195.7,451.6M312.5,454.4L315,459M320.1,457.8L322.5,462.2M226.7,449.6L229.7,445.2M330.6,467.6L333.1,471M281.3,498.6L284.5,493.8M330.9,474.8L333.5,476.9M329.8,466.1L333.4,471.8M261.1,447.5L264.4,445M322.5,458.5L326.1,462.6" class="fm"/>
<path d="M315,485.2 319.3,483.1 322.9,480.9 325.8,478.6 328,476.3 329.6,473.9 330.4,471.5 330.5,469.2 330,466.9 328.8,464.5 327,462.2 324.7,460 321.7,457.9 318.2,455.9 314.3,454.1 309.9,452.3 305.1,450.8 299.9,449.3 294.4,448.1 288.6,446.9 282.5,446 276.3,445.2 269.9,444.6 263.4,444.4 256.8,444.4 250.1,444.5 243.5,444.7 236.9,444.9 230.4,445.2 224,445.5 217.8,446.2 211.7,447.1 206,448.3 200.5,449.6 195.3,451 190.5,452.6 186.1,454.3 182.2,456.2 178.7,458.2 175.8,460.2 173.4,462.4 171.6,464.7 170.5,467 169.9,469.4 170,471.8 170.8,474.1 172.3,476.5 174.5,478.8 177.4,481.1 181,483.3 185.2,485.4 190.1,487.3 195.5,489.1 201.5,490.8 208.1,492.2 215,493.4 222.4,494.5 230,495.2 237.9,495.7 245.9,496 253.9,496 262,495.7 269.8,495.2 277.5,494.4 284.9,493.4 291.9,492.1 298.5,490.7 304.6,489 310.1,487.2Z" fill="#00eac6"/>
<path d="M219.3,445.1L222.2,447.1M166.9,474.2L170.1,468.4M172.9,481L176.2,479.1M222,492.8L225.7,496.9M250.4,495.8L254.3,501.9M256.7,443.8L259.4,448M172,485.4L175.3,477.9M172.4,465L175.4,460.1M178.2,490.1L181.5,482.1M178.3,461L181.3,455.6M292.9,446.6L295.4,451.8M302.6,448.9L305.1,454.2M208.3,499.7L211.7,491.4M317.7,483.4L321.5,491.3M222.3,501.3L225.6,493.3M325.3,460.1L327.8,464.4M257.3,501.7L260.6,495.3M329.8,469.2L333.5,476M328.2,472.8L330.9,474.8" class="fm"/>
<path d="M314,483.1 318.3,481 321.9,478.8 324.8,476.5 327,474.2 328.5,471.8 329.3,469.4 329.4,467.1 328.8,464.8 327.6,462.4 325.7,460.2 323.2,458 320.2,455.9 316.6,454 312.6,452.2 308.1,450.5 303.2,449 297.9,447.6 292.3,446.3 286.4,445.3 280.3,444.4 274,443.7 267.6,443.1 261,443 254.4,443 247.7,443.2 241.1,443.4 234.5,443.6 228,443.9 221.7,444.4 215.5,445.2 209.6,446.2 203.9,447.4 198.6,448.8 193.6,450.3 189,452 184.9,453.8 181.2,455.7 178,457.7 175.4,459.8 173.3,462 171.9,464.3 171.1,466.7 171,469 171.6,471.4 172.9,473.7 174.8,476.1 177.5,478.4 180.9,480.6 184.9,482.7 189.6,484.7 194.9,486.5 200.8,488.1 207.2,489.6 214.1,490.9 221.4,491.9 229,492.7 236.8,493.3 244.8,493.6 252.8,493.6 260.9,493.4 268.7,492.9 276.4,492.1 283.8,491.1 290.9,489.9 297.5,488.5 303.6,486.9 309.1,485Z" fill="#00e99f"/>
<path d="M174.1,462L177.2,458M176.2,479.1L179.5,477.5M239.5,442.5L242.2,446.2M169.3,477.6L172.6,470.5M169.4,468.1L172.4,463.5M284.3,490.1L288.1,498M297,486.7L300.9,495.1M204.2,451.2L207.2,445.7M215.5,448.6L218.5,443.5M239.7,499.2L243.1,491.5M328.1,463.8L330.6,467.6M243.9,446.2L247.1,442.1M284.5,493.8L287.6,489.1M264.4,445L267.6,442.5M319,454.3L322.5,458.5" class="fm"/>
<path d="M313.1,480.9 317.4,478.9 321,476.7 323.9,474.4 326.1,472.1 327.6,469.7 328.3,467.4 328.3,465 327.7,462.7 326.4,460.4 324.4,458.2 321.8,456 318.7,454 315.1,452.1 310.9,450.3 306.3,448.7 301.3,447.2 296,445.8 290.3,444.6 284.3,443.6 278.1,442.8 271.8,442.1 265.2,441.7 258.6,441.6 252,441.6 245.3,441.8 238.6,442 232.1,442.3 225.6,442.6 219.4,443.3 213.3,444.2 207.5,445.3 201.9,446.6 196.8,448.1 192,449.6 187.6,451.4 183.7,453.2 180.3,455.2 177.4,457.3 175.1,459.4 173.4,461.7 172.4,464 172,466.3 172.4,468.7 173.4,471 175.1,473.4 177.6,475.6 180.8,477.9 184.6,480 189.2,482 194.3,483.8 200.1,485.5 206.4,487 213.2,488.3 220.4,489.4 227.9,490.3 235.7,490.9 243.7,491.2 251.7,491.2 259.8,491 267.7,490.6 275.4,489.9 282.8,488.9 289.9,487.7 296.5,486.3 302.6,484.7 308.2,482.9Z" fill="#00e877"/>
<path d="M177.2,458L180.3,454.2M216.4,443.3L219.3,445.1M170.1,468.4L173.2,462.4M218.3,488.8L222,492.8M169.5,472.2L172.6,468.4M246.6,489.5L250.4,495.8M267.4,490.1L271.3,497.5M268.6,440.7L271.3,445.9M187.9,490.2L191.3,481.3M198,493.4L201.3,484.4M322,474.4L325.7,482.7M317.6,452.3L320.1,457.8M326,469.6L329.7,477.5M325.6,470.9L328.2,472.8M326.2,460L329.8,466.1" class="fm"/>
<path d="M312.3,478.8 316.5,476.8 320.1,474.6 322.9,472.4 325.1,470.1 326.5,467.8 327.3,465.5 327.3,463.2 326.7,460.9 325.4,458.7 323.5,456.5 320.9,454.4 317.9,452.4 314.3,450.5 310.2,448.8 305.6,447.2 300.7,445.7 295.4,444.4 289.8,443.2 283.9,442.2 277.8,441.4 271.5,440.7 265.1,440.3 258.5,440.1 251.9,440.2 245.3,440.4 238.8,440.6 232.3,440.8 225.9,441.2 219.7,441.9 213.7,442.8 208,443.9 202.5,445.2 197.4,446.6 192.7,448.1 188.3,449.8 184.5,451.6 181.1,453.6 178.3,455.6 176,457.7 174.4,459.9 173.4,462.2 173,464.5 173.4,466.8 174.4,469.1 176.1,471.4 178.6,473.6 181.7,475.8 185.5,477.9 190,479.8 195.1,481.7 200.8,483.3 207,484.8 213.7,486.1 220.8,487.1 228.2,487.9 235.9,488.5 243.8,488.8 251.7,488.9 259.6,488.7 267.4,488.3 275,487.6 282.4,486.6 289.3,485.4 295.9,484.1 301.9,482.5 307.4,480.7Z" fill="#00e750"/>
<path d="M213.5,441.7L216.4,443.3M179.5,477.5L182.9,476M214.6,485.2L218.3,488.8M254,438.9L256.7,443.8M280.7,441.7L283.3,447.3M187.1,454.9L190,448.7M195.7,451.6L198.7,445.4M310.1,448.6L312.5,454.4M229.7,445.2L232.8,440.1M260.6,495.3L263.8,488.5M287.6,489.1L290.7,484.7M267.6,442.5L270.9,440.2M315.5,450.3L319,454.3" class="fm"/>
<path d="M311.5,476.7 315.7,474.7 319.3,472.5 322.1,470.3 324.2,468.1 325.7,465.8 326.3,463.4 326.3,461.1 325.6,458.9 324.2,456.6 322.2,454.5 319.6,452.4 316.4,450.5 312.7,448.6 308.6,446.9 303.9,445.3 298.9,443.9 293.5,442.6 287.8,441.5 281.8,440.5 275.6,439.8 269.2,439.2 262.7,438.8 256.2,438.7 249.5,438.8 242.9,439 236.4,439.2 229.9,439.5 223.6,440 217.4,440.8 211.5,441.8 205.9,443 200.6,444.3 195.6,445.8 191.1,447.4 187,449.2 183.4,451.1 180.3,453.1 177.8,455.1 175.9,457.3 174.7,459.5 174.1,461.8 174.1,464.1 174.9,466.4 176.4,468.7 178.6,470.9 181.6,473.1 185.2,475.2 189.5,477.2 194.5,479 200,480.7 206.1,482.2 212.8,483.6 219.8,484.7 227.2,485.5 234.9,486.1 242.7,486.5 250.6,486.6 258.6,486.4 266.4,486 274,485.3 281.4,484.4 288.4,483.3 295,481.9 301.1,480.3 306.6,478.6Z" fill="#08e638"/>
<path d="M311.5,476.7 315.7,474.7 319.3,472.5 322.1,470.3 324.2,468.1 325.7,465.8 326.3,463.4 326.3,461.1 325.6,458.9 324.2,456.6 322.2,454.5 319.6,452.4 316.4,450.5 312.7,448.6 308.6,446.9 303.9,445.3 298.9,443.9 293.5,442.6 287.8,441.5 281.8,440.5 275.6,439.8 269.2,439.2 262.7,438.8 256.2,438.7 249.5,438.8 242.9,439 236.4,439.2 229.9,439.5 223.6,440 217.4,440.8 211.5,441.8 205.9,443 200.6,444.3 195.6,445.8 191.1,447.4 187,449.2 183.4,451.1 180.3,453.1 177.8,455.1 175.9,457.3 174.7,459.5 174.1,461.8 174.1,464.1 174.9,466.4 176.4,468.7 178.6,470.9 181.6,473.1 185.2,475.2 189.5,477.2 194.5,479 200,480.7 206.1,482.2 212.8,483.6 219.8,484.7 227.2,485.5 234.9,486.1 242.7,486.5 250.6,486.6 258.6,486.4 266.4,486 274,485.3 281.4,484.4 288.4,483.3 295,481.9 301.1,480.3 306.6,478.6Z" fill="none" stroke="#333" stroke-opacity="0.45" stroke-width="0.7"/>
<path d="M180.3,454.2L183.4,450.6M182.9,476L186.2,474.9M210.9,482L214.6,485.2M236.7,438.4L239.5,442.5M175.3,477.9L178.5,469.4M175.4,460.1L178.4,454.1M181.5,482.1L184.7,472.9M305.6,478.3L309.4,487.6M211.7,491.4L215,481.8M313.9,474.2L317.7,483.4M225.6,493.3L228.9,484.2M322.9,455L325.3,460.1M325.6,459.6L328.1,463.8M326.2,461.7L329.8,469.2M247.1,442.1L250.3,437.6M290.7,484.7L293.8,480.5M322.8,469.2L325.6,470.9" class="fm"/>
<path d="M310.7,474.6 314.9,472.6 318.5,470.5 321.3,468.2 323.4,466 324.8,463.7 325.4,461.4 325.4,459.1 324.6,456.8 323.1,454.6 321,452.5 318.3,450.4 315,448.5 311.2,446.7 306.9,445 302.2,443.5 297,442.1 291.5,440.8 285.7,439.8 279.7,438.9 273.4,438.1 267,437.6 260.4,437.3 253.8,437.3 247.1,437.4 240.5,437.6 234,437.9 227.5,438.3 221.2,438.9 215.2,439.8 209.4,440.9 203.8,442.2 198.7,443.6 193.9,445.1 189.6,446.8 185.7,448.6 182.4,450.5 179.7,452.6 177.5,454.7 176,456.9 175.1,459.1 174.9,461.4 175.5,463.7 176.8,466 178.7,468.2 181.5,470.4 184.9,472.6 189,474.6 193.8,476.4 199.3,478.2 205.3,479.7 211.8,481.1 218.8,482.2 226.1,483.1 233.8,483.7 241.6,484.1 249.5,484.3 257.5,484.2 265.3,483.8 273,483.1 280.4,482.2 287.5,481.1 294.1,479.7 300.2,478.2 305.8,476.5Z" fill="#17e730"/>
<path d="M183.4,450.6L186.5,447.3M210.6,440.3L213.5,441.7M173.2,462.4L176.4,456M186.2,474.9L189.6,474.2M189.6,474.2L193.1,474M207.3,479.2L210.9,482M172.6,470.5L175.8,462.6M172.6,468.4L175.7,464.3M242.8,482.8L246.6,489.5M172.4,463.5L175.5,458.1M263.6,481.8L267.4,490.1M280.4,481L284.3,490.1M181.3,455.6L184.3,449M290.4,440L292.9,446.6M300.2,442.3L302.6,448.9M243.1,491.5L246.4,482.9M320.1,467.8L322.8,469.2M322.6,453.6L326.2,460M270.9,440.2L274.2,438.1M312,446.5L315.5,450.3" class="fm"/>
<path d="M310,472.5 314.2,470.5 317.8,468.4 320.6,466.2 322.7,463.9 324,461.6 324.6,459.3 324.5,457 323.6,454.8 322.1,452.6 319.9,450.5 317.1,448.5 313.7,446.5 309.7,444.8 305.3,443.1 300.5,441.6 295.2,440.2 289.6,439 283.7,438 277.6,437.2 271.2,436.5 264.7,436 258.1,435.8 251.4,435.9 244.7,436 238.1,436.2 231.5,436.5 225.1,437.1 218.9,437.8 212.9,438.8 207.2,440 201.8,441.3 196.8,442.8 192.3,444.4 188.2,446.1 184.6,448 181.6,450 179.1,452.1 177.3,454.3 176.2,456.5 175.8,458.7 176.1,461 177.1,463.3 178.9,465.6 181.4,467.8 184.6,469.9 188.6,471.9 193.2,473.9 198.5,475.6 204.4,477.2 210.8,478.6 217.7,479.8 225,480.7 232.6,481.4 240.5,481.8 248.4,482 256.4,481.9 264.3,481.5 272,480.9 279.5,480.1 286.6,479 293.3,477.6 299.4,476.1 305,474.4Z" fill="#27e829"/>
<path d="M186.5,447.3L189.5,444.3M207.6,439.2L210.6,440.3M193.1,474L196.6,474.3M196.6,474.3L200.1,475.3M200.1,475.3L203.7,476.9M203.7,476.9L207.3,479.2M293.2,476.9L297,486.7M207.2,445.7L210.2,438.8M218.5,443.5L221.6,437M263.8,488.5L267.1,481.3M293.8,480.5L296.9,476.6M317.3,466.7L320.1,467.8M274.2,438.1L277.6,436.1" class="fm"/>
<path d="M309.3,470.4 313.6,468.4 317.1,466.3 319.9,464.1 322,461.9 323.3,459.6 323.8,457.3 323.6,455 322.7,452.8 321,450.6 318.7,448.5 315.8,446.5 312.3,444.6 308.3,442.8 303.7,441.2 298.8,439.7 293.4,438.4 287.7,437.3 281.7,436.3 275.4,435.5 269,434.9 262.4,434.5 255.7,434.4 249,434.4 242.2,434.6 235.6,434.8 229.1,435.3 222.7,435.9 216.5,436.8 210.6,437.8 205,439.1 199.8,440.5 195,442 190.7,443.7 186.8,445.5 183.5,447.5 180.8,449.5 178.8,451.6 177.4,453.8 176.7,456.1 176.7,458.4 177.4,460.6 179,462.9 181.2,465.1 184.3,467.3 188.1,469.3 192.5,471.3 197.7,473.1 203.5,474.7 209.8,476.1 216.7,477.3 223.9,478.3 231.5,479 239.4,479.5 247.3,479.7 255.3,479.7 263.3,479.4 271.1,478.8 278.6,477.9 285.8,476.8 292.5,475.5 298.7,474 304.3,472.3Z" fill="#36e821"/>
<path d="M189.5,444.3L192.6,441.9M204.7,438.5L207.6,439.2M233.9,433.7L236.7,438.4M251.3,432.8L254,438.9M266,434.1L268.6,440.7M191.3,481.3L194.5,470.6M201.3,484.4L204.6,473.5M318.3,464.3L322,474.4M315.2,445.4L317.6,452.3M322.4,460.3L326,469.6M232.8,440.1L236,433.8M296.9,476.6L299.9,473.2M314.5,466L317.3,466.7M308.5,442.8L312,446.5" class="fm"/>
<path d="M308.6,468.4 312.9,466.4 316.4,464.3 319.2,462.2 321.3,459.9 322.5,457.7 323.1,455.4 322.9,453.2 321.9,451 320.3,448.9 318.1,446.8 315.2,444.8 311.7,443 307.7,441.2 303.2,439.6 298.3,438.2 293,436.9 287.3,435.8 281.4,434.8 275.2,434 268.8,433.4 262.2,433 255.6,432.9 249,432.9 242.3,433.1 235.7,433.4 229.3,433.8 222.9,434.4 216.8,435.3 211,436.3 205.5,437.6 200.3,438.9 195.5,440.4 191.2,442.1 187.4,443.9 184.2,445.8 181.5,447.8 179.5,449.9 178.1,452.1 177.4,454.3 177.4,456.5 178.2,458.8 179.7,461 182,463.2 185,465.3 188.7,467.3 193.2,469.2 198.3,471 204,472.5 210.3,473.9 217,475.1 224.2,476.1 231.7,476.8 239.5,477.3 247.4,477.5 255.3,477.4 263.1,477.1 270.8,476.5 278.3,475.7 285.4,474.7 292,473.4 298.2,471.9 303.7,470.2Z" fill="#46e919"/>
<path d="M192.6,441.9L195.6,440.1M195.6,440.1L198.6,438.9M198.6,438.9L201.7,438.4M201.7,438.4L204.7,438.5M175.7,464.3L178.9,459.5M239,475.5L242.8,482.8M278.1,434.4L280.7,441.7M190,448.7L193,440.6M307.6,441.1L310.1,448.6M320.4,448.6L322.9,455M323,454.7L325.6,459.6M322.6,452.9L326.2,461.7M250.3,437.6L253.5,432.4M299.9,473.2L302.9,470.3M302.9,470.3L305.9,468.1M305.9,468.1L308.8,466.7M308.8,466.7L311.7,466M311.7,466L314.5,466M277.6,436.1L280.9,434.4M305,439.5L308.5,442.8" class="fm"/>
<path d="M308,466.3 312.3,464.3 315.8,462.3 318.6,460.1 320.6,457.9 321.9,455.6 322.4,453.4 322.1,451.2 321.1,449 319.4,446.8 317,444.8 314,442.8 310.4,441 306.3,439.3 301.7,437.7 296.6,436.3 291.2,435.1 285.4,434 279.3,433.1 273,432.3 266.5,431.8 259.9,431.5 253.2,431.4 246.5,431.5 239.9,431.7 233.3,432 226.8,432.5 220.5,433.3 214.5,434.2 208.8,435.4 203.4,436.7 198.4,438.1 193.8,439.7 189.7,441.4 186.2,443.3 183.2,445.2 180.9,447.3 179.3,449.4 178.3,451.6 178.1,453.9 178.6,456.1 179.8,458.3 181.9,460.5 184.7,462.6 188.2,464.7 192.5,466.6 197.4,468.4 203,470.1 209.2,471.5 215.9,472.7 223.1,473.7 230.6,474.5 238.3,475 246.3,475.3 254.2,475.2 262.1,475 269.9,474.4 277.4,473.6 284.6,472.6 291.3,471.3 297.5,469.8 303.1,468.1Z" fill="#55ea11"/>
<path d="M176.4,456L179.5,448.9M175.8,462.6L178.9,453.3M175.5,458.1L178.5,451.2M178.5,469.4L181.7,459M178.4,454.1L181.4,446.2M301.8,466.6L305.6,478.3M198.7,445.4L201.7,437.1M228.9,484.2L232.2,473.1M267.1,481.3L270.3,473.2M319.1,446.5L322.6,453.6M280.9,434.4L284.3,433.1M301.5,436.7L305,439.5" class="fm"/>
<path d="M307.5,464.2 311.7,462.3 315.3,460.2 318.1,458.1 320.1,455.8 321.3,453.6 321.7,451.3 321.3,449.1 320.2,446.9 318.4,444.8 315.9,442.8 312.8,440.8 309.1,439 304.8,437.3 300.1,435.8 294.9,434.4 289.3,433.2 283.4,432.2 277.2,431.3 270.8,430.7 264.3,430.2 257.6,429.9 250.8,429.9 244.1,430 237.4,430.3 230.8,430.7 224.3,431.3 218.1,432.2 212.2,433.2 206.5,434.4 201.3,435.8 196.5,437.3 192.1,439 188.3,440.8 185.1,442.7 182.5,444.7 180.5,446.8 179.3,449 178.8,451.2 179,453.4 180,455.7 181.8,457.9 184.4,460 187.7,462.1 191.8,464.1 196.6,465.9 202.1,467.6 208.2,469.1 214.8,470.3 221.9,471.4 229.4,472.2 237.2,472.8 245.1,473 253.1,473.1 261.1,472.8 268.9,472.3 276.5,471.5 283.7,470.5 290.5,469.2 296.8,467.7 302.5,466.1Z" fill="#65ea0a"/>
<path d="M259.8,471.9L263.6,481.8M184.7,472.9L188,461.3M276.6,469.8L280.4,481M215,481.8L218.3,469.7M310.2,462.4L313.9,474.2M246.4,482.9L249.6,472.6M284.3,433.1L287.7,432.4M287.7,432.4L291.1,432.4M291.1,432.4L294.6,433.1M294.6,433.1L298,434.5M298,434.5L301.5,436.7" class="fm"/>
<path d="M306.9,462.2 311.1,460.3 314.7,458.2 317.4,456.1 319.4,453.9 320.6,451.7 321,449.5 320.6,447.3 319.6,445.2 317.8,443.1 315.3,441.1 312.2,439.2 308.6,437.4 304.4,435.7 299.7,434.2 294.5,432.9 289,431.7 283.1,430.7 277,429.8 270.7,429.2 264.1,428.7 257.5,428.4 250.8,428.4 244.1,428.5 237.5,428.8 230.9,429.2 224.6,429.8 218.4,430.7 212.5,431.7 206.9,432.9 201.7,434.2 196.9,435.7 192.6,437.3 188.9,439.1 185.7,441 183.1,443 181.2,445.1 179.9,447.2 179.4,449.4 179.7,451.6 180.7,453.8 182.5,455.9 185,458.1 188.3,460.1 192.4,462 197.2,463.8 202.6,465.5 208.6,466.9 215.2,468.2 222.2,469.2 229.6,470 237.3,470.6 245.2,470.8 253.1,470.9 261,470.6 268.8,470.1 276.3,469.3 283.4,468.3 290.1,467.1 296.3,465.6 301.9,464Z" fill="#74eb02"/>
<path d="M231,428.6L233.9,433.7M178.9,459.5L182.1,454.4M184.3,449L187.2,440M287.8,430.9L290.4,440M297.7,433.1L300.2,442.3M221.6,437L224.7,428.5M320.4,449.3L323,454.7" class="fm"/>
<path d="M306.3,460.2 310.6,458.2 314.1,456.2 316.9,454.1 318.8,451.9 320,449.7 320.3,447.5 319.9,445.3 318.7,443.1 316.8,441.1 314.3,439.1 311.1,437.2 307.3,435.4 302.9,433.8 298.1,432.3 292.8,431 287.1,429.9 281.2,428.9 274.9,428.1 268.4,427.5 261.8,427.1 255.1,426.9 248.4,426.9 241.6,427.1 235,427.4 228.4,427.9 222.1,428.6 216,429.6 210.2,430.7 204.8,431.9 199.7,433.3 195.2,434.9 191.1,436.6 187.6,438.5 184.7,440.4 182.5,442.5 181,444.6 180.2,446.7 180.1,448.9 180.9,451.1 182.4,453.3 184.7,455.4 187.9,457.5 191.7,459.5 196.3,461.3 201.7,463 207.6,464.5 214.1,465.8 221.1,466.9 228.5,467.7 236.2,468.3 244.1,468.6 252,468.7 260,468.5 267.8,468 275.4,467.2 282.6,466.2 289.4,465 295.7,463.6 301.3,461.9Z" fill="#88ec00"/>
<path d="M179.5,448.9L182.6,441.5M235.2,468L239,475.5M248.6,425.4L251.3,432.8M289.4,464.4L293.2,476.9M210.2,438.8L213.2,429.4M236,433.8L239.1,426.1M253.5,432.4L256.7,426.7M315.5,438.9L319.1,446.5" class="fm"/>
<path d="M305.8,458.1 310,456.2 313.5,454.2 316.3,452.1 318.2,450 319.3,447.8 319.7,445.6 319.3,443.5 318.1,441.4 316.2,439.3 313.7,437.4 310.5,435.5 306.8,433.8 302.4,432.2 297.7,430.7 292.4,429.4 286.8,428.3 280.9,427.4 274.7,426.6 268.3,426 261.7,425.6 255.1,425.4 248.4,425.4 241.7,425.6 235.1,425.9 228.6,426.4 222.3,427.1 216.3,428 210.5,429.1 205.2,430.4 200.2,431.8 195.6,433.3 191.6,435 188.2,436.8 185.3,438.7 183.1,440.7 181.6,442.8 180.8,444.9 180.8,447.1 181.5,449.2 183.1,451.4 185.4,453.5 188.5,455.5 192.3,457.5 196.9,459.3 202.1,460.9 208,462.4 214.5,463.7 221.4,464.7 228.7,465.5 236.3,466.1 244.1,466.4 252,466.5 259.9,466.3 267.6,465.8 275.1,465.1 282.3,464.1 289,462.9 295.2,461.5 300.8,459.9Z" fill="#9ded00"/>
<path d="M263.4,425.6L266,434.1M314.6,451.7L318.3,464.3M312.7,436.4L315.2,445.4M318.7,448.8L322.4,460.3M317.9,440.9L320.4,448.6M270.3,473.2L273.5,465M319,442.8L322.6,452.9" class="fm"/>
<path d="M305.3,456.1 309.5,454.2 313,452.2 315.7,450.1 317.7,447.9 318.7,445.8 319,443.6 318.5,441.4 317.3,439.3 315.3,437.3 312.6,435.4 309.3,433.5 305.4,431.8 301,430.2 296.1,428.8 290.7,427.6 284.9,426.5 278.9,425.6 272.6,424.8 266.1,424.3 259.4,424 252.7,423.8 245.9,423.9 239.2,424.1 232.6,424.5 226.1,425.2 219.9,426 213.9,426.9 208.3,428.1 203.1,429.4 198.3,430.9 194,432.5 190.2,434.3 187.1,436.2 184.6,438.1 182.8,440.2 181.7,442.3 181.4,444.4 181.8,446.6 183.1,448.8 185.2,450.9 188,452.9 191.7,454.9 196.1,456.7 201.2,458.4 207,460 213.4,461.3 220.2,462.4 227.5,463.3 235.2,463.9 243,464.2 250.9,464.3 258.9,464.1 266.7,463.7 274.3,463 281.5,462 288.3,460.8 294.6,459.4 300.3,457.8Z" fill="#b2ed00"/>
<path d="M305.3,456.1 309.5,454.2 313,452.2 315.7,450.1 317.7,447.9 318.7,445.8 319,443.6 318.5,441.4 317.3,439.3 315.3,437.3 312.6,435.4 309.3,433.5 305.4,431.8 301,430.2 296.1,428.8 290.7,427.6 284.9,426.5 278.9,425.6 272.6,424.8 266.1,424.3 259.4,424 252.7,423.8 245.9,423.9 239.2,424.1 232.6,424.5 226.1,425.2 219.9,426 213.9,426.9 208.3,428.1 203.1,429.4 198.3,430.9 194,432.5 190.2,434.3 187.1,436.2 184.6,438.1 182.8,440.2 181.7,442.3 181.4,444.4 181.8,446.6 183.1,448.8 185.2,450.9 188,452.9 191.7,454.9 196.1,456.7 201.2,458.4 207,460 213.4,461.3 220.2,462.4 227.5,463.3 235.2,463.9 243,464.2 250.9,464.3 258.9,464.1 266.7,463.7 274.3,463 281.5,462 288.3,460.8 294.6,459.4 300.3,457.8Z" fill="none" stroke="#333" stroke-opacity="0.45" stroke-width="0.7"/>
<path d="M228.1,423.6L231,428.6M182.1,454.4L185.4,449.3M178.5,451.2L181.6,443.3M275.6,424.7L278.1,434.4M194.5,470.6L197.7,457.1M204.6,473.5L207.9,459.9M305.2,431.1L307.6,441.1" class="fm"/>
<path d="M304.7,454 309,452.1 312.5,450.1 315.2,448 317.1,445.9 318.2,443.7 318.4,441.5 317.8,439.4 316.5,437.3 314.4,435.3 311.6,433.4 308.1,431.5 304.1,429.9 299.5,428.3 294.4,426.9 288.9,425.7 283,424.7 276.8,423.8 270.4,423.1 263.8,422.7 257,422.4 250.2,422.3 243.4,422.5 236.7,422.7 230.1,423.2 223.7,423.9 217.5,424.8 211.6,425.9 206.1,427.1 201,428.6 196.4,430.1 192.4,431.8 188.9,433.6 186.1,435.6 184,437.6 182.6,439.7 182,441.8 182.2,444 183.2,446.1 185,448.3 187.7,450.3 191.1,452.3 195.3,454.2 200.3,455.9 206,457.5 212.3,458.9 219.1,460 226.4,461 234,461.6 241.9,462 249.9,462.1 257.9,462 265.7,461.6 273.4,460.9 280.7,459.9 287.6,458.8 294,457.4 299.7,455.8Z" fill="#c8ee00"/>
<path d="M178.9,453.3L182,443.1M231.4,460.7L235.2,468M181.7,459L184.8,446.9M255.9,461.2L259.8,471.9M181.4,446.2L184.4,436.7M193,440.6L196,430M201.7,437.1L204.6,426.5M232.2,473.1L235.5,460.2M249.6,472.6L252.9,461.5M317.8,443.9L320.4,449.3M256.7,426.7L260,421.2" class="fm"/>
<path d="M304.2,452 308.5,450.1 311.9,448.2 314.6,446.1 316.5,444 317.5,441.9 317.8,439.7 317.2,437.6 315.9,435.5 313.8,433.6 311,431.7 307.6,429.9 303.6,428.2 299.1,426.7 294,425.3 288.6,424.1 282.7,423.1 276.6,422.3 270.2,421.6 263.7,421.1 257,420.9 250.2,420.8 243.5,420.9 236.8,421.2 230.3,421.7 223.9,422.4 217.8,423.3 211.9,424.3 206.5,425.6 201.5,426.9 196.9,428.5 192.9,430.1 189.5,431.9 186.7,433.8 184.6,435.8 183.2,437.9 182.6,440 182.8,442.1 183.8,444.2 185.6,446.3 188.2,448.4 191.7,450.3 195.9,452.2 200.8,453.9 206.4,455.4 212.6,456.8 219.4,457.9 226.6,458.8 234.2,459.4 241.9,459.8 249.9,460 257.8,459.8 265.6,459.4 273.2,458.7 280.4,457.8 287.2,456.7 293.5,455.3 299.2,453.7Z" fill="#ddef00"/>
<path d="M182.6,441.5L185.7,434.5M188,461.3L191.1,447.8M272.8,457.3L276.6,469.8M298.1,452.7L301.8,466.6M273.5,465L276.7,457.1M312,431.5L315.5,438.9" class="fm"/>
<path d="M303.7,450 308,448.1 311.5,446.1 314.1,444.1 316,441.9 317,439.8 317.1,437.7 316.5,435.6 315,433.5 312.8,431.5 309.9,429.6 306.4,427.9 302.2,426.3 297.5,424.8 292.4,423.4 286.7,422.3 280.8,421.3 274.5,420.5 268,419.9 261.4,419.5 254.6,419.3 247.8,419.3 241,419.5 234.3,419.9 227.7,420.4 221.4,421.2 215.4,422.2 209.7,423.3 204.4,424.6 199.5,426.1 195.2,427.7 191.5,429.4 188.4,431.3 186,433.2 184.3,435.3 183.4,437.4 183.3,439.5 184,441.6 185.6,443.7 187.9,445.8 191.1,447.8 195.2,449.7 199.9,451.4 205.4,453 211.5,454.4 218.3,455.5 225.4,456.5 233,457.2 240.8,457.6 248.8,457.8 256.7,457.7 264.6,457.3 272.3,456.6 279.6,455.7 286.5,454.6 292.9,453.2 298.6,451.7Z" fill="#f0ef00"/>
<path d="M185.4,449.3L188.6,444.8M187.2,440L190.2,429.4M218.3,469.7L221.6,455.8M306.5,448.5L310.2,462.4M239.1,426.1L242.3,418" class="fm"/>
<path d="M303.1,447.9 307.4,446.1 310.9,444.1 313.5,442.1 315.3,440 316.3,437.9 316.5,435.8 315.8,433.8 314.4,431.8 312.3,429.8 309.4,428 305.9,426.2 301.8,424.6 297.1,423.2 292,421.8 286.4,420.7 280.5,419.7 274.3,419 267.9,418.4 261.3,418 254.5,417.8 247.8,417.8 241.1,418 234.4,418.3 227.9,418.9 221.7,419.7 215.7,420.6 210,421.7 204.8,423 200,424.5 195.7,426 192,427.8 189,429.6 186.6,431.5 184.9,433.5 184,435.6 183.9,437.6 184.6,439.7 186.2,441.8 188.5,443.8 191.7,445.8 195.7,447.6 200.4,449.3 205.9,450.9 211.9,452.3 218.6,453.4 225.7,454.3 233.2,455 240.9,455.5 248.8,455.6 256.7,455.5 264.5,455.1 272.1,454.5 279.3,453.6 286.2,452.5 292.5,451.1 298.1,449.6Z" fill="#f3e400"/>
<path d="M225.2,419.1L228.1,423.6M227.7,454.2L231.4,460.7M245.8,417.7L248.6,425.4M285.6,450.7L289.4,464.4M285.3,420.1L287.8,430.9M295.2,422.2L297.7,433.1M224.7,428.5L227.8,418.8M315.4,432.7L317.9,440.9M315.2,439L317.8,443.9M315.5,432.5L319,442.8" class="fm"/>
<path d="M302.6,445.9 306.9,444.1 310.4,442.1 313,440.1 314.8,438 315.7,435.9 315.8,433.8 315.1,431.7 313.6,429.7 311.3,427.8 308.3,425.9 304.6,424.2 300.4,422.7 295.5,421.2 290.3,420 284.6,418.9 278.5,417.9 272.2,417.2 265.6,416.7 258.9,416.4 252.1,416.2 245.3,416.3 238.5,416.5 231.9,417 225.4,417.7 219.2,418.5 213.3,419.5 207.8,420.7 202.7,422.1 198.2,423.6 194.2,425.3 190.8,427.1 188.1,428.9 186.1,430.9 184.9,432.9 184.5,435 184.9,437.1 186.2,439.2 188.3,441.2 191.3,443.2 195,445.1 199.6,446.8 204.9,448.4 210.9,449.9 217.4,451.1 224.5,452 232,452.8 239.7,453.2 247.7,453.4 255.6,453.4 263.5,453 271.2,452.4 278.5,451.5 285.4,450.4 291.8,449.1 297.6,447.6Z" fill="#f5da00"/>
<path d="M185.7,434.5L188.8,428M181.6,443.3L184.7,435.3M260.7,416.2L263.4,425.6M213.2,429.4L216.3,418.8M310.3,426.7L312.7,436.4M315.2,436.5L318.7,448.8M276.7,457.1L279.9,450M260,421.2L263.4,416.1M308.5,424.7L312,431.5" class="fm"/>
<path d="M302.1,443.8 306.3,442 309.8,440.1 312.4,438.1 314.2,436.1 315.1,434 315.2,432 314.5,429.9 312.9,428 310.7,426.1 307.7,424.3 304.1,422.6 299.9,421 295.1,419.6 289.9,418.4 284.3,417.3 278.3,416.4 272,415.7 265.5,415.2 258.8,414.8 252.1,414.7 245.4,414.8 238.7,415 232.1,415.5 225.7,416.1 219.5,416.9 213.7,418 208.2,419.1 203.2,420.5 198.7,422 194.7,423.6 191.4,425.4 188.7,427.2 186.7,429.1 185.5,431.1 185.1,433.2 185.6,435.2 186.8,437.3 188.9,439.3 191.8,441.2 195.6,443.1 200.1,444.8 205.4,446.4 211.3,447.7 217.8,448.9 224.8,449.9 232.2,450.6 239.9,451.1 247.7,451.3 255.6,451.2 263.4,450.8 271,450.2 278.2,449.4 285.1,448.3 291.4,447 297.1,445.5Z" fill="#f7cf00"/>
<path d="M222.3,415.2L225.2,419.1M182,443.1L185.2,433M188.6,444.8L192,441M224,448.6L227.7,454.2M252.1,450.9L255.9,461.2M273,414.3L275.6,424.7M311,438.2L314.6,451.7M252.9,461.5L256.2,450.5" class="fm"/>
<path d="M301.5,441.8 305.8,440 309.3,438.1 311.9,436.1 313.6,434.1 314.5,432 314.5,429.9 313.7,427.9 312.1,425.9 309.7,424 306.6,422.3 302.8,420.6 298.4,419.1 293.5,417.7 288.1,416.5 282.4,415.5 276.2,414.6 269.8,413.9 263.2,413.5 256.5,413.2 249.7,413.2 242.9,413.3 236.1,413.6 229.6,414.2 223.2,414.9 217.1,415.8 211.4,416.9 206.1,418.2 201.3,419.6 197,421.2 193.3,422.9 190.3,424.7 188.1,426.6 186.6,428.6 185.8,430.6 186,432.6 186.9,434.7 188.8,436.7 191.5,438.7 195,440.5 199.3,442.3 204.4,443.9 210.3,445.3 216.7,446.6 223.6,447.6 231,448.3 238.7,448.8 246.6,449.1 254.5,449 262.4,448.7 270.1,448.1 277.4,447.3 284.4,446.2 290.7,445 296.5,443.5Z" fill="#f9c400"/>
<path d="M188.8,428L191.9,422.4M184.8,446.9L188,434.7M184.4,436.7L187.4,426.9M197.7,457.1L200.9,442.8M207.9,459.9L211.1,445.4M302.7,420.5L305.2,431.1M235.5,460.2L238.8,447.3M312.5,434.9L315.2,439" class="fm"/>
<path d="M301,439.8 305.3,438 308.8,436.1 311.4,434.1 313.1,432 313.9,429.9 313.8,427.9 312.9,425.9 311.2,423.9 308.6,422 305.4,420.3 301.5,418.6 296.9,417.1 291.9,415.8 286.3,414.6 280.4,413.6 274.1,412.8 267.6,412.2 260.9,411.8 254,411.6 247.2,411.6 240.3,411.9 233.6,412.3 227,412.9 220.7,413.7 214.8,414.7 209.2,415.9 204.1,417.2 199.5,418.7 195.5,420.4 192.2,422.1 189.5,424 187.7,426 186.6,428 186.5,430 187.1,432.1 188.7,434.1 191.1,436.1 194.4,438 198.6,439.8 203.5,441.4 209.2,442.9 215.6,444.2 222.5,445.2 229.8,446.1 237.5,446.6 245.5,446.9 253.5,446.9 261.4,446.6 269.2,446.1 276.6,445.2 283.6,444.2 290.1,442.9 295.9,441.4Z" fill="#fcb900"/>
<path d="M192,441L195.4,438.1M220.3,443.8L224,448.6M243,410.4L245.8,417.7M269,444.8L272.8,457.3M196,430L199,418.8M204.6,426.5L207.7,415.3M242.3,418L245.6,410.2M279.9,450L283,443.7M263.4,416.1L266.7,411.6M304.9,418.7L308.5,424.7" class="fm"/>
<path d="M300.5,437.7 304.8,436 308.2,434.1 310.8,432.1 312.5,430.1 313.3,428.1 313.2,426.1 312.3,424.1 310.6,422.1 308.1,420.3 304.9,418.6 301,416.9 296.5,415.5 291.5,414.2 286,413 280.1,412 273.9,411.3 267.4,410.7 260.8,410.3 254,410.1 247.2,410.1 240.4,410.3 233.7,410.7 227.2,411.3 221,412.1 215.1,413.1 209.6,414.3 204.5,415.6 200,417.1 196,418.7 192.7,420.4 190.1,422.3 188.3,424.2 187.3,426.2 187.1,428.2 187.8,430.2 189.3,432.2 191.7,434.1 195,436 199.1,437.8 204,439.4 209.7,440.8 215.9,442.1 222.8,443.1 230.1,443.9 237.7,444.4 245.5,444.7 253.4,444.7 261.3,444.4 269,443.9 276.3,443.1 283.3,442.1 289.7,440.8 295.4,439.4Z" fill="#feae00"/>
<path d="M219.3,412L222.3,415.2M195.4,438.1L198.8,435.9M184.7,435.3L187.9,427.7M191.1,447.8L194.3,434.3M294.4,438.5L298.1,452.7M221.6,455.8L224.8,441.8M312.8,424.9L315.4,432.7M309.7,431.4L312.5,434.9M311.9,422.6L315.5,432.5" class="fm"/>
<path d="M300,435.7 304.3,433.9 307.7,432 310.3,430.1 311.9,428.1 312.7,426 312.5,424 311.5,422 309.7,420.1 307,418.3 303.7,416.6 299.6,415 295,413.5 289.8,412.3 284.2,411.2 278.1,410.2 271.8,409.5 265.2,409 258.4,408.6 251.5,408.5 244.7,408.6 237.9,408.9 231.2,409.4 224.7,410.1 218.6,411 212.8,412 207.4,413.3 202.6,414.7 198.3,416.2 194.7,417.9 191.7,419.7 189.6,421.6 188.2,423.6 187.7,425.6 188,427.6 189.3,429.6 191.5,431.6 194.5,433.5 198.4,435.3 203.1,436.9 208.6,438.4 214.8,439.7 221.6,440.8 228.9,441.6 236.5,442.2 244.4,442.5 252.4,442.6 260.3,442.3 268.1,441.8 275.5,441 282.6,440 289,438.8 294.9,437.3Z" fill="#ffa000"/>
<path d="M300,435.7 304.3,433.9 307.7,432 310.3,430.1 311.9,428.1 312.7,426 312.5,424 311.5,422 309.7,420.1 307,418.3 303.7,416.6 299.6,415 295,413.5 289.8,412.3 284.2,411.2 278.1,410.2 271.8,409.5 265.2,409 258.4,408.6 251.5,408.5 244.7,408.6 237.9,408.9 231.2,409.4 224.7,410.1 218.6,411 212.8,412 207.4,413.3 202.6,414.7 198.3,416.2 194.7,417.9 191.7,419.7 189.6,421.6 188.2,423.6 187.7,425.6 188,427.6 189.3,429.6 191.5,431.6 194.5,433.5 198.4,435.3 203.1,436.9 208.6,438.4 214.8,439.7 221.6,440.8 228.9,441.6 236.5,442.2 244.4,442.5 252.4,442.6 260.3,442.3 268.1,441.8 275.5,441 282.6,440 289,438.8 294.9,437.3Z" fill="none" stroke="#333" stroke-opacity="0.45" stroke-width="0.7"/>
<path d="M191.9,422.4L195,417.6M185.2,433L188.3,423.3M198.8,435.9L202.3,434.7M216.6,439.9L220.3,443.8M248.3,441L252.1,450.9M190.2,429.4L193.2,418.6M302.9,434.4L306.5,448.5M227.8,418.8L230.9,409.2M283,443.7L286.1,438.3" class="fm"/>
<path d="M299.5,433.7 303.7,431.9 307.1,430.1 309.7,428.1 311.3,426.2 312,424.2 311.9,422.2 310.9,420.2 309.1,418.3 306.5,416.6 303.2,414.9 299.2,413.3 294.6,411.9 289.4,410.6 283.9,409.6 277.9,408.6 271.6,407.9 265,407.4 258.3,407.1 251.5,407 244.7,407.1 238,407.3 231.4,407.8 225,408.5 218.9,409.4 213.1,410.4 207.8,411.7 203,413 198.8,414.6 195.2,416.2 192.3,418 190.1,419.8 188.8,421.8 188.3,423.7 188.7,425.7 189.9,427.7 192,429.6 195.1,431.5 198.9,433.2 203.6,434.9 209.1,436.3 215.2,437.6 221.9,438.7 229.1,439.5 236.7,440.1 244.5,440.4 252.3,440.4 260.2,440.2 267.9,439.7 275.3,438.9 282.2,437.9 288.6,436.7 294.4,435.3Z" fill="#ff8f00"/>
<path d="M195,417.6L198.1,413.5M216.3,409.4L219.3,412M202.3,434.7L205.8,434.4M205.8,434.4L209.4,435.2M209.4,435.2L213,437M213,437L216.6,439.9M258,406.9L260.7,416.2M281.9,436.9L285.6,450.7M282.8,409L285.3,420.1M292.7,411L295.2,422.2M216.3,418.8L219.4,408M307.8,416.9L310.3,426.7M256.2,450.5L259.4,440M311.6,424.4L315.2,436.5M306.9,428.7L309.7,431.4M266.7,411.6L270.1,407.7M301.4,413.3L304.9,418.7" class="fm"/>
<path d="M298.9,431.6 303.2,429.9 306.7,428 309.2,426.1 310.8,424.1 311.5,422.1 311.2,420.1 310.1,418.2 308.2,416.3 305.4,414.5 301.9,412.9 297.8,411.3 293,409.9 287.7,408.7 282,407.7 275.8,406.8 269.4,406.2 262.7,405.7 255.9,405.5 249.1,405.4 242.2,405.6 235.4,406 228.8,406.5 222.5,407.3 216.5,408.2 210.9,409.4 205.8,410.7 201.2,412.1 197.3,413.7 194,415.5 191.5,417.3 189.8,419.2 189,421.1 189,423.1 190,425.1 191.8,427.1 194.6,429 198.3,430.7 202.8,432.4 208.1,433.9 214.1,435.2 220.8,436.3 227.9,437.2 235.5,437.8 243.3,438.2 251.3,438.3 259.2,438 267,437.6 274.5,436.8 281.5,435.8 288,434.6 293.8,433.2Z" fill="#ff7e00"/>
<path d="M213.3,407.7L216.3,409.4M286.1,438.3L289.2,433.7" class="fm"/>
<path d="M298.4,429.6 302.7,427.9 306.1,426.1 308.6,424.2 310.2,422.2 310.8,420.3 310.6,418.3 309.5,416.4 307.6,414.6 304.9,412.8 301.5,411.2 297.3,409.7 292.6,408.3 287.4,407.1 281.7,406.1 275.6,405.2 269.2,404.6 262.6,404.2 255.9,403.9 249.1,403.9 242.3,404 235.6,404.4 229,404.9 222.8,405.7 216.8,406.6 211.3,407.7 206.2,409 201.7,410.5 197.8,412 194.6,413.7 192.1,415.5 190.4,417.4 189.6,419.3 189.6,421.3 190.6,423.2 192.4,425.1 195.2,427 198.8,428.7 203.3,430.4 208.5,431.8 214.5,433.1 221.1,434.2 228.2,435.1 235.7,435.7 243.4,436 251.3,436.1 259.1,435.9 266.8,435.4 274.2,434.7 281.2,433.7 287.6,432.5 293.4,431.2Z" fill="#ff6d00"/>
<path d="M198.1,413.5L201.1,410.4M201.1,410.4L204.2,408.2M210.3,406.9L213.3,407.7M240.1,403.2L243,410.4M188,434.7L191.1,422.5M187.4,426.9L190.5,417M270.3,403.6L273,414.3M300.2,409.4L302.7,420.5M238.8,447.3L242.1,434.4M307.4,424.6L311,438.2M310.2,417.2L312.8,424.9M245.6,410.2L248.8,402.4M289.2,433.7L292.3,430.1M304.1,426.9L306.9,428.7M270.1,407.7L273.5,404.5M297.9,408.8L301.4,413.3" class="fm"/>
<path d="M297.9,427.6 302.2,425.8 305.6,424 308.1,422.1 309.6,420.2 310.3,418.2 309.9,416.3 308.7,414.4 306.7,412.5 303.8,410.8 300.2,409.2 295.9,407.7 291.1,406.4 285.6,405.2 279.8,404.2 273.5,403.4 267,402.9 260.3,402.5 253.4,402.3 246.6,402.3 239.7,402.6 233,403 226.5,403.7 220.3,404.5 214.5,405.5 209.1,406.7 204.3,408.1 200,409.6 196.4,411.2 193.6,413 191.6,414.8 190.4,416.7 190.1,418.7 190.8,420.6 192.3,422.6 194.8,424.4 198.2,426.2 202.5,427.9 207.6,429.4 213.4,430.8 219.9,431.9 227,432.8 234.5,433.5 242.3,433.8 250.2,433.9 258.1,433.8 265.9,433.3 273.4,432.6 280.5,431.7 287,430.5 292.8,429.1Z" fill="#ff5c00"/>
<path d="M204.2,408.2L207.3,407.1M207.3,407.1L210.3,406.9M187.9,427.7L191.1,420.3M265.2,432.3L269,444.8M200.9,442.8L204.1,428.2M211.1,445.4L214.3,430.6M292.3,430.1L295.3,427.7M295.3,427.7L298.3,426.3M298.3,426.3L301.2,426.1M301.2,426.1L304.1,426.9M308.3,412.9L311.9,422.6" class="fm"/>
<path d="M297.4,425.5 301.7,423.8 305.1,422.1 307.5,420.2 309,418.3 309.7,416.4 309.4,414.4 308.2,412.6 306.1,410.8 303.3,409.1 299.7,407.5 295.5,406 290.7,404.7 285.3,403.6 279.5,402.6 273.3,401.9 266.9,401.3 260.2,400.9 253.4,400.7 246.6,400.8 239.8,401 233.2,401.4 226.7,402.1 220.6,402.9 214.8,403.9 209.5,405.1 204.7,406.4 200.5,407.9 197,409.5 194.2,411.2 192.2,413 191,414.9 190.7,416.8 191.4,418.7 192.9,420.6 195.4,422.5 198.7,424.2 203,425.9 208,427.4 213.8,428.7 220.3,429.8 227.2,430.7 234.6,431.3 242.3,431.7 250.2,431.8 258,431.6 265.7,431.2 273.1,430.5 280.1,429.6 286.6,428.4 292.4,427.1Z" fill="#ff4b00"/>
<path d="M188.3,423.3L191.4,413.9M244.5,431.4L248.3,441M199,418.8L202,406.9M207.7,415.3L210.7,403.4M259.4,440L262.7,429.7M273.5,404.5L276.9,402.2M294.4,405.1L297.9,408.8" class="fm"/>
<path d="M296.9,423.5 301.2,421.8 304.6,420 307,418.2 308.5,416.2 309.1,414.3 308.7,412.4 307.4,410.5 305.2,408.7 302.2,407 298.5,405.5 294.1,404.1 289.1,402.8 283.5,401.7 277.5,400.8 271.2,400.1 264.6,399.5 257.8,399.2 251,399.1 244.1,399.2 237.3,399.6 230.6,400.1 224.2,400.8 218.2,401.7 212.6,402.8 207.4,404.1 202.9,405.5 199,407 195.8,408.7 193.5,410.5 192,412.3 191.3,414.2 191.6,416.2 192.9,418.1 195.1,419.9 198.2,421.7 202.2,423.4 207.1,424.9 212.8,426.3 219.1,427.5 226.1,428.4 233.5,429.1 241.2,429.5 249.1,429.6 257,429.5 264.8,429.1 272.3,428.4 279.4,427.5 286,426.4 291.8,425Z" fill="#ff3b00"/>
<path d="M194.3,434.3L197.5,420.2M193.2,418.6L196.3,407.1M290.7,423.7L294.4,438.5M224.8,441.8L228.1,427.2M230.9,409.2L234.1,399.2M276.9,402.2L280.4,400.7M280.4,400.7L283.9,400.2M290.9,402.4L294.4,405.1" class="fm"/>
<path d="M296.5,421.5 300.8,419.8 304.2,418 306.6,416.1 308,414.2 308.5,412.3 308,410.3 306.5,408.5 304.2,406.7 301.1,405 297.2,403.5 292.6,402.1 287.4,400.9 281.7,399.8 275.5,398.9 269,398.3 262.3,397.8 255.4,397.6 248.4,397.6 241.5,397.8 234.7,398.1 228.1,398.8 221.7,399.6 215.8,400.6 210.4,401.7 205.5,403.1 201.2,404.6 197.7,406.2 194.9,408 193,409.8 192.1,411.7 192,413.6 192.9,415.5 194.8,417.4 197.7,419.2 201.5,420.9 206.2,422.5 211.7,423.9 218,425.1 224.9,426.1 232.3,426.8 240,427.3 248,427.5 256,427.4 263.9,427 271.5,426.4 278.7,425.5 285.3,424.3 291.3,423Z" fill="#ff3200"/>
<path d="M255.2,397.3L258,406.9M299.2,419.6L302.9,434.4M305.2,406.8L307.8,416.9M308,412L311.6,424.4M283.9,400.2L287.4,400.8M287.4,400.8L290.9,402.4" class="fm"/>
<path d="M296,419.4 300.2,417.8 303.6,416 306,414.2 307.4,412.3 307.9,410.4 307.4,408.5 306,406.7 303.7,405 300.6,403.3 296.7,401.8 292.2,400.4 287,399.2 281.4,398.2 275.3,397.3 268.9,396.7 262.2,396.2 255.4,396 248.5,396 241.6,396.2 234.8,396.6 228.3,397.1 222,397.9 216.1,398.9 210.7,400.1 205.9,401.4 201.7,402.9 198.2,404.5 195.5,406.2 193.6,408 192.6,409.8 192.6,411.7 193.5,413.6 195.4,415.5 198.2,417.2 202,418.9 206.7,420.5 212.1,421.8 218.3,423 225.2,424 232.5,424.7 240.1,425.2 248,425.4 255.9,425.3 263.7,424.9 271.3,424.3 278.4,423.4 284.9,422.3 290.8,420.9Z" fill="#ff2900"/>
<path d="M237.2,396.2L240.1,403.2M191.1,420.3L194.3,413.2M278.1,422.6L281.9,436.9M280.2,397.1L282.8,409M290.1,398.9L292.7,411M219.4,408L222.5,396.4M307.6,409.7L310.2,417.2M248.8,402.4L252.2,394.8" class="fm"/>
<path d="M295.5,417.4 299.8,415.7 303.2,414 305.5,412.1 306.9,410.2 307.3,408.3 306.7,406.5 305.1,404.7 302.7,402.9 299.4,401.3 295.4,399.8 290.6,398.5 285.3,397.3 279.5,396.3 273.2,395.5 266.6,394.9 259.8,394.5 252.9,394.4 245.9,394.4 239,394.7 232.2,395.2 225.7,395.9 219.6,396.7 213.8,397.8 208.7,399.1 204.1,400.5 200.2,402 197.1,403.7 194.8,405.4 193.5,407.3 193.1,409.2 193.7,411 195.2,412.9 197.8,414.7 201.3,416.4 205.8,418 211.1,419.5 217.2,420.7 224,421.7 231.3,422.5 239,423 246.9,423.2 254.9,423.1 262.8,422.8 270.4,422.2 277.7,421.3 284.3,420.2 290.3,418.9Z" fill="#ff1f00"/>
<path d="M191.4,413.9L194.5,404.8M191.1,422.5L194.3,410.1M240.8,422.3L244.5,431.4M190.5,417L193.6,406.8M242.1,434.4L245.3,421.2M304.8,403.5L308.3,412.9" class="fm"/>
<path d="M295,415.4 299.3,413.8 302.6,412 305,410.2 306.3,408.4 306.7,406.5 306.1,404.7 304.6,402.9 302.2,401.2 298.9,399.6 294.9,398.1 290.3,396.8 285,395.6 279.2,394.7 273,393.9 266.5,393.3 259.7,392.9 252.9,392.8 246,392.8 239.1,393.1 232.4,393.6 226,394.2 219.9,395.1 214.2,396.2 209.1,397.4 204.5,398.8 200.7,400.3 197.6,401.9 195.4,403.6 194.1,405.5 193.7,407.3 194.2,409.1 195.8,411 198.3,412.8 201.8,414.4 206.3,416 211.5,417.4 217.6,418.6 224.3,419.6 231.5,420.3 239.1,420.8 246.9,421.1 254.8,421 262.7,420.7 270.2,420.1 277.4,419.2 284,418.1 289.9,416.8Z" fill="#ff1600"/>
<path d="M261.4,419.6L265.2,432.3M267.6,392.2L270.3,403.6M297.7,397.7L300.2,409.4M303.8,410.4L307.4,424.6M262.7,429.7L265.9,419.9" class="fm"/>
<path d="M294.5,413.3 298.8,411.7 302.2,410 304.5,408.2 305.8,406.3 306.1,404.4 305.4,402.6 303.7,400.8 301.2,399.1 297.7,397.6 293.5,396.1 288.7,394.8 283.2,393.7 277.2,392.8 270.9,392.1 264.2,391.6 257.3,391.3 250.3,391.2 243.4,391.3 236.5,391.6 229.8,392.2 223.4,393 217.5,393.9 212,395.1 207.1,396.4 202.9,397.8 199.4,399.4 196.8,401.1 195,402.9 194.3,404.7 194.5,406.6 195.7,408.4 198,410.2 201.2,412 205.4,413.6 210.5,415 216.4,416.3 223.1,417.3 230.3,418.1 237.9,418.6 245.8,418.9 253.8,418.9 261.7,418.6 269.4,418 276.6,417.2 283.3,416.1 289.3,414.8Z" fill="#ff0d00"/>
<path d="M204.1,428.2L207.3,412.6M214.3,430.6L217.6,414.9" class="fm"/>
<path d="M294,411.3 298.2,409.7 301.5,408 303.9,406.2 305.2,404.4 305.5,402.6 304.8,400.8 303.1,399 300.6,397.4 297.2,395.8 293.1,394.4 288.2,393.2 282.8,392.1 276.9,391.2 270.6,390.5 264,389.9 257.2,389.6 250.3,389.6 243.4,389.7 236.6,390 229.9,390.6 223.6,391.3 217.7,392.3 212.3,393.4 207.4,394.7 203.3,396.1 199.8,397.7 197.2,399.3 195.5,401.1 194.8,402.9 195,404.7 196.2,406.5 198.4,408.3 201.6,410 205.8,411.5 210.9,412.9 216.7,414.2 223.3,415.2 230.4,416 238,416.5 245.8,416.8 253.7,416.7 261.5,416.5 269.1,415.9 276.3,415.1 282.9,414 288.8,412.8Z" fill="#ff0400"/>
<path d="M234.3,389.4L237.2,396.2M194.3,413.2L197.6,406.2M234.1,399.2L237.4,388.6M304.9,403L307.6,409.7" class="fm"/>
<path d="M293.4,409.3 297.7,407.7 301.1,406 303.4,404.2 304.6,402.4 304.8,400.5 304,398.7 302.2,397 299.5,395.3 295.9,393.8 291.6,392.4 286.6,391.2 281,390.2 274.9,389.3 268.4,388.6 261.6,388.2 254.7,388 247.7,388 240.7,388.2 233.9,388.6 227.3,389.2 221.1,390.1 215.3,391.1 210.1,392.3 205.5,393.7 201.7,395.2 198.7,396.8 196.6,398.5 195.4,400.3 195.3,402.2 196.1,404 198.1,405.8 201,407.5 204.9,409.1 209.8,410.5 215.6,411.8 222,412.9 229.1,413.7 236.7,414.3 244.5,414.6 252.5,414.6 260.5,414.4 268.2,413.8 275.4,413 282.2,412 288.2,410.7Z" fill="#fd0000"/>
<path d="M237,413.8L240.8,422.3M252.4,387.2L255.2,397.3M202,406.9L205.1,393.7M210.7,403.4L213.8,390M228.1,427.2L231.3,411.9M302.7,396.8L305.2,406.8M304.4,400L308,412M252.2,394.8L255.5,387.4M301.2,395L304.8,403.5" class="fm"/>
<path d="M292.9,407.3 297.2,405.7 300.5,404 302.7,402.3 304,400.5 304.2,398.7 303.4,396.9 301.6,395.2 298.9,393.6 295.4,392.1 291.1,390.7 286.2,389.5 280.6,388.5 274.6,387.6 268.2,387 261.5,386.6 254.6,386.4 247.6,386.3 240.7,386.6 234,387 227.5,387.6 221.3,388.4 215.6,389.4 210.4,390.6 205.9,392 202.1,393.4 199.1,395 197.1,396.7 195.9,398.5 195.8,400.3 196.6,402.1 198.5,403.8 201.4,405.5 205.3,407.1 210.2,408.5 215.9,409.8 222.3,410.8 229.3,411.6 236.8,412.2 244.5,412.5 252.4,412.5 260.3,412.2 267.9,411.7 275.1,410.9 281.8,409.9 287.7,408.7Z" fill="#f90000"/>
<path d="M194.5,404.8L197.6,395.5M197.5,420.2L200.6,405M196.3,407.1L199.3,394M287,408.6L290.7,423.7M295.6,404.6L299.2,419.6M265.9,419.9L269.1,411" class="fm"/>
<path d="M292.4,405.2 296.7,403.7 300,402 302.3,400.2 303.4,398.4 303.5,396.6 302.6,394.8 300.7,393.1 297.8,391.5 294.1,390.1 289.6,388.7 284.5,387.6 278.7,386.6 272.5,385.8 265.9,385.2 259,384.8 252,384.7 245,384.8 238.1,385.1 231.3,385.6 224.8,386.3 218.8,387.2 213.3,388.3 208.4,389.6 204.2,391 200.8,392.6 198.3,394.2 196.7,395.9 196.2,397.7 196.7,399.5 198.2,401.3 200.9,403 204.5,404.6 209.2,406.1 214.7,407.4 221,408.5 228,409.4 235.5,410 243.3,410.3 251.3,410.4 259.2,410.2 267,409.7 274.3,408.9 281.1,407.9 287.2,406.6Z" fill="#f50000"/>
<path d="M274.3,408.1L278.1,422.6" class="fm"/>
<path d="M291.9,403.2 296.2,401.7 299.4,400 301.7,398.3 302.8,396.5 302.9,394.8 302,393 300.1,391.4 297.3,389.8 293.6,388.3 289.2,387 284.1,385.9 278.4,384.9 272.2,384.1 265.7,383.6 258.9,383.2 251.9,383.1 245,383.1 238.1,383.4 231.4,383.9 225,384.6 219,385.5 213.6,386.6 208.7,387.9 204.5,389.3 201.2,390.8 198.7,392.4 197.2,394.1 196.6,395.9 197.1,397.6 198.7,399.4 201.3,401 204.9,402.6 209.5,404.1 215,405.3 221.3,406.4 228.2,407.3 235.6,407.9 243.3,408.2 251.2,408.3 259.1,408 266.7,407.5 274,406.8 280.7,405.8 286.7,404.6Z" fill="#f10000"/>
<path d="M231.3,382.6L234.3,389.4M194.3,410.1L197.3,396M197.6,406.2L201,399.4M233.2,405.9L237,413.8M193.6,406.8L196.8,395.1M257.6,407L261.4,419.6M277.5,384.5L280.2,397.1M287.6,386.4L290.1,398.9M222.5,396.4L225.7,383.1M245.3,421.2L248.6,407.8M302.2,397.1L304.9,403" class="fm"/>
<path d="M291.4,401.2 295.7,399.6 299,398 301.2,396.2 302.3,394.5 302.3,392.7 301.3,391 299.2,389.3 296.2,387.8 292.3,386.3 287.6,385 282.3,383.9 276.4,383 270,382.3 263.3,381.8 256.4,381.5 249.4,381.4 242.3,381.6 235.4,382 228.7,382.6 222.4,383.3 216.6,384.3 211.3,385.5 206.8,386.8 203,388.3 200.1,389.9 198.1,391.6 197.2,393.3 197.3,395.1 198.5,396.8 200.8,398.5 204.2,400.2 208.5,401.7 213.9,403 220,404.1 226.9,405 234.3,405.7 242.1,406 250.1,406.1 258,406 265.8,405.5 273.2,404.8 280,403.8 286.1,402.6Z" fill="#ee0000"/>
<path d="M295.1,386.1L297.7,397.7M300.1,396.6L303.8,410.4M269.1,411L272.3,402.8M255.5,387.4L258.9,380.4M297.7,387.2L301.2,395" class="fm"/>
<path d="M290.9,399.2 295.1,397.6 298.4,396 300.6,394.3 301.7,392.6 301.7,390.8 300.7,389.1 298.6,387.5 295.7,386 291.8,384.6 287.2,383.3 281.9,382.2 276.1,381.3 269.8,380.6 263.1,380.1 256.3,379.9 249.3,379.8 242.3,379.9 235.5,380.3 228.9,380.9 222.6,381.7 216.9,382.6 211.7,383.8 207.1,385.1 203.4,386.5 200.5,388.1 198.6,389.8 197.7,391.5 197.8,393.2 199,394.9 201.2,396.6 204.6,398.2 208.9,399.6 214.2,400.9 220.3,402 227,402.9 234.4,403.6 242.1,403.9 250,404 257.9,403.8 265.6,403.4 272.9,402.7 279.6,401.7 285.7,400.5Z" fill="#ea0000"/>
<path d="M197.6,395.5L200.7,386.5M264.9,380L267.6,392.2" class="fm"/>
<path d="M290.4,397.1 294.7,395.6 297.9,394 300.1,392.3 301.1,390.5 301,388.8 299.9,387.1 297.7,385.5 294.5,384 290.5,382.6 285.6,381.4 280.1,380.3 274.1,379.5 267.6,378.8 260.8,378.4 253.7,378.2 246.7,378.2 239.6,378.4 232.8,378.9 226.2,379.5 220.1,380.4 214.5,381.5 209.6,382.7 205.4,384.1 202.1,385.6 199.7,387.2 198.4,388.9 198.1,390.7 198.9,392.4 200.8,394.1 203.9,395.7 208,397.2 213.1,398.6 219,399.7 225.8,400.7 233.1,401.4 240.8,401.8 248.8,401.9 256.8,401.8 264.6,401.3 272.1,400.6 278.9,399.7 285.1,398.5Z" fill="#e60000"/>
<path d="M229.5,399L233.2,405.9M300,387L302.7,396.8M237.4,388.6L240.7,377.1M299.4,391.9L302.2,397.1M300.8,388.2L304.4,400" class="fm"/>
<path d="M289.9,395.1 294.1,393.6 297.4,392 299.5,390.3 300.5,388.6 300.5,386.9 299.3,385.3 297.1,383.7 294,382.2 290,380.8 285.2,379.6 279.8,378.6 273.8,377.8 267.3,377.1 260.6,376.7 253.6,376.5 246.6,376.5 239.7,376.8 232.9,377.2 226.4,377.9 220.3,378.7 214.8,379.8 209.9,381 205.8,382.3 202.5,383.8 200.2,385.4 198.8,387.1 198.5,388.8 199.3,390.5 201.3,392.1 204.3,393.7 208.3,395.2 213.4,396.5 219.3,397.7 226,398.6 233.2,399.2 240.9,399.7 248.8,399.8 256.7,399.6 264.4,399.2 271.7,398.5 278.5,397.6 284.6,396.4Z" fill="#e20000"/>
<path d="M228.4,376.5L231.3,382.6M201,399.4L204.4,393.6M249.6,376.5L252.4,387.2M207.3,412.6L210.5,394.5M217.6,414.9L220.8,397" class="fm"/>
<path d="M289.4,393.1 293.6,391.6 296.8,390.1 298.9,388.4 299.9,386.7 299.9,385.1 298.7,383.4 296.6,381.9 293.5,380.4 289.5,379.1 284.8,377.9 279.4,376.9 273.5,376.1 267.1,375.5 260.4,375.1 253.5,374.9 246.6,374.9 239.7,375.1 233,375.6 226.6,376.2 220.6,377 215.1,378.1 210.3,379.3 206.2,380.6 202.9,382.1 200.6,383.6 199.3,385.2 199,386.9 199.8,388.6 201.7,390.2 204.7,391.7 208.7,393.2 213.7,394.5 219.6,395.6 226.1,396.5 233.3,397.1 240.9,397.5 248.7,397.7 256.5,397.5 264.2,397.1 271.4,396.4 278.2,395.5 284.2,394.4Z" fill="#df0000"/>
<path d="M283.3,393L287,408.6M231.3,411.9L234.6,395.4M272.3,402.8L275.4,395.9M258.9,380.4L262.3,374.3M294.1,380.1L297.7,387.2" class="fm"/>
<path d="M288.9,391.1 293.1,389.6 296.3,388 298.4,386.4 299.4,384.7 299.2,383 297.9,381.4 295.6,379.8 292.3,378.4 288.1,377.1 283.2,376 277.6,375 271.4,374.2 264.8,373.7 258,373.3 251,373.2 244,373.3 237,373.6 230.3,374.1 224,374.9 218.1,375.8 212.9,376.9 208.4,378.2 204.7,379.6 201.9,381.1 200.1,382.7 199.4,384.4 199.9,386.1 201.4,387.7 204.1,389.3 207.9,390.8 212.7,392.1 218.4,393.3 224.9,394.2 232,394.9 239.7,395.4 247.5,395.5 255.4,395.4 263.2,395 270.6,394.4 277.5,393.5 283.6,392.4Z" fill="#db0000"/>
<path d="M200.7,386.5L203.8,378.9M204.4,393.6L207.8,389.4M225.8,393.4L229.5,399M200.6,405L203.7,387.7M253.8,394.4L257.6,407M270.6,393.3L274.3,408.1M205.1,393.7L208.2,377.7M291.9,389.4L295.6,404.6M248.6,407.8L251.8,394.5M296.6,387.7L299.4,391.9" class="fm"/>
<path d="M288.3,389 292.6,387.6 295.7,386.1 297.8,384.4 298.8,382.8 298.6,381.2 297.3,379.6 295,378 291.8,376.6 287.6,375.4 282.7,374.2 277.2,373.3 271.1,372.5 264.6,372 257.8,371.7 250.9,371.5 243.9,371.6 237.1,371.9 230.5,372.5 224.2,373.2 218.4,374.1 213.2,375.2 208.7,376.4 205.1,377.8 202.3,379.3 200.6,380.9 199.9,382.5 200.3,384.1 201.9,385.8 204.5,387.3 208.3,388.8 213,390.1 218.7,391.2 225.1,392.1 232.2,392.8 239.7,393.3 247.5,393.4 255.3,393.3 263,392.9 270.3,392.3 277.1,391.4 283.1,390.3Z" fill="#d70000"/>
<path d="M225.3,371.5L228.4,376.5M197.3,396L200.4,381.7M196.8,395.1L199.9,382.8M199.3,394L202.4,378.9M284.9,373.4L287.6,386.4M213.8,390L217,374.3M275.4,395.9L278.6,390.4" class="fm"/>
<path d="M287.8,387 292.1,385.6 295.3,384 297.3,382.4 298.2,380.7 297.9,379.1 296.5,377.5 294,376 290.5,374.6 286.2,373.4 281,372.3 275.3,371.4 269,370.7 262.3,370.2 255.4,369.9 248.3,369.9 241.3,370.1 234.4,370.5 227.8,371.1 221.7,371.9 216.1,372.9 211.2,374.1 207.1,375.4 203.9,376.8 201.7,378.4 200.5,380 200.5,381.6 201.7,383.3 204,384.9 207.5,386.3 212,387.7 217.5,388.9 223.9,389.9 230.9,390.6 238.4,391.1 246.3,391.3 254.2,391.2 262,390.9 269.5,390.2 276.4,389.4 282.5,388.3Z" fill="#d30000"/>
<path d="M207.8,389.4L211.3,386.9M222.1,389.4L225.8,393.4M274.8,371.2L277.5,384.5M292.5,374.3L295.1,386.1M296.5,382.7L300.1,396.6M297.4,377.7L300,387M278.6,390.4L281.7,386.5M293.7,384.8L296.6,387.7M262.3,374.3L265.8,369.5M290.5,374.3L294.1,380.1" class="fm"/>
<path d="M287.3,385 291.5,383.6 294.7,382 296.7,380.5 297.5,378.8 297.3,377.2 295.9,375.7 293.4,374.2 290,372.9 285.7,371.6 280.6,370.6 274.9,369.7 268.7,369 262.1,368.5 255.2,368.3 248.3,368.2 241.3,368.4 234.5,368.8 228,369.4 221.9,370.2 216.4,371.2 211.5,372.3 207.5,373.6 204.3,375 202.1,376.6 201,378.1 201,379.7 202.2,381.3 204.5,382.9 207.9,384.3 212.4,385.7 217.8,386.8 224.1,387.8 231,388.5 238.5,389 246.3,389.2 254.1,389.1 261.8,388.7 269.2,388.1 276,387.3 282.1,386.2Z" fill="#d00000"/>
<path d="M203.8,378.9L206.9,373M211.3,386.9L214.9,386.1M214.9,386.1L218.5,386.9M218.5,386.9L222.1,389.4M262.1,367.5L264.9,380M225.7,383.1L228.9,369M281.7,386.5L284.7,384M284.7,384L287.8,382.9M287.8,382.9L290.7,383.1M290.7,383.1L293.7,384.8M297.2,377L300.8,388.2" class="fm"/>
<path d="M286.8,382.9 291,381.5 294.2,380 296.2,378.4 296.9,376.8 296.5,375.2 294.9,373.6 292.3,372.2 288.7,370.8 284.1,369.6 278.9,368.6 272.9,367.8 266.5,367.2 259.7,366.7 252.7,366.6 245.6,366.6 238.6,366.9 231.8,367.3 225.4,368 219.5,368.9 214.2,370 209.7,371.2 206,372.6 203.4,374.1 201.8,375.6 201.4,377.2 202.1,378.9 204.1,380.4 207.2,381.9 211.4,383.3 216.7,384.5 222.9,385.5 229.8,386.3 237.2,386.8 245.1,387 253,387 260.8,386.7 268.3,386.1 275.3,385.3 281.5,384.2Z" fill="#cc0000"/>
<path d="M222.3,368L225.3,371.5M246.7,366.2L249.6,376.5M240.7,377.1L244,366.3M265.8,369.5L269.3,366.1M287,369.7L290.5,374.3" class="fm"/>
<path d="M286.2,380.9 290.4,379.5 293.6,378 295.5,376.5 296.3,374.9 295.9,373.3 294.3,371.8 291.7,370.4 288.1,369.1 283.7,367.9 278.4,366.9 272.6,366.1 266.2,365.5 259.5,365.1 252.6,364.9 245.6,364.9 238.7,365.2 231.9,365.7 225.6,366.3 219.7,367.2 214.5,368.3 210.1,369.5 206.5,370.8 203.9,372.3 202.3,373.8 201.9,375.4 202.6,376.9 204.6,378.5 207.6,379.9 211.8,381.2 217,382.4 223.1,383.4 229.9,384.2 237.3,384.7 245,384.9 252.9,384.9 260.6,384.6 268,384 274.8,383.2 281,382.1Z" fill="#c80000"/>
<path d="M206.9,373L210,368.8M219.2,365.9L222.3,368M250.1,383L253.8,394.4M251.8,394.5L255.1,382.9M283.4,366.4L287,369.7" class="fm"/>
<path d="M285.7,378.9 289.9,377.5 293,376 294.9,374.4 295.6,372.8 295.1,371.3 293.4,369.8 290.6,368.4 286.7,367.1 282,365.9 276.6,365 270.5,364.2 263.9,363.7 257.1,363.3 250,363.2 242.9,363.3 236,363.7 229.3,364.2 223.1,365 217.4,366 212.5,367.1 208.5,368.4 205.4,369.8 203.3,371.3 202.4,372.9 202.8,374.4 204.3,376 207,377.5 211,378.8 216,380.1 221.9,381.1 228.7,381.9 236.1,382.5 243.8,382.8 251.8,382.8 259.6,382.5 267.1,381.9 274.1,381.1 280.3,380.1Z" fill="#c20000"/>
<path d="M210,368.8L213.1,366.3M213.1,366.3L216.1,365.4M216.1,365.4L219.2,365.9M220.8,397L224,379.8M279.6,378.3L283.3,393M269.3,366.1L272.8,364.2M272.8,364.2L276.3,363.7M276.3,363.7L279.9,364.4M279.9,364.4L283.4,366.4" class="fm"/>
<path d="M285.1,376.8 289.3,375.5 292.4,374 294.2,372.5 294.9,370.9 294.4,369.4 292.7,367.9 289.9,366.6 286.2,365.3 281.6,364.2 276.2,363.3 270.2,362.5 263.7,362 256.9,361.7 249.9,361.5 242.9,361.7 236,362 229.5,362.5 223.3,363.3 217.8,364.2 212.9,365.4 208.9,366.6 205.8,368 203.8,369.5 203,371 203.3,372.5 204.8,374 207.5,375.5 211.4,376.8 216.3,378 222.2,379 228.9,379.8 236.2,380.3 243.8,380.6 251.6,380.6 259.4,380.3 266.8,379.8 273.7,379 279.8,378Z" fill="#bd0000"/>
<path d="M199.9,382.8L203.2,372.1M210.5,394.5L213.6,377M266.8,379.5L270.6,393.3M234.6,395.4L237.8,380.3M288.2,375.1L291.9,389.4M294.6,369.7L297.4,377.7" class="fm"/>
<path d="M284.5,374.8 288.8,373.4 291.8,372 293.7,370.4 294.2,368.9 293.6,367.4 291.7,365.9 288.7,364.5 284.7,363.3 279.9,362.2 274.2,361.3 268,360.6 261.3,360.2 254.4,359.9 247.3,359.9 240.2,360.1 233.4,360.5 226.9,361.2 220.9,362 215.6,363 211.1,364.2 207.6,365.6 205.1,367 203.7,368.5 203.6,370 204.7,371.6 207,373 210.6,374.4 215.3,375.7 221.1,376.7 227.6,377.6 234.9,378.1 242.6,378.5 250.5,378.5 258.4,378.3 265.9,377.7 272.9,377 279.2,376Z" fill="#b70000"/>
<path d="M200.4,381.7L203.6,369.2M203.7,387.7L206.8,371.7M208.2,377.7L211.3,362.5M282.3,361.3L284.9,373.4M289.8,363.6L292.5,374.3M292.9,370.1L296.5,382.7M293.6,367.3L297.2,377" class="fm"/>
<path d="M283.9,372.7 288.2,371.4 291.3,369.9 293.1,368.4 293.6,366.8 292.7,365.3 290.7,363.9 287.5,362.5 283.3,361.3 278.1,360.3 272.2,359.4 265.8,358.8 258.9,358.4 251.8,358.2 244.6,358.3 237.5,358.6 230.7,359.1 224.3,359.8 218.5,360.7 213.6,361.9 209.5,363.1 206.5,364.5 204.6,366 204,367.6 204.7,369.1 206.6,370.6 209.9,372 214.3,373.3 219.9,374.4 226.4,375.3 233.6,375.9 241.4,376.3 249.3,376.4 257.3,376.2 265,375.7 272.2,374.9 278.5,373.9Z" fill="#b10000"/>
<path d="M243.8,357.1L246.7,366.2M202.4,378.9L205.6,365M272.1,358.9L274.8,371.2M217,374.3L220.2,359.6M244,366.3L247.4,357.1" class="fm"/>
<path d="M283.4,370.7 287.6,369.4 290.7,368 292.4,366.5 292.9,364.9 292.1,363.5 290.1,362 286.9,360.7 282.7,359.5 277.7,358.5 271.9,357.7 265.5,357.1 258.7,356.7 251.7,356.5 244.6,356.6 237.5,356.9 230.8,357.4 224.5,358.1 218.8,359 213.9,360.1 209.9,361.3 206.9,362.7 205.1,364.2 204.5,365.7 205.2,367.2 207.1,368.6 210.3,370 214.7,371.3 220.2,372.3 226.6,373.2 233.8,373.8 241.4,374.2 249.3,374.3 257.1,374.1 264.7,373.6 271.8,372.8 278.1,371.9Z" fill="#ab0000"/>
<path d="M246.3,372.8L250.1,383M259.3,356L262.1,367.5M228.9,369L232.2,356.2M255.1,382.9L258.3,372.7" class="fm"/>
<path d="M282.9,368.7 287.1,367.3 290.2,365.9 291.9,364.4 292.2,362.9 291.3,361.4 289,360 285.6,358.7 281.2,357.5 275.9,356.6 269.8,355.8 263.2,355.2 256.2,354.9 249,354.8 241.8,355 234.8,355.3 228.1,355.9 222,356.8 216.6,357.8 212.1,359 208.6,360.3 206.2,361.7 205.1,363.2 205.3,364.7 206.8,366.2 209.7,367.6 213.8,368.9 219.1,370 225.4,370.9 232.5,371.6 240.1,372 248.1,372.2 256.1,372 263.8,371.5 271,370.8 277.4,369.8Z" fill="#a60000"/>
<path d="M291.8,362.3L294.6,369.7" class="fm"/>
<path d="M282.3,366.6 286.6,365.3 289.5,363.9 291.2,362.5 291.6,361 290.6,359.5 288.4,358.2 285.1,356.9 280.7,355.8 275.5,354.8 269.5,354.1 263,353.5 256.1,353.2 249,353.1 241.8,353.3 234.9,353.6 228.3,354.2 222.3,355 217,356 212.5,357.2 209,358.4 206.7,359.8 205.6,361.3 205.8,362.8 207.3,364.2 210.1,365.6 214.2,366.9 219.4,368 225.6,368.9 232.6,369.5 240.2,369.9 248,370 255.9,369.9 263.5,369.4 270.6,368.7 276.9,367.8Z" fill="#a00000"/>
<path d="M203.2,372.1L206.5,362.3M290,358L293.6,367.3" class="fm"/>
<path d="M281.8,364.6 286.1,363.3 289,361.9 290.7,360.4 290.9,358.9 289.8,357.5 287.3,356.1 283.8,354.9 279.1,353.8 273.6,352.9 267.4,352.2 260.6,351.7 253.5,351.5 246.3,351.4 239.1,351.7 232.2,352.1 225.7,352.8 219.9,353.7 214.9,354.8 210.9,356 208,357.4 206.4,358.8 206.1,360.3 207.1,361.8 209.6,363.2 213.3,364.5 218.3,365.6 224.4,366.6 231.3,367.3 238.9,367.8 246.9,367.9 254.8,367.8 262.6,367.4 269.8,366.7 276.3,365.7Z" fill="#9a0000"/>
<path d="M263.1,366.1L266.8,379.5M275.8,363.8L279.6,378.3M237.8,380.3L241.1,365.9" class="fm"/>
<path d="M281.2,362.6 285.4,361.3 288.4,359.9 290,358.5 290.2,357 289.1,355.6 286.7,354.3 283.2,353.1 278.6,352 273.2,351.1 267,350.5 260.4,350 253.4,349.7 246.2,349.7 239.1,350 232.3,350.4 226,351.1 220.2,352 215.3,353 211.4,354.2 208.5,355.5 206.9,356.9 206.6,358.4 207.6,359.8 210.1,361.2 213.8,362.5 218.7,363.6 224.7,364.5 231.5,365.2 239,365.6 246.8,365.8 254.7,365.7 262.3,365.3 269.5,364.6 275.8,363.7Z" fill="#940000"/>
<path d="M203.6,369.2L206.7,357.4M240.8,348.4L243.8,357.1M224,379.8L227.2,363.3M284.5,361L288.2,375.1M287.1,353L289.8,363.6M258.3,372.7L261.5,363.6M289.2,357.6L292.9,370.1M247.4,357.1L250.8,348.5" class="fm"/>
<path d="M280.6,360.5 284.9,359.3 287.8,357.9 289.4,356.4 289.5,355 288.2,353.6 285.6,352.3 281.8,351.1 276.9,350 271.2,349.2 264.8,348.6 257.9,348.2 250.7,348 243.5,348.1 236.4,348.4 229.6,349 223.5,349.7 218,350.7 213.5,351.8 210.1,353.1 207.9,354.5 207.1,355.9 207.7,357.4 209.6,358.8 213,360.1 217.7,361.2 223.5,362.2 230.2,363 237.7,363.5 245.6,363.7 253.6,363.6 261.4,363.2 268.7,362.5 275.2,361.6Z" fill="#8f0000"/>
<path d="M242.5,363.3L246.3,372.8M213.6,377L216.8,360.1M279.5,349.2L282.3,361.3M289,355.8L291.8,362.3" class="fm"/>
<path d="M280.1,358.5 284.3,357.2 287.2,355.9 288.7,354.5 288.8,353.1 287.5,351.7 285,350.4 281.2,349.3 276.4,348.3 270.8,347.5 264.5,346.9 257.7,346.5 250.6,346.3 243.5,346.4 236.5,346.7 229.8,347.2 223.7,348 218.4,348.9 214,350 210.6,351.3 208.5,352.6 207.6,354 208.2,355.4 210.2,356.8 213.5,358.1 218.1,359.2 223.8,360.1 230.5,360.9 237.8,361.3 245.6,361.5 253.4,361.4 261.1,361.1 268.3,360.4 274.7,359.6Z" fill="#890000"/>
<path d="M206.8,371.7L210,356.2M205.6,365L208.8,351.5M269.4,346.5L272.1,358.9M286.4,350L290,358" class="fm"/>
<path d="M279.4,356.4 283.7,355.2 286.6,353.8 288,352.4 287.9,351 286.5,349.7 283.7,348.4 279.7,347.3 274.7,346.3 268.7,345.5 262.2,345 255.2,344.7 248,344.6 240.7,344.8 233.8,345.2 227.2,345.8 221.4,346.7 216.4,347.7 212.5,348.9 209.8,350.2 208.4,351.6 208.4,353 209.9,354.4 212.8,355.7 217.1,356.8 222.7,357.8 229.2,358.6 236.5,359.1 244.4,359.4 252.3,359.3 260.1,359 267.4,358.4 273.9,357.5Z" fill="#830000"/>
<path d="M206.5,362.3L209.9,354.2M256.5,344.6L259.3,356M211.3,362.5L214.5,347.7M220.2,359.6L223.4,345.3M232.2,356.2L235.5,344.1M261.5,363.6L264.7,356.6" class="fm"/>
<path d="M278.8,354.4 282.9,353.2 285.8,351.9 287.2,350.5 287.2,349.1 285.7,347.8 283,346.6 279.1,345.5 274.1,344.6 268.3,343.8 261.9,343.3 255,343 247.9,342.9 240.8,343.1 233.9,343.5 227.5,344.1 221.8,344.9 216.9,345.9 213,347.1 210.4,348.3 209,349.7 209,351 210.5,352.4 213.4,353.6 217.6,354.8 223.1,355.8 229.5,356.5 236.7,357 244.3,357.2 252.2,357.2 259.8,356.9 267,356.3 273.4,355.4Z" fill="#7f0000"/>
<path d="M206.7,357.4L209.8,347.9M237.8,341.6L240.8,348.4M238.8,355.9L242.5,363.3M286.1,351.1L289,355.8M250.8,348.5L254.2,342.1" class="fm"/>
<path d="M278,352.3 282.2,351.1 285,349.8 286.4,348.4 286.2,347.1 284.6,345.8 281.6,344.6 277.4,343.5 272.2,342.6 266.1,341.9 259.4,341.5 252.4,341.2 245.2,341.3 238.1,341.5 231.3,342 225.1,342.7 219.7,343.6 215.2,344.7 212,345.9 210.1,347.2 209.5,348.6 210.5,350 213,351.2 216.9,352.4 222,353.4 228.3,354.2 235.4,354.8 243.1,355.1 251,355.1 258.8,354.8 266.1,354.2 272.6,353.4Z" fill="#7c0000"/>
<path d="M259.3,354.5L263.1,366.1M272.1,351.6L275.8,363.8M241.1,365.9L244.3,354.1M280.8,349.3L284.5,361M284.3,344.7L287.1,353M264.7,356.6L267.9,352M283.2,348.3L286.1,351.1M285.6,347.4L289.2,357.6M282.8,344.1L286.4,350" class="fm"/>
<path d="M277.2,350.2 281.4,349 284.2,347.7 285.4,346.4 285.1,345 283.2,343.7 280,342.6 275.6,341.5 270.1,340.7 263.8,340.1 256.9,339.7 249.7,339.5 242.4,339.6 235.3,340 228.7,340.6 222.8,341.4 217.8,342.4 214,343.6 211.4,344.8 210.3,346.2 210.8,347.5 212.8,348.8 216.2,350 221.1,351.1 227.2,352 234.2,352.6 241.9,352.9 249.8,352.9 257.7,352.6 265.1,352.1 271.7,351.3Z" fill="#790000"/>
<path d="M209.9,354.2L213.4,349.1M235,351.1L238.8,355.9M227.2,363.3L230.4,350.5M276.7,340.4L279.5,349.2M267.9,352L271,349.2M280.2,347.1L283.2,348.3M254.2,342.1L257.7,338.4" class="fm"/>
<path d="M276.2,348.1 280.4,347 283.1,345.7 284.2,344.3 283.7,343 281.6,341.7 278.2,340.6 273.5,339.6 267.7,338.8 261.2,338.3 254.2,338 246.9,337.9 239.7,338.1 232.7,338.6 226.4,339.2 220.9,340.1 216.4,341.2 213.3,342.4 211.6,343.7 211.4,345.1 212.9,346.4 215.9,347.6 220.4,348.7 226.2,349.6 233.1,350.3 240.7,350.6 248.6,350.7 256.5,350.5 264,349.9 270.6,349.2Z" fill="#760000"/>
<path d="M209.8,347.9L213,342.3M234.8,337.9L237.8,341.6M210,356.2L213.2,345.6M213.4,349.1L216.9,346.8M231.4,348.5L235,351.1M253.6,337.3L256.5,344.6M208.8,351.5L212.2,342.8M216.8,360.1L220,347.8M266.5,338.1L269.4,346.5M235.5,344.1L238.9,337M271,349.2L274.1,347.7M274.1,347.7L277.2,347.1M277.2,347.1L280.2,347.1M257.7,338.4L261.2,336.9M279.1,340.5L282.8,344.1" class="fm"/>
<path d="M274.8,346 278.9,344.8 281.5,343.6 282.5,342.3 281.8,341 279.6,339.7 275.9,338.6 271,337.7 265.1,337 258.5,336.5 251.4,336.3 244.1,336.3 237,336.6 230.3,337.2 224.4,338 219.4,338.9 215.7,340.1 213.4,341.3 212.6,342.6 213.5,343.9 216,345.2 220.1,346.3 225.5,347.2 232.1,347.9 239.5,348.3 247.3,348.4 255.2,348.2 262.6,347.7 269.2,347Z" fill="#720000"/>
<path d="M213,342.3L216.1,339.1M231.7,336.1L234.8,337.9M216.9,346.8L220.4,345.9M220.4,345.9L224,345.9M224,345.9L227.7,346.8M227.7,346.8L231.4,348.5M255.5,347.9L259.3,354.5M214.5,347.7L217.8,339M268.3,345L272.1,351.6M223.4,345.3L226.8,337.2M244.3,354.1L247.5,347.7M277.1,343L280.8,349.3M281.4,340.5L284.3,344.7M281.9,341.8L285.6,347.4M261.2,336.9L264.8,336.2M264.8,336.2L268.3,336.2M268.3,336.2L271.9,337M271.9,337L275.5,338.4M275.5,338.4L279.1,340.5" class="fm"/>
<path d="M273.2,343.8 277.3,342.7 279.8,341.5 280.7,340.2 279.8,338.9 277.4,337.8 273.5,336.7 268.4,335.9 262.3,335.2 255.6,334.8 248.5,334.7 241.4,334.9 234.5,335.2 228.2,335.9 222.8,336.7 218.5,337.8 215.6,338.9 214.2,340.2 214.4,341.5 216.4,342.7 220,343.8 225,344.8 231.2,345.5 238.4,346 246.1,346.1 253.8,346 261.2,345.5 267.8,344.8Z" fill="#6f0000"/>
<path d="M216.1,339.1L219.3,336.8M219.3,336.8L222.4,335.5M222.4,335.5L225.6,334.9M225.6,334.9L228.6,335.1M228.6,335.1L231.7,336.1M213.2,345.6L216.4,339.9M250.6,333.6L253.6,337.3M212.2,342.8L215.6,338.6M263.6,333.9L266.5,338.1M230.4,350.5L233.7,344M273.9,336.2L276.7,340.4M278.5,337.8L281.4,340.5M238.9,337L242.3,333.3" class="fm"/>
<path d="M271.6,341.7 275.7,340.5 278,339.3 278.5,338 277.3,336.7 274.3,335.6 269.8,334.6 264.1,333.9 257.5,333.4 250.3,333.2 243,333.2 235.9,333.6 229.4,334.2 223.9,335.1 219.6,336.1 216.8,337.3 215.7,338.6 216.4,339.8 219,341 223.3,342.1 229.1,342.9 236,343.5 243.7,343.8 251.5,343.7 259.1,343.3 265.9,342.6Z" fill="#6c0000"/>
<path d="M220,347.8L223.3,341.4M251.8,343.3L255.5,347.9M217.8,339L221.2,334.4M226.8,337.2L230.2,332.7M247.5,347.7L250.8,343.3M278.2,337.7L281.9,341.8" class="fm"/>
<path d="M269.6,339.5 273.7,338.3 275.9,337.1 276,335.8 274.2,334.6 270.6,333.5 265.5,332.6 259.2,332 252.1,331.7 244.7,331.7 237.5,332 230.8,332.5 225.2,333.4 220.9,334.4 218.3,335.6 217.6,336.9 218.9,338.2 222.2,339.3 227.2,340.3 233.7,341 241.2,341.4 249.1,341.4 256.9,341.1 263.9,340.4Z" fill="#680000"/>
<path d="M216.4,339.9L219.6,335.7M247.6,330.9L250.6,333.6M215.6,338.6L219.1,335.8M248,340L251.8,343.3M260.7,331L263.6,333.9M233.7,344L236.9,339.4M264.6,340.2L268.3,345M271,333.1L273.9,336.2M250.8,343.3L254,340.1M273.3,338.4L277.1,343M275.5,336.1L278.5,337.8M242.3,333.3L245.8,330.9M274.5,334.7L278.2,337.7" class="fm"/>
<path d="M267.1,337.2 270.8,336.2 272.8,335.1 273,333.9 271.4,332.8 268.1,331.9 263.5,331.1 257.8,330.5 251.3,330.2 244.6,330.2 238,330.5 232,331 226.8,331.8 222.9,332.7 220.6,333.8 220,334.9 221.2,336.1 224.2,337.1 228.8,337.9 234.7,338.6 241.4,338.9 248.6,338.9 255.6,338.6 261.9,338Z" fill="#650000"/>
<path d="M219.6,335.7L222.8,333.3M241.6,329.3L244.6,329.6M244.6,329.6L247.6,330.9M219.1,335.8L222.6,334.5M223.3,341.4L226.5,337M222.6,334.5L226.1,334.3M240.6,336.4L244.3,337.7M244.3,337.7L248,340M257.7,329.7L260.7,331M221.2,334.4L224.7,331.8M236.9,339.4L240.1,336.7M260.8,337L264.6,340.2M268,331.5L271,333.1M230.2,332.7L233.6,330.2M254,340.1L257.1,338M257.1,338L260.3,336.7M260.3,336.7L263.4,335.8M263.4,335.8L266.5,335.2M266.5,335.2L269.5,334.9M265.9,333.6L269.6,335.3M269.5,334.9L272.5,335.1M269.6,335.3L273.3,338.4M272.5,335.1L275.5,336.1M245.8,330.9L249.3,329.7M249.3,329.7L252.8,329.4M252.8,329.4L256.3,329.6M256.3,329.6L259.9,330M259.9,330L263.5,330.6M263.5,330.6L267.2,331.4M267.2,331.4L270.8,332.6M270.8,332.6L274.5,334.7" class="fm"/>
<path d="M261.9,334.6 264.8,333.9 266.4,333 266.6,332.1 265.4,331.3 262.9,330.5 259.2,329.9 254.7,329.5 249.7,329.2 244.4,329.2 239.2,329.4 234.4,329.8 230.3,330.4 227.3,331.2 225.5,332 225,332.9 226,333.8 228.4,334.5 232,335.2 236.6,335.7 241.8,335.9 247.4,335.9 252.9,335.7 257.8,335.3Z" fill="#620000"/>
<path d="M222.8,333.3L226,332M226,332L229.2,331M229.2,331L232.3,330.2M232.3,330.2L235.4,329.7M235.4,329.7L238.5,329.4M238.5,329.4L241.6,329.3M226.5,337L229.7,334.8M226.1,334.3L229.7,334.5M229.7,334.8L233,333.2M229.7,334.5L233.3,334.9M233,333.2L236.1,331.9M233.3,334.9L236.9,335.6M236.9,335.6L240.6,336.4M248.6,329.4L251.7,329.3M251.7,329.3L254.7,329.5M254.7,329.5L257.7,329.7M224.7,331.8L228.2,331.1M228.2,331.1L231.7,330.8M231.7,330.8L235.2,330.6M240.1,336.7L243.3,335.2M243.3,335.2L246.5,333.9M246.5,333.9L249.7,332.9M246,332L249.7,332.9M249.7,332.9L252.8,332.2M249.7,332.9L253.4,334M252.8,332.2L255.9,331.6M253.4,334L257.1,335.3M255.9,331.6L259,331.3M257.1,335.3L260.8,337M259,331.3L262,331.2M262,331.2L265,331.2M265,331.2L268,331.5M233.6,330.2L237.1,329.5M237.1,329.5L240.6,329.2M240.6,329.2L244.1,329.2M244.1,329.2L247.7,329.4M247.7,329.4L251.3,329.8M251.3,329.8L254.9,330.5M254.9,330.5L258.5,331.3M258.5,331.3L262.2,332.4M262.2,332.4L265.9,333.6" class="fm"/>
<path d="M250,331.3 251,331 251.6,330.7 251.7,330.4 251.3,330.1 250.4,329.8 249.1,329.6 247.5,329.5 245.7,329.4 243.7,329.4 241.8,329.5 240.1,329.6 238.6,329.8 237.5,330.1 236.9,330.4 236.8,330.7 237.1,331 238,331.3 239.3,331.5 241,331.7 242.8,331.8 244.8,331.8 246.7,331.7 248.5,331.5Z" fill="#5f0000"/>
<path d="M236.1,331.9L239.3,330.9M239.3,330.9L242.4,330.1M242.4,330.1L245.5,329.6M245.5,329.6L248.6,329.4M235.2,330.6L238.8,330.8M238.8,330.8L242.4,331.3M242.4,331.3L246,332" class="fm"/>
<path d="M119.4,513.9L261.4,567.1L377.5,506.1" fill="none" stroke="#fff" stroke-width="1.4"/>
<path d="M117.7,514.6L261.7,568.7L379.4,506.7M123.1,516.6L119.9,517.9M149.1,526.4L145.8,527.7M177.1,536.9L173.9,538.3M206.8,548.1L203.6,549.6M236.2,559.1L232.9,560.7M288.1,554.8L292,556.1M313.6,541.4L317.4,542.6M337.8,528.6L341.5,529.7M360.3,516.7L364,517.8" fill="none" stroke="#4a4a4a" stroke-width="1.1"/>
<path d="M119.4,513.9L112.2,332.3M119.4,513.9h-3M118.2,485h-3M117.1,455.5h-3M115.9,425.6h-3M114.7,395h-3M113.5,363.9h-3M112.2,332.3h-3" fill="none" stroke="#4a4a4a" stroke-width="1.1"/>
<text x="0" y="0" font-size="11.5" text-anchor="end" fill="#2e2e2e" transform="translate(114.9,517.7) rotate(-15) skewX(-10) scale(0.85,1)">0</text>
<text x="0" y="0" font-size="11.5" text-anchor="end" fill="#2e2e2e" transform="translate(113.7,488.8) rotate(-15) skewX(-10) scale(0.85,1)">200</text>
<text x="0" y="0" font-size="11.5" text-anchor="end" fill="#2e2e2e" transform="translate(112.6,459.3) rotate(-15) skewX(-10) scale(0.85,1)">400</text>
<text x="0" y="0" font-size="11.5" text-anchor="end" fill="#2e2e2e" transform="translate(111.4,429.4) rotate(-15) skewX(-10) scale(0.85,1)">600</text>
<text x="0" y="0" font-size="11.5" text-anchor="end" fill="#2e2e2e" transform="translate(110.2,398.8) rotate(-15) skewX(-10) scale(0.85,1)">800</text>
<text x="0" y="0" font-size="11.5" text-anchor="end" fill="#2e2e2e" transform="translate(109,367.7) rotate(-15) skewX(-10) scale(0.85,1)">1000</text>
<text x="0" y="0" font-size="11.5" text-anchor="end" fill="#2e2e2e" transform="translate(107.7,336.1) rotate(-15) skewX(-10) scale(0.85,1)">1200</text>
<text x="0" y="3.6" font-size="10" text-anchor="middle" fill="#444" font-weight="normal" transform="matrix(1.099,-0.419,0.920,0.357,109.6,521.8)">0.45</text>
<text x="0" y="3.6" font-size="10" text-anchor="middle" fill="#444" font-weight="normal" transform="matrix(1.100,-0.446,0.981,0.381,136.3,532.2)">0.50</text>
<text x="0" y="3.6" font-size="10" text-anchor="middle" fill="#444" font-weight="normal" transform="matrix(1.099,-0.474,1.044,0.405,162.8,542.4)">0.55</text>
<text x="0" y="3.6" font-size="10" text-anchor="middle" fill="#444" font-weight="normal" transform="matrix(1.096,-0.506,1.116,0.433,192.0,553.8)">0.60</text>
<text x="0" y="3.6" font-size="10" text-anchor="middle" fill="#444" font-weight="normal" transform="matrix(1.089,-0.543,1.198,0.465,224.5,566.4)">0.65</text>
<text x="0" y="3.6" font-size="10" text-anchor="middle" fill="#444" font-weight="normal" transform="matrix(1.234,0.434,-0.921,0.506,305.1,560.6)">0.45</text>
<text x="0" y="3.6" font-size="10" text-anchor="middle" fill="#444" font-weight="normal" transform="matrix(1.218,0.402,-0.856,0.470,329.6,547.2)">0.50</text>
<text x="0" y="3.6" font-size="10" text-anchor="middle" fill="#444" font-weight="normal" transform="matrix(1.200,0.372,-0.793,0.436,353.8,533.9)">0.55</text>
<text x="0" y="3.6" font-size="10" text-anchor="middle" fill="#444" font-weight="normal" transform="matrix(1.183,0.346,-0.740,0.406,375.4,522.0)">0.60</text>
<text x="0" y="3.6" font-size="10" text-anchor="middle" fill="#222" font-weight="normal" transform="matrix(1.313,0.534,-1.412,0.624,153.9,554.9)">X position (mm)</text>
<text x="0" y="3.6" font-size="10" text-anchor="middle" fill="#222" font-weight="normal" transform="matrix(0.882,-0.507,1.358,0.434,360.7,546.5)">Y position (mm)</text>
<text x="0" y="0" font-size="15" fill="#2a2a2a" transform="translate(74.8,434.5) rotate(86)" text-anchor="middle">Displacement (pm)</text>
<text x="130.3" y="349.8" font-size="18.5" fill="#000">FE</text>
<defs><linearGradient id="earr" x1="0" y1="0" x2="0.6" y2="1"><stop offset="0" stop-color="#d6def5"/><stop offset="1" stop-color="#9eb0e8"/></linearGradient></defs>
<polygon points="237.1,260.1 255.8,260.1 255.8,283.8 264.9,283.8 246.5,306.8 228.1,283.8 237.1,283.8" fill="url(#earr)"/>
<text x="269.5" y="296.1" font-size="24" font-style="italic" fill="#000">E</text><defs><radialGradient id="ball" cx="0.5" cy="0.5" r="0.5" fx="0.33" fy="0.32">
<stop offset="0" stop-color="#ffffff"/><stop offset="0.28" stop-color="#b9d5f0"/><stop offset="0.55" stop-color="#67a3dc"/><stop offset="1" stop-color="#4f90d2"/></radialGradient></defs><polyline points="541.1,207.2 543.1,207.3 545.7,207.4 548.9,207.5 552.4,207.6 556,207.7 559.7,207.8 563.3,207.8 566.5,207.6 569.5,207.4 572.4,207.1 575.3,206.7 578.2,206.3 581.1,205.9 583.9,205.4 586.9,204.8 589.9,204.2 593,203.6 596.1,202.9 599.3,202.1 602.5,201.3 605.7,200.5 608.9,199.7 612.1,198.9 615.3,198.2 618.5,197.5 621.6,196.7 624.8,196 628,195.3 631.2,194.6 634.3,194 637.5,193.4 640.7,192.9 643.9,192.5 647.1,192.2 650.4,191.9 653.7,191.6 656.9,191.4 660.1,191.3 663.1,191.1 666.1,191 668.8,190.9 671.4,190.8 673.9,190.7 676.4,190.6 678.8,190.6 681.2,190.7 683.7,190.8 686.4,191 689.1,191.4 691.9,191.9 694.7,192.4 697.6,193 700.5,193.7 703.5,194.4 706.6,195.1 709.8,195.7 713.1,196.4 716.5,197.1 720.1,197.9 723.7,198.6 727.4,199.3 731.1,200 734.7,200.7 738.2,201.2 741.7,201.7 745.2,202.1 748.7,202.4 752.1,202.7 755.6,203 759,203.3 762.3,203.5 765.6,203.9 769.1,204.2 772.7,204.6 776.4,205 780.1,205.3 783.5,205.7 786.5,206 789.1,206.3 791,206.5" fill="none" stroke="#9cb8e4" stroke-width="3" stroke-linejoin="round"/>
<polyline points="541.1,207.2 565.5,185.7 616.3,48.1 641.7,36.8 666.1,36 691.5,37.3 716.9,58.6 742.3,126.9 767.7,195.4 793.1,206.1" fill="none" stroke="#4ccf6f" stroke-width="2.5" stroke-linejoin="round"/>
<polyline points="541.1,208 565.5,184.4 616.3,27.1 641.7,17.1 666.1,16.6 691.5,20 716.9,48.6 742.3,131.6 767.7,201 793.1,206.5" fill="none" stroke="#4e94cf" stroke-width="2.5" stroke-linejoin="round"/>
<polyline points="541.1,204.2 565.5,182.5 616.3,18.6 641.7,4.1 666.1,5.3 688.4,8.3 716.9,42 742.3,138.2 767.7,196.3 793.1,206.1" fill="none" stroke="#ff8a00" stroke-width="2.5" stroke-linejoin="round"/>
<polyline points="541.1,206.1 565.5,181.6 616.3,26.4 641.7,11.5 666.1,7.7 691.5,9.8 716.9,45.2 742.3,132.9 767.7,197.6 793.1,206.5" fill="none" stroke="#c27ec2" stroke-width="2.5" stroke-linejoin="round"/>
<path d="M508.6,-3 V208.0 H813.4 V-3" fill="none" stroke="#1a1a1a" stroke-width="1.3"/>
<path d="M508.6,208h4 M508.6,189.1h2 M508.6,170.3h4 M508.6,151.4h2 M508.6,132.6h4 M508.6,113.7h2 M508.6,94.8h4 M508.6,76h2 M508.6,57.1h4 M508.6,38.3h2 M508.6,19.4h4 M508.6,0.5h2 M508.6,208.0v-4 M534,208.0v-2 M559.4,208.0v-4 M584.8,208.0v-2 M610.2,208.0v-4 M635.6,208.0v-2 M661,208.0v-4 M686.4,208.0v-2 M711.8,208.0v-4 M737.2,208.0v-2 M762.6,208.0v-4 M788,208.0v-2 M813.4,208.0v-4" stroke="#1a1a1a" stroke-width="1.2"/>
<text x="503.8" y="212.4" font-size="12.5" font-weight="bold" text-anchor="end" fill="#000" >0</text>
<text x="503.8" y="174.7" font-size="12.5" font-weight="bold" text-anchor="end" fill="#000" >200</text>
<text x="503.8" y="137" font-size="12.5" font-weight="bold" text-anchor="end" fill="#000" >400</text>
<text x="503.8" y="99.2" font-size="12.5" font-weight="bold" text-anchor="end" fill="#000" >600</text>
<text x="503.8" y="61.5" font-size="12.5" font-weight="bold" text-anchor="end" fill="#000" >800</text>
<text x="503.8" y="23.8" font-size="12.5" font-weight="bold" text-anchor="end" fill="#000" >1000</text>
<text x="508.6" y="223.8" font-size="12.5" font-weight="bold" text-anchor="middle" fill="#000" >0.00</text>
<text x="559.4" y="223.8" font-size="12.5" font-weight="bold" text-anchor="middle" fill="#000" >0.05</text>
<text x="610.2" y="223.8" font-size="12.5" font-weight="bold" text-anchor="middle" fill="#000" >0.10</text>
<text x="661" y="223.8" font-size="12.5" font-weight="bold" text-anchor="middle" fill="#000" >0.15</text>
<text x="711.8" y="223.8" font-size="12.5" font-weight="bold" text-anchor="middle" fill="#000" >0.20</text>
<text x="762.6" y="223.8" font-size="12.5" font-weight="bold" text-anchor="middle" fill="#000" >0.25</text>
<text x="813.4" y="223.8" font-size="12.5" font-weight="bold" text-anchor="middle" fill="#000" >0.30</text>
<text x="656.6" y="251.2" font-size="19.7" font-weight="normal" text-anchor="middle" fill="#000" >Position (mm)</text>
<text x="0" y="0" font-size="19.7" font-weight="normal" text-anchor="middle" fill="#000" transform="translate(456.8,93.6) rotate(-90)">Displacement (pm)</text>
<line x1="524.4" y1="13.6" x2="548.6" y2="13.6" stroke="#4ccf6f" stroke-width="2.5"/>
<text x="552.6" y="18.2" font-size="13.5" font-weight="bold" text-anchor="start" fill="#000" >7V</text>
<line x1="524.4" y1="30.4" x2="548.6" y2="30.4" stroke="#4e94cf" stroke-width="2.5"/>
<text x="552.6" y="35" font-size="13.5" font-weight="bold" text-anchor="start" fill="#000" >8V</text>
<line x1="524.4" y1="47.5" x2="548.6" y2="47.5" stroke="#ff8a00" stroke-width="2.5"/>
<text x="552.6" y="52.1" font-size="13.5" font-weight="bold" text-anchor="start" fill="#000" >9V</text>
<line x1="524.4" y1="64.4" x2="548.6" y2="64.4" stroke="#c27ec2" stroke-width="2.5"/>
<text x="552.6" y="69" font-size="13.5" font-weight="bold" text-anchor="start" fill="#000" >10V</text>
<text x="552.6" y="1.2" font-size="13.5" font-weight="bold" text-anchor="start" fill="#000" >6V</text>
<line x1="685.1" y1="48" x2="685.1" y2="180" stroke="#5b86d2" stroke-width="1.5"/>
<polygon points="685.1,36.8 678.6,49.3 691.6,49.3" fill="#4472c4"/>
<polygon points="685.1,191.3 678.6,178.8 691.6,178.8" fill="#4472c4"/>
<text x="633.7" y="157.2" font-size="14" font-weight="normal" text-anchor="middle" fill="#111" >AFE-FE</text>
<text x="633.7" y="172.8" font-size="14" font-weight="normal" text-anchor="middle" fill="#111" >Phase transition</text><polyline points="524.5,325 539.8,324.4 555,498 570.3,502.1 661.8,508.4" fill="none" stroke="#86c0ea" stroke-width="1.4"/>
<polyline points="661.8,508.4 753.2,501.3 768.5,493.3 783.7,330 799,341.4" fill="none" stroke="#f08a8e" stroke-width="1.4"/>
<polygon points="524.5,320.2 525.8,323.3 529.1,323.5 526.5,325.6 527.4,328.9 524.5,327.1 521.7,328.9 522.5,325.6 520,323.5 523.3,323.3" fill="#86c0ea"/>
<polygon points="539.8,319.6 541,322.7 544.4,322.9 541.8,325 542.6,328.2 539.8,326.5 537,328.2 537.8,325 535.2,322.9 538.6,322.7" fill="#86c0ea"/>
<polygon points="555,493.2 556.3,496.3 559.6,496.5 557,498.7 557.9,501.9 555,500.1 552.2,501.9 553,498.7 550.5,496.5 553.8,496.3" fill="#86c0ea"/>
<polygon points="570.3,497.3 571.5,500.4 574.8,500.6 572.3,502.7 573.1,506 570.3,504.2 567.5,506 568.3,502.7 565.7,500.6 569,500.4" fill="#86c0ea"/>
<polygon points="661.8,503.9 666.2,508.4 661.8,512.9 657.2,508.4" fill="#ef8a8e"/>
<polygon points="753.2,496.8 757.7,501.3 753.2,505.8 748.7,501.3" fill="#ef8a8e"/>
<polygon points="768.5,488.8 773,493.3 768.5,497.8 764,493.3" fill="#ef8a8e"/>
<polygon points="783.7,325.5 788.2,330 783.7,334.5 779.2,330" fill="#ef8a8e"/>
<polygon points="799,336.9 803.5,341.4 799,345.9 794.5,341.4" fill="#ef8a8e"/>
<path d="M509.3,297.9H814.2V524.8" fill="none" stroke="#808080" stroke-width="1.6"/>
<path d="M509.3,297.09999999999997V524.8H815.0" fill="none" stroke="#1a1a1a" stroke-width="1.5"/>
<path d="M509.3,508.4h4 M509.3,492.2h2 M509.3,475.9h4 M509.3,459.7h2 M509.3,443.5h4 M509.3,427.2h2 M509.3,411h4 M509.3,394.8h2 M509.3,378.6h4 M509.3,362.3h2 M509.3,346.1h4 M509.3,329.9h2 M509.3,313.6h4 M509.3,524.8v-4.5 M524.5,524.8v-2.3 M539.8,524.8v-4.5 M555,524.8v-2.3 M570.3,524.8v-4.5 M585.5,524.8v-2.3 M600.8,524.8v-4.5 M616,524.8v-2.3 M631.3,524.8v-4.5 M646.5,524.8v-2.3 M661.8,524.8v-4.5 M677,524.8v-2.3 M692.2,524.8v-4.5 M707.5,524.8v-2.3 M722.7,524.8v-4.5 M738,524.8v-2.3 M753.2,524.8v-4.5 M768.5,524.8v-2.3 M783.7,524.8v-4.5 M799,524.8v-2.3 M814.2,524.8v-4.5" stroke="#1a1a1a" stroke-width="1.2"/>
<text x="503.8" y="512.8" font-size="12.5" font-weight="bold" text-anchor="end" fill="#000" >0</text>
<text x="503.8" y="480.3" font-size="12.5" font-weight="bold" text-anchor="end" fill="#000" >200</text>
<text x="503.8" y="447.9" font-size="12.5" font-weight="bold" text-anchor="end" fill="#000" >400</text>
<text x="503.8" y="415.4" font-size="12.5" font-weight="bold" text-anchor="end" fill="#000" >600</text>
<text x="503.8" y="383" font-size="12.5" font-weight="bold" text-anchor="end" fill="#000" >800</text>
<text x="503.8" y="350.5" font-size="12.5" font-weight="bold" text-anchor="end" fill="#000" >1000</text>
<text x="503.8" y="318" font-size="12.5" font-weight="bold" text-anchor="end" fill="#000" >1200</text>
<text x="509.3" y="540.4" font-size="12.5" font-weight="bold" text-anchor="middle" fill="#000" >-10</text>
<text x="539.8" y="540.4" font-size="12.5" font-weight="bold" text-anchor="middle" fill="#000" >-8</text>
<text x="570.3" y="540.4" font-size="12.5" font-weight="bold" text-anchor="middle" fill="#000" >-6</text>
<text x="600.8" y="540.4" font-size="12.5" font-weight="bold" text-anchor="middle" fill="#000" >-4</text>
<text x="631.3" y="540.4" font-size="12.5" font-weight="bold" text-anchor="middle" fill="#000" >-2</text>
<text x="661.8" y="540.4" font-size="12.5" font-weight="bold" text-anchor="middle" fill="#000" >0</text>
<text x="692.2" y="540.4" font-size="12.5" font-weight="bold" text-anchor="middle" fill="#000" >2</text>
<text x="722.7" y="540.4" font-size="12.5" font-weight="bold" text-anchor="middle" fill="#000" >4</text>
<text x="753.2" y="540.4" font-size="12.5" font-weight="bold" text-anchor="middle" fill="#000" >6</text>
<text x="783.7" y="540.4" font-size="12.5" font-weight="bold" text-anchor="middle" fill="#000" >8</text>
<text x="814.2" y="540.4" font-size="12.5" font-weight="bold" text-anchor="middle" fill="#000" >10</text>
<text x="0" y="0" font-size="19.7" font-weight="normal" text-anchor="middle" fill="#000" transform="translate(456.8,408.9) rotate(-90)">Displacement (pm)</text>
<text x="438" y="275.6" font-size="26.5" font-weight="bold" text-anchor="start" fill="#000" >d</text><polygon points="945.8,87.1 1042.6,65.2 1042.6,128.1 945.8,150" fill="#a9bce6"/>
<path d="M945.8,87.1H1021.7V150H945.8Z M945.8,87.1L967.5,65.2H1042.6L1021.7,87.1 M1042.6,65.2V128.1L1021.7,150" fill="none" stroke="#735410" stroke-width="2.1" stroke-linejoin="round"/>
<polygon points="1042,63.8 960.3,82.3 959.3,77.9 944.3,88.5 962.4,91.6 961.4,87.2 1043.2,68.6" fill="#7f7f7f"/>
<polygon points="946.3,151.8 1026.5,134.2 1027.5,138.6 1042.6,128.1 1024.5,124.9 1025.5,129.3 945.3,147" fill="#7f7f7f"/>
<polygon points="1102.6,86.5 1199.5,65.2 1199.5,129.1 1102.6,149.8" fill="#a9bce6"/>
<path d="M1102.6,86.5H1177.6V149.8H1102.6Z M1102.6,86.5L1123.5,65.2H1199.5L1177.6,86.5 M1199.5,65.2V129.1L1177.6,149.8" fill="none" stroke="#735410" stroke-width="2.1" stroke-linejoin="round"/>
<polygon points="1106.8,153.3 1185.7,81.8 1189,85.5 1199.5,65.8 1178.9,74.4 1182.2,78 1103.4,149.5" fill="#2f64ab"/>
<polyline points="930.7,187.1 963,187.1 995.3,187.1 1027.6,187.1 1059.9,176.9 1092.2,41.8 1124.5,22.6 1156.8,14.9 1189.1,15.5" fill="none" stroke="#9dc6ec" stroke-width="1"/>
<circle cx="930.7" cy="187.1" r="7.2" fill="url(#ball)"/>
<circle cx="963" cy="187.1" r="7.2" fill="url(#ball)"/>
<circle cx="995.3" cy="187.1" r="7.2" fill="url(#ball)"/>
<circle cx="1027.6" cy="187.1" r="7.2" fill="url(#ball)"/>
<circle cx="1059.9" cy="176.9" r="7.2" fill="url(#ball)"/>
<circle cx="1092.2" cy="41.8" r="7.2" fill="url(#ball)"/>
<circle cx="1124.5" cy="22.6" r="7.2" fill="url(#ball)"/>
<circle cx="1156.8" cy="14.9" r="7.2" fill="url(#ball)"/>
<circle cx="1189.1" cy="15.5" r="7.2" fill="url(#ball)"/>
<path d="M914.9,-3 V207.8 H1221.3 V-3" fill="none" stroke="#4d4d4d" stroke-width="1.5"/>
<path d="M914.9,187.1h4 M914.9,166.3h2 M914.9,145.6h4 M914.9,124.8h2 M914.9,104.1h4 M914.9,83.3h2 M914.9,62.6h4 M914.9,41.8h2 M914.9,21.1h4 M914.9,0.3h2 M930.7,207.8v-4.5 M963,207.8v-2.3 M995.3,207.8v-4.5 M1027.6,207.8v-2.3 M1059.9,207.8v-4.5 M1092.2,207.8v-2.3 M1124.5,207.8v-4.5 M1156.8,207.8v-2.3 M1189.1,207.8v-4.5" stroke="#1a1a1a" stroke-width="1.2"/>
<text x="909.5" y="191.5" font-size="12.5" font-weight="bold" text-anchor="end" fill="#000" >0.0</text>
<text x="909.5" y="150" font-size="12.5" font-weight="bold" text-anchor="end" fill="#000" >0.2</text>
<text x="909.5" y="108.5" font-size="12.5" font-weight="bold" text-anchor="end" fill="#000" >0.4</text>
<text x="909.5" y="67" font-size="12.5" font-weight="bold" text-anchor="end" fill="#000" >0.6</text>
<text x="909.5" y="25.5" font-size="12.5" font-weight="bold" text-anchor="end" fill="#000" >0.8</text>
<text x="930.7" y="223" font-size="12.5" font-weight="bold" text-anchor="middle" fill="#000" >2</text>
<text x="995.3" y="223" font-size="12.5" font-weight="bold" text-anchor="middle" fill="#000" >4</text>
<text x="1059.9" y="223" font-size="12.5" font-weight="bold" text-anchor="middle" fill="#000" >6</text>
<text x="1124.5" y="223" font-size="12.5" font-weight="bold" text-anchor="middle" fill="#000" >8</text>
<text x="1189.1" y="223" font-size="12.5" font-weight="bold" text-anchor="middle" fill="#000" >10</text>
<text x="1075.2" y="250.4" font-size="19.7" font-weight="normal" text-anchor="middle" fill="#000" >Bias (V)</text>
<text x="0" y="0" font-size="19.7" font-weight="normal" text-anchor="middle" fill="#000" transform="translate(873.2,88.3) rotate(-90)">Electrostrain (%)</text><defs><linearGradient id="bg0" x1="0" y1="0" x2="0" y2="1"><stop offset="0" stop-color="#c4dced"/><stop offset="1" stop-color="#dcebf5"/></linearGradient><linearGradient id="bg1" x1="0" y1="0" x2="0" y2="1"><stop offset="0" stop-color="#cfe8b8"/><stop offset="1" stop-color="#e2f2d6"/></linearGradient><linearGradient id="bg2" x1="0" y1="0" x2="0" y2="1"><stop offset="0" stop-color="#fbb5b7"/><stop offset="1" stop-color="#fdd3d4"/></linearGradient><linearGradient id="bg3" x1="0" y1="0" x2="0" y2="1"><stop offset="0" stop-color="#fdd5a0"/><stop offset="1" stop-color="#feeacb"/></linearGradient><linearGradient id="bg4" x1="0" y1="0" x2="0" y2="1"><stop offset="0" stop-color="#dccbe6"/><stop offset="1" stop-color="#ebe1f2"/></linearGradient></defs>
<rect x="932.2" y="339.8" width="36.7" height="188.7" fill="url(#bg0)"/>
<rect x="993.3" y="329.2" width="36.7" height="199.3" fill="url(#bg1)"/>
<rect x="1054.6" y="322.3" width="36.7" height="206.2" fill="url(#bg2)"/>
<rect x="1115.7" y="326.3" width="36.7" height="202.2" fill="url(#bg3)"/>
<rect x="1177.1" y="330.3" width="36.7" height="198.2" fill="url(#bg4)"/>
<path d="M920.1,301.2H1225.4V528.5" fill="none" stroke="#808080" stroke-width="1.6"/>
<path d="M920.1,300.4V528.5H1226.2" fill="none" stroke="#1a1a1a" stroke-width="1.5"/>
<path d="M920.1,512.3h4 M920.1,496h2 M920.1,479.7h4 M920.1,463.3h2 M920.1,447h4 M920.1,430.7h2 M920.1,414.4h4 M920.1,398.1h2 M920.1,381.7h4 M920.1,365.4h2 M920.1,349.1h4 M920.1,332.8h2 M920.1,316.5h4" stroke="#1a1a1a" stroke-width="1.2"/>
<text x="914.5" y="516.7" font-size="12.5" font-weight="bold" text-anchor="end" fill="#000" >0</text>
<text x="914.5" y="484.1" font-size="12.5" font-weight="bold" text-anchor="end" fill="#000" >200</text>
<text x="914.5" y="451.4" font-size="12.5" font-weight="bold" text-anchor="end" fill="#000" >400</text>
<text x="914.5" y="418.8" font-size="12.5" font-weight="bold" text-anchor="end" fill="#000" >600</text>
<text x="914.5" y="386.1" font-size="12.5" font-weight="bold" text-anchor="end" fill="#000" >800</text>
<text x="914.5" y="353.5" font-size="12.5" font-weight="bold" text-anchor="end" fill="#000" >1000</text>
<text x="914.5" y="320.9" font-size="12.5" font-weight="bold" text-anchor="end" fill="#000" >1200</text>
<text x="950.6" y="544.5" font-size="12.5" font-weight="bold" text-anchor="middle" fill="#000" >500</text>
<text x="1011.6" y="544.5" font-size="12.5" font-weight="bold" text-anchor="middle" fill="#000" >1000</text>
<text x="1072.9" y="544.5" font-size="12.5" font-weight="bold" text-anchor="middle" fill="#000" >2000</text>
<text x="1134" y="544.5" font-size="12.5" font-weight="bold" text-anchor="middle" fill="#000" >5000</text>
<text x="1195.4" y="544.5" font-size="12.5" font-weight="bold" text-anchor="middle" fill="#000" >10000</text>
<text x="0" y="0" font-size="19.7" font-weight="normal" text-anchor="middle" fill="#000" transform="translate(871.5,408.8) rotate(-90)">Displacement (pm)</text>
<text x="848.5" y="275.6" font-size="26.5" font-weight="bold" text-anchor="start" fill="#000" >e</text>
</svg></body></html>
